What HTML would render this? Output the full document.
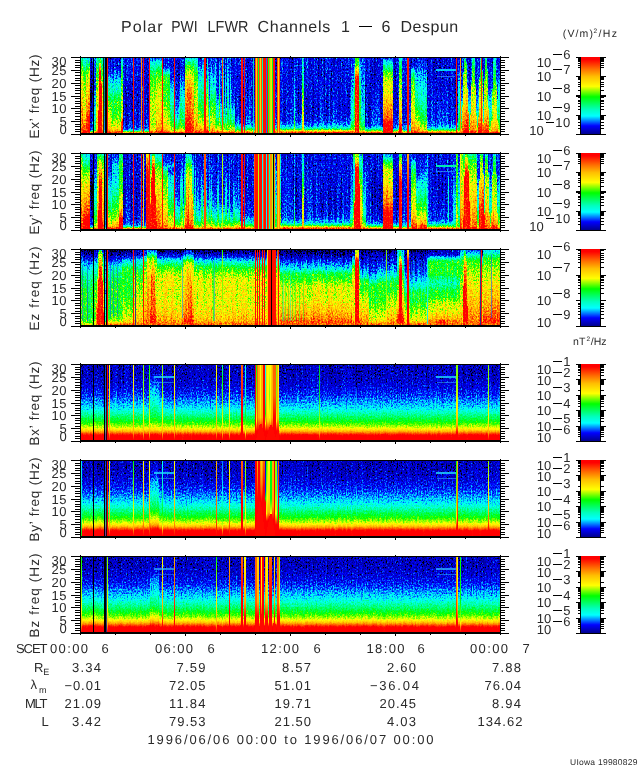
<!DOCTYPE html>
<html><head><meta charset="utf-8"><title>Polar PWI LFWR Channels 1 - 6 Despun</title>
<style>
html,body{margin:0;padding:0;background:#fff;}
body{width:640px;height:768px;overflow:hidden;}
svg{display:block;font-family:"Liberation Sans",sans-serif;}
text{fill:#2a2a2a;}
</style></head><body>
<svg width="640" height="768" viewBox="0 0 640 768" shape-rendering="crispEdges" text-rendering="geometricPrecision">
<defs>
<filter id="cmE" x="0" y="0" width="100%" height="100%" filterUnits="objectBoundingBox" color-interpolation-filters="sRGB">
 <feGaussianBlur in="SourceGraphic" stdDeviation="0.7 0.9" result="v"/>
 <feTurbulence type="fractalNoise" baseFrequency="0.8 0.55" numOctaves="2" seed="7" result="t"/>
 <feColorMatrix in="t" type="matrix" values="1.6 0 0 0 -0.3  1.6 0 0 0 -0.3  1.6 0 0 0 -0.3  0 0 0 0 1" result="n"/>
 <feTurbulence type="fractalNoise" baseFrequency="0.55 0.012" numOctaves="2" seed="11" result="t2"/>
 <feColorMatrix in="t2" type="matrix" values="1.6 0 0 0 -0.3  1.6 0 0 0 -0.3  1.6 0 0 0 -0.3  0 0 0 0 1" result="n2"/>
 <feComposite in="v" in2="n" operator="arithmetic" k1="0.120" k2="0.940" k3="0.2" k4="-0.1" result="s1"/>
 <feComposite in="s1" in2="n2" operator="arithmetic" k1="0" k2="1" k3="0.14" k4="-0.07" result="s"/>
 <feComponentTransfer in="s">
  <feFuncR type="table" tableValues="0.000 0.000 0.000 0.000 0.000 0.000 0.000 0.000 0.000 0.000 0.000 0.000 0.000 0.000 0.000 0.000 0.000 0.000 0.000 0.000 0.000 0.000 0.000 0.000 0.000 0.000 0.000 0.000 0.000 0.000 0.000 0.000 0.000 0.000 0.000 0.000 0.000 0.000 0.000 0.000 0.000 0.000 0.000 0.000 0.000 0.000 0.000 0.000 0.000 0.000 0.000 0.000 0.000 0.000 0.000 0.000 0.000 0.000 0.000 0.000 0.000 0.000 0.000 0.000 0.000 0.000 0.000 0.000 0.000 0.000 0.000 0.000 0.000 0.000 0.000 0.000 0.000 0.000 0.000 0.000 0.000 0.000 0.000 0.011 0.060 0.109 0.159 0.208 0.257 0.306 0.355 0.405 0.454 0.503 0.552 0.601 0.651 0.700 0.749 0.798 0.847 0.897 0.946 0.995 1.000 1.000 1.000 1.000 1.000 1.000 1.000 1.000 1.000 1.000 1.000 1.000 1.000 1.000 1.000 1.000 1.000 1.000 1.000 1.000 1.000 1.000 1.000 1.000 1.000 1.000 1.000 1.000 1.000 1.000 1.000 1.000 1.000 1.000 1.000 1.000 1.000 1.000 1.000 1.000 1.000 1.000 1.000 1.000 1.000 1.000 1.000 1.000 1.000 1.000 1.000 1.000 1.000 1.000 1.000 1.000"/>
  <feFuncG type="table" tableValues="0.000 0.000 0.000 0.000 0.000 0.000 0.000 0.000 0.000 0.000 0.000 0.000 0.000 0.000 0.000 0.000 0.000 0.000 0.000 0.000 0.000 0.000 0.000 0.000 0.000 0.000 0.000 0.000 0.051 0.104 0.157 0.209 0.262 0.315 0.367 0.420 0.473 0.525 0.578 0.631 0.683 0.736 0.789 0.842 0.894 0.947 1.000 1.000 1.000 1.000 1.000 1.000 1.000 1.000 1.000 1.000 1.000 1.000 1.000 1.000 1.000 1.000 1.000 1.000 1.000 1.000 1.000 1.000 1.000 1.000 1.000 1.000 1.000 1.000 1.000 1.000 1.000 1.000 1.000 1.000 1.000 1.000 1.000 1.000 1.000 1.000 1.000 1.000 1.000 1.000 1.000 1.000 1.000 1.000 1.000 1.000 1.000 1.000 1.000 1.000 1.000 1.000 1.000 1.000 0.988 0.975 0.961 0.948 0.934 0.921 0.907 0.894 0.881 0.867 0.854 0.840 0.827 0.813 0.800 0.787 0.773 0.760 0.746 0.725 0.704 0.682 0.660 0.639 0.617 0.595 0.574 0.552 0.531 0.509 0.487 0.466 0.444 0.421 0.397 0.373 0.349 0.325 0.301 0.277 0.253 0.229 0.205 0.181 0.157 0.133 0.109 0.085 0.061 0.036 0.012 0.000 0.000 0.000 0.000 0.000"/>
  <feFuncB type="table" tableValues="0.000 0.000 0.000 0.000 0.000 0.000 0.000 0.000 0.016 0.331 0.515 0.544 0.572 0.601 0.629 0.657 0.686 0.714 0.743 0.771 0.800 0.828 0.857 0.885 0.914 0.942 0.971 0.999 1.000 1.000 1.000 1.000 1.000 1.000 1.000 1.000 1.000 1.000 1.000 1.000 1.000 1.000 1.000 1.000 1.000 1.000 1.000 0.979 0.959 0.938 0.917 0.896 0.875 0.855 0.834 0.813 0.792 0.771 0.751 0.723 0.692 0.662 0.632 0.601 0.571 0.540 0.510 0.480 0.449 0.419 0.388 0.358 0.328 0.297 0.267 0.236 0.206 0.176 0.145 0.115 0.084 0.054 0.024 0.000 0.000 0.000 0.000 0.000 0.000 0.000 0.000 0.000 0.000 0.000 0.000 0.000 0.000 0.000 0.000 0.000 0.000 0.000 0.000 0.000 0.000 0.000 0.000 0.000 0.000 0.000 0.000 0.000 0.000 0.000 0.000 0.000 0.000 0.000 0.000 0.000 0.000 0.000 0.000 0.000 0.000 0.000 0.000 0.000 0.000 0.000 0.000 0.000 0.000 0.000 0.000 0.000 0.000 0.000 0.000 0.000 0.000 0.000 0.000 0.000 0.000 0.000 0.000 0.000 0.000 0.000 0.000 0.000 0.000 0.000 0.000 0.000 0.000 0.000 0.000 0.000"/>
  <feFuncA type="linear" slope="0" intercept="1"/>
 </feComponentTransfer>
</filter>
<filter id="cmB" x="0" y="0" width="100%" height="100%" filterUnits="objectBoundingBox" color-interpolation-filters="sRGB">
 <feGaussianBlur in="SourceGraphic" stdDeviation="0.7 0.9" result="v"/>
 <feTurbulence type="fractalNoise" baseFrequency="0.8 0.55" numOctaves="2" seed="11" result="t"/>
 <feColorMatrix in="t" type="matrix" values="1.6 0 0 0 -0.3  1.6 0 0 0 -0.3  1.6 0 0 0 -0.3  0 0 0 0 1" result="n"/>
 <feTurbulence type="fractalNoise" baseFrequency="0.55 0.012" numOctaves="2" seed="15" result="t2"/>
 <feColorMatrix in="t2" type="matrix" values="1.6 0 0 0 -0.3  1.6 0 0 0 -0.3  1.6 0 0 0 -0.3  0 0 0 0 1" result="n2"/>
 <feComposite in="v" in2="n" operator="arithmetic" k1="-0.176" k2="1.088" k3="0.22" k4="-0.11" result="s1"/>
 <feComposite in="s1" in2="n2" operator="arithmetic" k1="0" k2="1" k3="0.07" k4="-0.035" result="s"/>
 <feComponentTransfer in="s">
  <feFuncR type="table" tableValues="0.000 0.000 0.000 0.000 0.000 0.000 0.000 0.000 0.000 0.000 0.000 0.000 0.000 0.000 0.000 0.000 0.000 0.000 0.000 0.000 0.000 0.000 0.000 0.000 0.000 0.000 0.000 0.000 0.000 0.000 0.000 0.000 0.000 0.000 0.000 0.000 0.000 0.000 0.000 0.000 0.000 0.000 0.000 0.000 0.000 0.000 0.000 0.000 0.000 0.000 0.000 0.000 0.000 0.000 0.000 0.000 0.000 0.000 0.000 0.000 0.000 0.000 0.000 0.000 0.000 0.000 0.000 0.000 0.000 0.000 0.000 0.000 0.000 0.000 0.000 0.000 0.000 0.000 0.000 0.000 0.000 0.000 0.000 0.011 0.060 0.109 0.159 0.208 0.257 0.306 0.355 0.405 0.454 0.503 0.552 0.601 0.651 0.700 0.749 0.798 0.847 0.897 0.946 0.995 1.000 1.000 1.000 1.000 1.000 1.000 1.000 1.000 1.000 1.000 1.000 1.000 1.000 1.000 1.000 1.000 1.000 1.000 1.000 1.000 1.000 1.000 1.000 1.000 1.000 1.000 1.000 1.000 1.000 1.000 1.000 1.000 1.000 1.000 1.000 1.000 1.000 1.000 1.000 1.000 1.000 1.000 1.000 1.000 1.000 1.000 1.000 1.000 1.000 1.000 1.000 1.000 1.000 1.000 1.000 1.000"/>
  <feFuncG type="table" tableValues="0.000 0.000 0.000 0.000 0.000 0.000 0.000 0.000 0.000 0.000 0.000 0.000 0.000 0.000 0.000 0.000 0.000 0.000 0.000 0.000 0.000 0.000 0.000 0.000 0.000 0.000 0.000 0.000 0.051 0.104 0.157 0.209 0.262 0.315 0.367 0.420 0.473 0.525 0.578 0.631 0.683 0.736 0.789 0.842 0.894 0.947 1.000 1.000 1.000 1.000 1.000 1.000 1.000 1.000 1.000 1.000 1.000 1.000 1.000 1.000 1.000 1.000 1.000 1.000 1.000 1.000 1.000 1.000 1.000 1.000 1.000 1.000 1.000 1.000 1.000 1.000 1.000 1.000 1.000 1.000 1.000 1.000 1.000 1.000 1.000 1.000 1.000 1.000 1.000 1.000 1.000 1.000 1.000 1.000 1.000 1.000 1.000 1.000 1.000 1.000 1.000 1.000 1.000 1.000 0.988 0.975 0.961 0.948 0.934 0.921 0.907 0.894 0.881 0.867 0.854 0.840 0.827 0.813 0.800 0.787 0.773 0.760 0.746 0.725 0.704 0.682 0.660 0.639 0.617 0.595 0.574 0.552 0.531 0.509 0.487 0.466 0.444 0.421 0.397 0.373 0.349 0.325 0.301 0.277 0.253 0.229 0.205 0.181 0.157 0.133 0.109 0.085 0.061 0.036 0.012 0.000 0.000 0.000 0.000 0.000"/>
  <feFuncB type="table" tableValues="0.000 0.000 0.000 0.000 0.000 0.000 0.000 0.000 0.016 0.331 0.515 0.544 0.572 0.601 0.629 0.657 0.686 0.714 0.743 0.771 0.800 0.828 0.857 0.885 0.914 0.942 0.971 0.999 1.000 1.000 1.000 1.000 1.000 1.000 1.000 1.000 1.000 1.000 1.000 1.000 1.000 1.000 1.000 1.000 1.000 1.000 1.000 0.979 0.959 0.938 0.917 0.896 0.875 0.855 0.834 0.813 0.792 0.771 0.751 0.723 0.692 0.662 0.632 0.601 0.571 0.540 0.510 0.480 0.449 0.419 0.388 0.358 0.328 0.297 0.267 0.236 0.206 0.176 0.145 0.115 0.084 0.054 0.024 0.000 0.000 0.000 0.000 0.000 0.000 0.000 0.000 0.000 0.000 0.000 0.000 0.000 0.000 0.000 0.000 0.000 0.000 0.000 0.000 0.000 0.000 0.000 0.000 0.000 0.000 0.000 0.000 0.000 0.000 0.000 0.000 0.000 0.000 0.000 0.000 0.000 0.000 0.000 0.000 0.000 0.000 0.000 0.000 0.000 0.000 0.000 0.000 0.000 0.000 0.000 0.000 0.000 0.000 0.000 0.000 0.000 0.000 0.000 0.000 0.000 0.000 0.000 0.000 0.000 0.000 0.000 0.000 0.000 0.000 0.000 0.000 0.000 0.000 0.000 0.000 0.000"/>
  <feFuncA type="linear" slope="0" intercept="1"/>
 </feComponentTransfer>
</filter>
<linearGradient id="g0" gradientUnits="userSpaceOnUse" x1="0" y1="133" x2="0" y2="58"><stop offset="0.000" stop-color="#ffffff"/><stop offset="0.015" stop-color="#dddddd"/><stop offset="0.030" stop-color="#a6a6a6"/><stop offset="0.045" stop-color="#828282"/><stop offset="0.060" stop-color="#5e5e5e"/><stop offset="0.080" stop-color="#4a4a4a"/><stop offset="0.110" stop-color="#3d3d3d"/><stop offset="0.160" stop-color="#2e2e2e"/><stop offset="0.300" stop-color="#272727"/><stop offset="1.000" stop-color="#272727"/></linearGradient>
<linearGradient id="g1" gradientUnits="userSpaceOnUse" x1="0" y1="133" x2="0" y2="58"><stop offset="0.000" stop-color="#dddddd"/><stop offset="0.300" stop-color="#c8c8c8"/><stop offset="0.500" stop-color="#b7b7b7"/><stop offset="0.650" stop-color="#a6a6a6"/><stop offset="0.780" stop-color="#969696"/><stop offset="0.880" stop-color="#828282"/><stop offset="1.000" stop-color="#4a4a4a"/></linearGradient>
<linearGradient id="g2" gradientUnits="userSpaceOnUse" x1="0" y1="133" x2="0" y2="58"><stop offset="0.000" stop-color="#ffffff"/><stop offset="0.080" stop-color="#dddddd"/><stop offset="0.150" stop-color="#c8c8c8"/><stop offset="0.250" stop-color="#b7b7b7"/><stop offset="0.400" stop-color="#a6a6a6"/><stop offset="0.600" stop-color="#969696"/><stop offset="0.780" stop-color="#828282"/><stop offset="0.900" stop-color="#5e5e5e"/><stop offset="1.000" stop-color="#4a4a4a"/></linearGradient>
<linearGradient id="g3" gradientUnits="userSpaceOnUse" x1="0" y1="133" x2="0" y2="58"><stop offset="0.000" stop-color="#ffffff"/><stop offset="0.150" stop-color="#ffffff"/><stop offset="0.300" stop-color="#dddddd"/><stop offset="0.450" stop-color="#c8c8c8"/><stop offset="0.600" stop-color="#b7b7b7"/><stop offset="0.750" stop-color="#a6a6a6"/><stop offset="0.870" stop-color="#828282"/><stop offset="0.940" stop-color="#5e5e5e"/><stop offset="1.000" stop-color="#4a4a4a"/></linearGradient>
<linearGradient id="g4" gradientUnits="userSpaceOnUse" x1="0" y1="133" x2="0" y2="58"><stop offset="0.000" stop-color="#4a4a4a"/><stop offset="0.050" stop-color="#2e2e2e"/><stop offset="0.150" stop-color="#232323"/><stop offset="0.500" stop-color="#0b0b0b"/><stop offset="0.800" stop-color="#232323"/><stop offset="1.000" stop-color="#272727"/></linearGradient>
<linearGradient id="g5" gradientUnits="userSpaceOnUse" x1="0" y1="133" x2="0" y2="58"><stop offset="0.000" stop-color="#828282"/><stop offset="0.200" stop-color="#5e5e5e"/><stop offset="0.450" stop-color="#4a4a4a"/><stop offset="0.600" stop-color="#2e2e2e"/><stop offset="1.000" stop-color="#2e2e2e"/></linearGradient>
<linearGradient id="g6" gradientUnits="userSpaceOnUse" x1="0" y1="133" x2="0" y2="58"><stop offset="0.000" stop-color="#c8c8c8"/><stop offset="0.200" stop-color="#b7b7b7"/><stop offset="0.450" stop-color="#a6a6a6"/><stop offset="0.650" stop-color="#969696"/><stop offset="0.850" stop-color="#828282"/><stop offset="1.000" stop-color="#5e5e5e"/></linearGradient>
<linearGradient id="g7" gradientUnits="userSpaceOnUse" x1="0" y1="133" x2="0" y2="58"><stop offset="0.000" stop-color="#ffffff"/><stop offset="0.800" stop-color="#ffffff"/><stop offset="0.850" stop-color="#dddddd"/><stop offset="0.920" stop-color="#a6a6a6"/><stop offset="1.000" stop-color="#828282"/></linearGradient>
<linearGradient id="g8" gradientUnits="userSpaceOnUse" x1="0" y1="133" x2="0" y2="58"><stop offset="0.000" stop-color="#2e2e2e"/><stop offset="0.100" stop-color="#232323"/><stop offset="0.500" stop-color="#0b0b0b"/><stop offset="1.000" stop-color="#232323"/></linearGradient>
<linearGradient id="g9" gradientUnits="userSpaceOnUse" x1="0" y1="133" x2="0" y2="58"><stop offset="0.000" stop-color="#c8c8c8"/><stop offset="0.040" stop-color="#b7b7b7"/><stop offset="0.100" stop-color="#a6a6a6"/><stop offset="0.160" stop-color="#969696"/><stop offset="0.250" stop-color="#828282"/><stop offset="0.420" stop-color="#828282"/><stop offset="0.550" stop-color="#5e5e5e"/><stop offset="0.680" stop-color="#4a4a4a"/><stop offset="0.750" stop-color="#3d3d3d"/><stop offset="0.850" stop-color="#2e2e2e"/><stop offset="1.000" stop-color="#272727"/></linearGradient>
<linearGradient id="g10" gradientUnits="userSpaceOnUse" x1="0" y1="133" x2="0" y2="58"><stop offset="0.000" stop-color="#c8c8c8"/><stop offset="0.060" stop-color="#b7b7b7"/><stop offset="0.150" stop-color="#a6a6a6"/><stop offset="0.250" stop-color="#969696"/><stop offset="0.400" stop-color="#828282"/><stop offset="0.550" stop-color="#5e5e5e"/><stop offset="0.700" stop-color="#4a4a4a"/><stop offset="0.800" stop-color="#2e2e2e"/><stop offset="1.000" stop-color="#272727"/></linearGradient>
<linearGradient id="g11" gradientUnits="userSpaceOnUse" x1="0" y1="133" x2="0" y2="58"><stop offset="0.000" stop-color="#ffffff"/><stop offset="0.140" stop-color="#ffffff"/><stop offset="0.200" stop-color="#c8c8c8"/><stop offset="0.300" stop-color="#a6a6a6"/><stop offset="0.500" stop-color="#969696"/><stop offset="0.750" stop-color="#828282"/><stop offset="0.900" stop-color="#5e5e5e"/><stop offset="1.000" stop-color="#4a4a4a"/></linearGradient>
<linearGradient id="g12" gradientUnits="userSpaceOnUse" x1="0" y1="133" x2="0" y2="58"><stop offset="0.000" stop-color="#828282"/><stop offset="0.030" stop-color="#4a4a4a"/><stop offset="0.070" stop-color="#2e2e2e"/><stop offset="0.200" stop-color="#272727"/><stop offset="0.500" stop-color="#232323"/><stop offset="0.800" stop-color="#272727"/><stop offset="1.000" stop-color="#272727"/></linearGradient>
<linearGradient id="g13" gradientUnits="userSpaceOnUse" x1="0" y1="133" x2="0" y2="58"><stop offset="0.000" stop-color="#c8c8c8"/><stop offset="0.100" stop-color="#a6a6a6"/><stop offset="0.350" stop-color="#a6a6a6"/><stop offset="0.550" stop-color="#969696"/><stop offset="0.750" stop-color="#828282"/><stop offset="0.880" stop-color="#5e5e5e"/><stop offset="0.950" stop-color="#4a4a4a"/><stop offset="1.000" stop-color="#2e2e2e"/></linearGradient>
<linearGradient id="g14" gradientUnits="userSpaceOnUse" x1="0" y1="133" x2="0" y2="58"><stop offset="0.000" stop-color="#dddddd"/><stop offset="0.080" stop-color="#c8c8c8"/><stop offset="0.200" stop-color="#b7b7b7"/><stop offset="0.500" stop-color="#a6a6a6"/><stop offset="0.660" stop-color="#969696"/><stop offset="0.800" stop-color="#828282"/><stop offset="0.900" stop-color="#5e5e5e"/><stop offset="0.960" stop-color="#4a4a4a"/><stop offset="1.000" stop-color="#2e2e2e"/></linearGradient>
<linearGradient id="g15" gradientUnits="userSpaceOnUse" x1="0" y1="133" x2="0" y2="58"><stop offset="0.000" stop-color="#c8c8c8"/><stop offset="0.100" stop-color="#a6a6a6"/><stop offset="0.250" stop-color="#969696"/><stop offset="0.450" stop-color="#828282"/><stop offset="0.750" stop-color="#828282"/><stop offset="0.800" stop-color="#5e5e5e"/><stop offset="0.870" stop-color="#2e2e2e"/><stop offset="1.000" stop-color="#272727"/></linearGradient>
<linearGradient id="g16" gradientUnits="userSpaceOnUse" x1="0" y1="133" x2="0" y2="58"><stop offset="0.000" stop-color="#a6a6a6"/><stop offset="0.150" stop-color="#828282"/><stop offset="0.400" stop-color="#5e5e5e"/><stop offset="0.600" stop-color="#4a4a4a"/><stop offset="0.720" stop-color="#2e2e2e"/><stop offset="1.000" stop-color="#272727"/></linearGradient>
<linearGradient id="g17" gradientUnits="userSpaceOnUse" x1="0" y1="133" x2="0" y2="58"><stop offset="0.000" stop-color="#a6a6a6"/><stop offset="0.070" stop-color="#828282"/><stop offset="0.250" stop-color="#4a4a4a"/><stop offset="0.450" stop-color="#2e2e2e"/><stop offset="0.800" stop-color="#232323"/><stop offset="1.000" stop-color="#272727"/></linearGradient>
<linearGradient id="g18" gradientUnits="userSpaceOnUse" x1="0" y1="133" x2="0" y2="58"><stop offset="0.000" stop-color="#c8c8c8"/><stop offset="0.100" stop-color="#828282"/><stop offset="0.350" stop-color="#5e5e5e"/><stop offset="0.550" stop-color="#4a4a4a"/><stop offset="0.780" stop-color="#2e2e2e"/><stop offset="1.000" stop-color="#2e2e2e"/></linearGradient>
<linearGradient id="g19" gradientUnits="userSpaceOnUse" x1="0" y1="133" x2="0" y2="58"><stop offset="0.000" stop-color="#ffffff"/><stop offset="0.250" stop-color="#dddddd"/><stop offset="0.500" stop-color="#c8c8c8"/><stop offset="0.620" stop-color="#b7b7b7"/><stop offset="0.750" stop-color="#a6a6a6"/><stop offset="0.880" stop-color="#828282"/><stop offset="1.000" stop-color="#4a4a4a"/></linearGradient>
<linearGradient id="g20" gradientUnits="userSpaceOnUse" x1="0" y1="133" x2="0" y2="58"><stop offset="0.000" stop-color="#ffffff"/><stop offset="0.300" stop-color="#dddddd"/><stop offset="0.500" stop-color="#dddddd"/><stop offset="0.640" stop-color="#c8c8c8"/><stop offset="0.780" stop-color="#a6a6a6"/><stop offset="0.900" stop-color="#828282"/><stop offset="1.000" stop-color="#4a4a4a"/></linearGradient>
<linearGradient id="g21" gradientUnits="userSpaceOnUse" x1="0" y1="133" x2="0" y2="58"><stop offset="0.000" stop-color="#dddddd"/><stop offset="0.100" stop-color="#c8c8c8"/><stop offset="0.300" stop-color="#a6a6a6"/><stop offset="0.600" stop-color="#969696"/><stop offset="0.800" stop-color="#828282"/><stop offset="1.000" stop-color="#4a4a4a"/></linearGradient>
<linearGradient id="g22" gradientUnits="userSpaceOnUse" x1="0" y1="133" x2="0" y2="58"><stop offset="0.000" stop-color="#dddddd"/><stop offset="0.050" stop-color="#c8c8c8"/><stop offset="0.120" stop-color="#a6a6a6"/><stop offset="0.300" stop-color="#828282"/><stop offset="0.600" stop-color="#5e5e5e"/><stop offset="0.800" stop-color="#4a4a4a"/><stop offset="1.000" stop-color="#2e2e2e"/></linearGradient>
<linearGradient id="g23" gradientUnits="userSpaceOnUse" x1="0" y1="133" x2="0" y2="58"><stop offset="0.000" stop-color="#dddddd"/><stop offset="0.050" stop-color="#c8c8c8"/><stop offset="0.120" stop-color="#a6a6a6"/><stop offset="0.250" stop-color="#969696"/><stop offset="0.400" stop-color="#828282"/><stop offset="0.550" stop-color="#5e5e5e"/><stop offset="0.700" stop-color="#4a4a4a"/><stop offset="0.880" stop-color="#2e2e2e"/><stop offset="1.000" stop-color="#272727"/></linearGradient>
<linearGradient id="g24" gradientUnits="userSpaceOnUse" x1="0" y1="133" x2="0" y2="58"><stop offset="0.000" stop-color="#dddddd"/><stop offset="0.100" stop-color="#c8c8c8"/><stop offset="0.300" stop-color="#a6a6a6"/><stop offset="0.500" stop-color="#969696"/><stop offset="0.700" stop-color="#828282"/><stop offset="0.850" stop-color="#5e5e5e"/><stop offset="1.000" stop-color="#4a4a4a"/></linearGradient>
<linearGradient id="g25" gradientUnits="userSpaceOnUse" x1="0" y1="133" x2="0" y2="58"><stop offset="0.000" stop-color="#828282"/><stop offset="0.150" stop-color="#5e5e5e"/><stop offset="0.300" stop-color="#4a4a4a"/><stop offset="0.550" stop-color="#2e2e2e"/><stop offset="1.000" stop-color="#272727"/></linearGradient>
<linearGradient id="g26" gradientUnits="userSpaceOnUse" x1="0" y1="133" x2="0" y2="58"><stop offset="0.000" stop-color="#c8c8c8"/><stop offset="0.050" stop-color="#a6a6a6"/><stop offset="0.100" stop-color="#828282"/><stop offset="0.200" stop-color="#5e5e5e"/><stop offset="0.320" stop-color="#4a4a4a"/><stop offset="0.500" stop-color="#2e2e2e"/><stop offset="1.000" stop-color="#272727"/></linearGradient>
<linearGradient id="g27" gradientUnits="userSpaceOnUse" x1="0" y1="133" x2="0" y2="58"><stop offset="0.000" stop-color="#a6a6a6"/><stop offset="0.150" stop-color="#969696"/><stop offset="0.400" stop-color="#828282"/><stop offset="0.600" stop-color="#5e5e5e"/><stop offset="0.800" stop-color="#4a4a4a"/><stop offset="1.000" stop-color="#2e2e2e"/></linearGradient>
<linearGradient id="g28" gradientUnits="userSpaceOnUse" x1="0" y1="133" x2="0" y2="58"><stop offset="0.000" stop-color="#c8c8c8"/><stop offset="0.040" stop-color="#a6a6a6"/><stop offset="0.090" stop-color="#828282"/><stop offset="0.160" stop-color="#5e5e5e"/><stop offset="0.260" stop-color="#4a4a4a"/><stop offset="0.420" stop-color="#2e2e2e"/><stop offset="0.800" stop-color="#272727"/><stop offset="1.000" stop-color="#272727"/></linearGradient>
<linearGradient id="g29" gradientUnits="userSpaceOnUse" x1="0" y1="133" x2="0" y2="58"><stop offset="0.000" stop-color="#a6a6a6"/><stop offset="0.150" stop-color="#828282"/><stop offset="0.400" stop-color="#5e5e5e"/><stop offset="0.700" stop-color="#4a4a4a"/><stop offset="1.000" stop-color="#2e2e2e"/></linearGradient>
<linearGradient id="g30" gradientUnits="userSpaceOnUse" x1="0" y1="133" x2="0" y2="58"><stop offset="0.000" stop-color="#a6a6a6"/><stop offset="0.040" stop-color="#828282"/><stop offset="0.100" stop-color="#4a4a4a"/><stop offset="0.200" stop-color="#2e2e2e"/><stop offset="0.500" stop-color="#272727"/><stop offset="1.000" stop-color="#272727"/></linearGradient>
<linearGradient id="g31" gradientUnits="userSpaceOnUse" x1="0" y1="133" x2="0" y2="58"><stop offset="0.000" stop-color="#c8c8c8"/><stop offset="0.040" stop-color="#828282"/><stop offset="0.080" stop-color="#4a4a4a"/><stop offset="0.150" stop-color="#2e2e2e"/><stop offset="0.400" stop-color="#272727"/><stop offset="1.000" stop-color="#272727"/></linearGradient>
<linearGradient id="g32" gradientUnits="userSpaceOnUse" x1="0" y1="133" x2="0" y2="58"><stop offset="0.000" stop-color="#a6a6a6"/><stop offset="0.100" stop-color="#828282"/><stop offset="0.300" stop-color="#4a4a4a"/><stop offset="0.600" stop-color="#3d3d3d"/><stop offset="1.000" stop-color="#2e2e2e"/></linearGradient>
<linearGradient id="g33" gradientUnits="userSpaceOnUse" x1="0" y1="133" x2="0" y2="58"><stop offset="0.000" stop-color="#c8c8c8"/><stop offset="0.120" stop-color="#a6a6a6"/><stop offset="0.350" stop-color="#969696"/><stop offset="0.550" stop-color="#828282"/><stop offset="0.750" stop-color="#5e5e5e"/><stop offset="1.000" stop-color="#4a4a4a"/></linearGradient>
<linearGradient id="g34" gradientUnits="userSpaceOnUse" x1="0" y1="133" x2="0" y2="58"><stop offset="0.000" stop-color="#c8c8c8"/><stop offset="0.030" stop-color="#a6a6a6"/><stop offset="0.080" stop-color="#828282"/><stop offset="0.200" stop-color="#5e5e5e"/><stop offset="0.400" stop-color="#4a4a4a"/><stop offset="0.600" stop-color="#3d3d3d"/><stop offset="0.820" stop-color="#2e2e2e"/><stop offset="1.000" stop-color="#272727"/></linearGradient>
<linearGradient id="g35" gradientUnits="userSpaceOnUse" x1="0" y1="133" x2="0" y2="58"><stop offset="0.000" stop-color="#a6a6a6"/><stop offset="0.100" stop-color="#969696"/><stop offset="0.350" stop-color="#828282"/><stop offset="0.500" stop-color="#828282"/><stop offset="0.700" stop-color="#5e5e5e"/><stop offset="0.850" stop-color="#4a4a4a"/><stop offset="0.930" stop-color="#3d3d3d"/><stop offset="1.000" stop-color="#2e2e2e"/></linearGradient>
<linearGradient id="g36" gradientUnits="userSpaceOnUse" x1="0" y1="133" x2="0" y2="58"><stop offset="0.000" stop-color="#ffffff"/><stop offset="0.720" stop-color="#ffffff"/><stop offset="0.800" stop-color="#c8c8c8"/><stop offset="0.860" stop-color="#a6a6a6"/><stop offset="0.920" stop-color="#828282"/><stop offset="1.000" stop-color="#828282"/></linearGradient>
<linearGradient id="g37" gradientUnits="userSpaceOnUse" x1="0" y1="133" x2="0" y2="58"><stop offset="0.000" stop-color="#c8c8c8"/><stop offset="0.030" stop-color="#828282"/><stop offset="0.060" stop-color="#4a4a4a"/><stop offset="0.100" stop-color="#2e2e2e"/><stop offset="0.250" stop-color="#272727"/><stop offset="0.500" stop-color="#232323"/><stop offset="1.000" stop-color="#272727"/></linearGradient>
<linearGradient id="g38" gradientUnits="userSpaceOnUse" x1="0" y1="133" x2="0" y2="58"><stop offset="0.000" stop-color="#ffffff"/><stop offset="0.130" stop-color="#ffffff"/><stop offset="0.200" stop-color="#dddddd"/><stop offset="0.350" stop-color="#c8c8c8"/><stop offset="0.450" stop-color="#b7b7b7"/><stop offset="0.550" stop-color="#a6a6a6"/><stop offset="0.680" stop-color="#a6a6a6"/><stop offset="0.760" stop-color="#969696"/><stop offset="0.820" stop-color="#828282"/><stop offset="0.900" stop-color="#5e5e5e"/><stop offset="0.950" stop-color="#4a4a4a"/><stop offset="1.000" stop-color="#2e2e2e"/></linearGradient>
<linearGradient id="g39" gradientUnits="userSpaceOnUse" x1="0" y1="133" x2="0" y2="58"><stop offset="0.000" stop-color="#c8c8c8"/><stop offset="0.050" stop-color="#4a4a4a"/><stop offset="0.100" stop-color="#2e2e2e"/><stop offset="0.300" stop-color="#272727"/><stop offset="0.600" stop-color="#232323"/><stop offset="1.000" stop-color="#272727"/></linearGradient>
<linearGradient id="g40" gradientUnits="userSpaceOnUse" x1="0" y1="133" x2="0" y2="58"><stop offset="0.000" stop-color="#ffffff"/><stop offset="0.080" stop-color="#ffffff"/><stop offset="0.180" stop-color="#c8c8c8"/><stop offset="0.300" stop-color="#b7b7b7"/><stop offset="0.450" stop-color="#a6a6a6"/><stop offset="0.650" stop-color="#969696"/><stop offset="0.820" stop-color="#828282"/><stop offset="0.950" stop-color="#5e5e5e"/><stop offset="1.000" stop-color="#4a4a4a"/></linearGradient>
<linearGradient id="g41" gradientUnits="userSpaceOnUse" x1="0" y1="133" x2="0" y2="58"><stop offset="0.000" stop-color="#828282"/><stop offset="0.050" stop-color="#4a4a4a"/><stop offset="0.120" stop-color="#2e2e2e"/><stop offset="0.500" stop-color="#272727"/><stop offset="1.000" stop-color="#2e2e2e"/></linearGradient>
<linearGradient id="g42" gradientUnits="userSpaceOnUse" x1="0" y1="133" x2="0" y2="58"><stop offset="0.000" stop-color="#dddddd"/><stop offset="0.100" stop-color="#c8c8c8"/><stop offset="0.250" stop-color="#a6a6a6"/><stop offset="0.500" stop-color="#969696"/><stop offset="0.700" stop-color="#828282"/><stop offset="0.820" stop-color="#5e5e5e"/><stop offset="0.880" stop-color="#2e2e2e"/><stop offset="1.000" stop-color="#272727"/></linearGradient>
<linearGradient id="g43" gradientUnits="userSpaceOnUse" x1="0" y1="133" x2="0" y2="58"><stop offset="0.000" stop-color="#dddddd"/><stop offset="0.080" stop-color="#c8c8c8"/><stop offset="0.140" stop-color="#a6a6a6"/><stop offset="0.300" stop-color="#828282"/><stop offset="0.500" stop-color="#5e5e5e"/><stop offset="0.700" stop-color="#4a4a4a"/><stop offset="0.820" stop-color="#3d3d3d"/><stop offset="0.880" stop-color="#2e2e2e"/><stop offset="1.000" stop-color="#272727"/></linearGradient>
<linearGradient id="g44" gradientUnits="userSpaceOnUse" x1="0" y1="133" x2="0" y2="58"><stop offset="0.000" stop-color="#c8c8c8"/><stop offset="0.050" stop-color="#a6a6a6"/><stop offset="0.150" stop-color="#828282"/><stop offset="0.400" stop-color="#5e5e5e"/><stop offset="0.650" stop-color="#4a4a4a"/><stop offset="0.800" stop-color="#3d3d3d"/><stop offset="0.880" stop-color="#2e2e2e"/><stop offset="1.000" stop-color="#272727"/></linearGradient>
<linearGradient id="g45" gradientUnits="userSpaceOnUse" x1="0" y1="133" x2="0" y2="58"><stop offset="0.000" stop-color="#c8c8c8"/><stop offset="0.015" stop-color="#a6a6a6"/><stop offset="0.035" stop-color="#828282"/><stop offset="0.060" stop-color="#4a4a4a"/><stop offset="0.090" stop-color="#3d3d3d"/><stop offset="0.130" stop-color="#2e2e2e"/><stop offset="0.300" stop-color="#272727"/><stop offset="0.600" stop-color="#232323"/><stop offset="1.000" stop-color="#272727"/></linearGradient>
<linearGradient id="g46" gradientUnits="userSpaceOnUse" x1="0" y1="133" x2="0" y2="58"><stop offset="0.000" stop-color="#828282"/><stop offset="0.300" stop-color="#5e5e5e"/><stop offset="0.600" stop-color="#4a4a4a"/><stop offset="0.900" stop-color="#2e2e2e"/></linearGradient>
<linearGradient id="g47" gradientUnits="userSpaceOnUse" x1="0" y1="133" x2="0" y2="58"><stop offset="0.000" stop-color="#a6a6a6"/><stop offset="0.100" stop-color="#828282"/><stop offset="0.220" stop-color="#5e5e5e"/><stop offset="0.380" stop-color="#4a4a4a"/><stop offset="0.600" stop-color="#2e2e2e"/><stop offset="1.000" stop-color="#272727"/></linearGradient>
<linearGradient id="g48" gradientUnits="userSpaceOnUse" x1="0" y1="133" x2="0" y2="58"><stop offset="0.000" stop-color="#ffffff"/><stop offset="0.120" stop-color="#dddddd"/><stop offset="0.280" stop-color="#c8c8c8"/><stop offset="0.400" stop-color="#b7b7b7"/><stop offset="0.550" stop-color="#a6a6a6"/><stop offset="0.750" stop-color="#969696"/><stop offset="0.900" stop-color="#828282"/><stop offset="1.000" stop-color="#5e5e5e"/></linearGradient>
<linearGradient id="g49" gradientUnits="userSpaceOnUse" x1="0" y1="133" x2="0" y2="58"><stop offset="0.000" stop-color="#dddddd"/><stop offset="0.120" stop-color="#c8c8c8"/><stop offset="0.220" stop-color="#b7b7b7"/><stop offset="0.400" stop-color="#a6a6a6"/><stop offset="0.600" stop-color="#969696"/><stop offset="0.820" stop-color="#828282"/><stop offset="1.000" stop-color="#5e5e5e"/></linearGradient>
<linearGradient id="g50" gradientUnits="userSpaceOnUse" x1="0" y1="133" x2="0" y2="58"><stop offset="0.000" stop-color="#ffffff"/><stop offset="0.150" stop-color="#c8c8c8"/><stop offset="0.400" stop-color="#a6a6a6"/><stop offset="0.650" stop-color="#969696"/><stop offset="0.850" stop-color="#828282"/><stop offset="1.000" stop-color="#5e5e5e"/></linearGradient>
<linearGradient id="g51" gradientUnits="userSpaceOnUse" x1="0" y1="133" x2="0" y2="58"><stop offset="0.000" stop-color="#ffffff"/><stop offset="0.100" stop-color="#dddddd"/><stop offset="0.200" stop-color="#c8c8c8"/><stop offset="0.420" stop-color="#a6a6a6"/><stop offset="0.650" stop-color="#969696"/><stop offset="0.850" stop-color="#828282"/><stop offset="1.000" stop-color="#5e5e5e"/></linearGradient>
<linearGradient id="g52" gradientUnits="userSpaceOnUse" x1="0" y1="133" x2="0" y2="58"><stop offset="0.000" stop-color="#c8c8c8"/><stop offset="0.200" stop-color="#a6a6a6"/><stop offset="0.500" stop-color="#969696"/><stop offset="0.750" stop-color="#828282"/><stop offset="1.000" stop-color="#5e5e5e"/></linearGradient>
<linearGradient id="g53" gradientUnits="userSpaceOnUse" x1="0" y1="133" x2="0" y2="58"><stop offset="0.000" stop-color="#a6a6a6"/><stop offset="0.150" stop-color="#828282"/><stop offset="0.400" stop-color="#5e5e5e"/><stop offset="0.600" stop-color="#4a4a4a"/><stop offset="0.800" stop-color="#2e2e2e"/><stop offset="1.000" stop-color="#272727"/></linearGradient>
<linearGradient id="g54" gradientUnits="userSpaceOnUse" x1="0" y1="229" x2="0" y2="154"><stop offset="0.000" stop-color="#ffffff"/><stop offset="0.015" stop-color="#dddddd"/><stop offset="0.030" stop-color="#a6a6a6"/><stop offset="0.045" stop-color="#828282"/><stop offset="0.060" stop-color="#5e5e5e"/><stop offset="0.080" stop-color="#4a4a4a"/><stop offset="0.110" stop-color="#3d3d3d"/><stop offset="0.160" stop-color="#2e2e2e"/><stop offset="0.300" stop-color="#272727"/><stop offset="1.000" stop-color="#272727"/></linearGradient>
<linearGradient id="g55" gradientUnits="userSpaceOnUse" x1="0" y1="229" x2="0" y2="154"><stop offset="0.000" stop-color="#ffffff"/><stop offset="0.200" stop-color="#dddddd"/><stop offset="0.420" stop-color="#c8c8c8"/><stop offset="0.600" stop-color="#b7b7b7"/><stop offset="0.720" stop-color="#a6a6a6"/><stop offset="0.850" stop-color="#969696"/><stop offset="0.950" stop-color="#828282"/><stop offset="1.000" stop-color="#5e5e5e"/></linearGradient>
<linearGradient id="g56" gradientUnits="userSpaceOnUse" x1="0" y1="229" x2="0" y2="154"><stop offset="0.000" stop-color="#ffffff"/><stop offset="0.120" stop-color="#ffffff"/><stop offset="0.220" stop-color="#dddddd"/><stop offset="0.360" stop-color="#c8c8c8"/><stop offset="0.480" stop-color="#b7b7b7"/><stop offset="0.600" stop-color="#a6a6a6"/><stop offset="0.700" stop-color="#969696"/><stop offset="0.800" stop-color="#828282"/><stop offset="0.900" stop-color="#5e5e5e"/><stop offset="1.000" stop-color="#4a4a4a"/></linearGradient>
<linearGradient id="g57" gradientUnits="userSpaceOnUse" x1="0" y1="229" x2="0" y2="154"><stop offset="0.000" stop-color="#4a4a4a"/><stop offset="0.050" stop-color="#2e2e2e"/><stop offset="0.150" stop-color="#232323"/><stop offset="0.500" stop-color="#0b0b0b"/><stop offset="0.800" stop-color="#232323"/><stop offset="1.000" stop-color="#272727"/></linearGradient>
<linearGradient id="g58" gradientUnits="userSpaceOnUse" x1="0" y1="229" x2="0" y2="154"><stop offset="0.000" stop-color="#a6a6a6"/><stop offset="0.150" stop-color="#828282"/><stop offset="0.350" stop-color="#5e5e5e"/><stop offset="0.600" stop-color="#4a4a4a"/><stop offset="0.850" stop-color="#2e2e2e"/><stop offset="1.000" stop-color="#2e2e2e"/></linearGradient>
<linearGradient id="g59" gradientUnits="userSpaceOnUse" x1="0" y1="229" x2="0" y2="154"><stop offset="0.000" stop-color="#dddddd"/><stop offset="0.200" stop-color="#c8c8c8"/><stop offset="0.400" stop-color="#b7b7b7"/><stop offset="0.600" stop-color="#a6a6a6"/><stop offset="0.800" stop-color="#969696"/><stop offset="0.920" stop-color="#828282"/><stop offset="1.000" stop-color="#5e5e5e"/></linearGradient>
<linearGradient id="g60" gradientUnits="userSpaceOnUse" x1="0" y1="229" x2="0" y2="154"><stop offset="0.000" stop-color="#ffffff"/><stop offset="0.600" stop-color="#ffffff"/><stop offset="0.720" stop-color="#dddddd"/><stop offset="0.800" stop-color="#c8c8c8"/><stop offset="0.900" stop-color="#a6a6a6"/><stop offset="1.000" stop-color="#828282"/></linearGradient>
<linearGradient id="g61" gradientUnits="userSpaceOnUse" x1="0" y1="229" x2="0" y2="154"><stop offset="0.000" stop-color="#2e2e2e"/><stop offset="0.100" stop-color="#232323"/><stop offset="0.500" stop-color="#0b0b0b"/><stop offset="1.000" stop-color="#232323"/></linearGradient>
<linearGradient id="g62" gradientUnits="userSpaceOnUse" x1="0" y1="229" x2="0" y2="154"><stop offset="0.000" stop-color="#c8c8c8"/><stop offset="0.060" stop-color="#a6a6a6"/><stop offset="0.200" stop-color="#828282"/><stop offset="0.400" stop-color="#5e5e5e"/><stop offset="0.600" stop-color="#4a4a4a"/><stop offset="0.800" stop-color="#2e2e2e"/><stop offset="1.000" stop-color="#272727"/></linearGradient>
<linearGradient id="g63" gradientUnits="userSpaceOnUse" x1="0" y1="229" x2="0" y2="154"><stop offset="0.000" stop-color="#dddddd"/><stop offset="0.040" stop-color="#c8c8c8"/><stop offset="0.100" stop-color="#a6a6a6"/><stop offset="0.170" stop-color="#969696"/><stop offset="0.270" stop-color="#828282"/><stop offset="0.400" stop-color="#6f6f6f"/><stop offset="0.500" stop-color="#5e5e5e"/><stop offset="0.650" stop-color="#4a4a4a"/><stop offset="0.850" stop-color="#4a4a4a"/><stop offset="0.950" stop-color="#2e2e2e"/></linearGradient>
<linearGradient id="g64" gradientUnits="userSpaceOnUse" x1="0" y1="229" x2="0" y2="154"><stop offset="0.000" stop-color="#ffffff"/><stop offset="0.130" stop-color="#ffffff"/><stop offset="0.200" stop-color="#c8c8c8"/><stop offset="0.300" stop-color="#a6a6a6"/><stop offset="0.450" stop-color="#969696"/><stop offset="0.600" stop-color="#828282"/><stop offset="0.850" stop-color="#828282"/><stop offset="1.000" stop-color="#5e5e5e"/></linearGradient>
<linearGradient id="g65" gradientUnits="userSpaceOnUse" x1="0" y1="229" x2="0" y2="154"><stop offset="0.000" stop-color="#828282"/><stop offset="0.030" stop-color="#4a4a4a"/><stop offset="0.070" stop-color="#2e2e2e"/><stop offset="0.200" stop-color="#272727"/><stop offset="0.500" stop-color="#232323"/><stop offset="0.800" stop-color="#272727"/><stop offset="1.000" stop-color="#272727"/></linearGradient>
<linearGradient id="g66" gradientUnits="userSpaceOnUse" x1="0" y1="229" x2="0" y2="154"><stop offset="0.000" stop-color="#ffffff"/><stop offset="0.700" stop-color="#ffffff"/><stop offset="0.850" stop-color="#dddddd"/><stop offset="0.940" stop-color="#c8c8c8"/><stop offset="1.000" stop-color="#a6a6a6"/></linearGradient>
<linearGradient id="g67" gradientUnits="userSpaceOnUse" x1="0" y1="229" x2="0" y2="154"><stop offset="0.000" stop-color="#dddddd"/><stop offset="0.200" stop-color="#c8c8c8"/><stop offset="0.400" stop-color="#b7b7b7"/><stop offset="0.600" stop-color="#a6a6a6"/><stop offset="0.750" stop-color="#969696"/><stop offset="0.850" stop-color="#828282"/><stop offset="0.920" stop-color="#5e5e5e"/><stop offset="1.000" stop-color="#4a4a4a"/></linearGradient>
<linearGradient id="g68" gradientUnits="userSpaceOnUse" x1="0" y1="229" x2="0" y2="154"><stop offset="0.000" stop-color="#ffffff"/><stop offset="0.750" stop-color="#ffffff"/><stop offset="0.850" stop-color="#dddddd"/><stop offset="0.900" stop-color="#c8c8c8"/><stop offset="0.950" stop-color="#a6a6a6"/><stop offset="1.000" stop-color="#828282"/></linearGradient>
<linearGradient id="g69" gradientUnits="userSpaceOnUse" x1="0" y1="229" x2="0" y2="154"><stop offset="0.000" stop-color="#dddddd"/><stop offset="0.120" stop-color="#c8c8c8"/><stop offset="0.250" stop-color="#b7b7b7"/><stop offset="0.400" stop-color="#a6a6a6"/><stop offset="0.580" stop-color="#969696"/><stop offset="0.720" stop-color="#828282"/><stop offset="0.780" stop-color="#5e5e5e"/><stop offset="0.830" stop-color="#4a4a4a"/><stop offset="0.890" stop-color="#2e2e2e"/><stop offset="1.000" stop-color="#272727"/></linearGradient>
<linearGradient id="g70" gradientUnits="userSpaceOnUse" x1="0" y1="229" x2="0" y2="154"><stop offset="0.000" stop-color="#c8c8c8"/><stop offset="0.100" stop-color="#a6a6a6"/><stop offset="0.180" stop-color="#969696"/><stop offset="0.300" stop-color="#828282"/><stop offset="0.500" stop-color="#5e5e5e"/><stop offset="0.700" stop-color="#4a4a4a"/><stop offset="0.760" stop-color="#2e2e2e"/><stop offset="0.800" stop-color="#2e2e2e"/><stop offset="0.840" stop-color="#4a4a4a"/><stop offset="0.900" stop-color="#2e2e2e"/><stop offset="1.000" stop-color="#272727"/></linearGradient>
<linearGradient id="g71" gradientUnits="userSpaceOnUse" x1="0" y1="229" x2="0" y2="154"><stop offset="0.000" stop-color="#a6a6a6"/><stop offset="0.070" stop-color="#828282"/><stop offset="0.160" stop-color="#5e5e5e"/><stop offset="0.280" stop-color="#4a4a4a"/><stop offset="0.450" stop-color="#2e2e2e"/><stop offset="0.800" stop-color="#272727"/><stop offset="1.000" stop-color="#272727"/></linearGradient>
<linearGradient id="g72" gradientUnits="userSpaceOnUse" x1="0" y1="229" x2="0" y2="154"><stop offset="0.000" stop-color="#a6a6a6"/><stop offset="0.200" stop-color="#828282"/><stop offset="0.400" stop-color="#5e5e5e"/><stop offset="0.600" stop-color="#4a4a4a"/><stop offset="0.850" stop-color="#2e2e2e"/></linearGradient>
<linearGradient id="g73" gradientUnits="userSpaceOnUse" x1="0" y1="229" x2="0" y2="154"><stop offset="0.000" stop-color="#dddddd"/><stop offset="0.100" stop-color="#a6a6a6"/><stop offset="0.300" stop-color="#828282"/><stop offset="0.550" stop-color="#5e5e5e"/><stop offset="0.780" stop-color="#4a4a4a"/><stop offset="0.950" stop-color="#2e2e2e"/></linearGradient>
<linearGradient id="g74" gradientUnits="userSpaceOnUse" x1="0" y1="229" x2="0" y2="154"><stop offset="0.000" stop-color="#ffffff"/><stop offset="0.080" stop-color="#dddddd"/><stop offset="0.250" stop-color="#c8c8c8"/><stop offset="0.450" stop-color="#b7b7b7"/><stop offset="0.650" stop-color="#a6a6a6"/><stop offset="0.780" stop-color="#969696"/><stop offset="0.860" stop-color="#828282"/><stop offset="0.930" stop-color="#5e5e5e"/><stop offset="1.000" stop-color="#4a4a4a"/></linearGradient>
<linearGradient id="g75" gradientUnits="userSpaceOnUse" x1="0" y1="229" x2="0" y2="154"><stop offset="0.000" stop-color="#ffffff"/><stop offset="0.300" stop-color="#dddddd"/><stop offset="0.550" stop-color="#c8c8c8"/><stop offset="0.700" stop-color="#b7b7b7"/><stop offset="0.780" stop-color="#a6a6a6"/><stop offset="0.880" stop-color="#828282"/><stop offset="1.000" stop-color="#4a4a4a"/></linearGradient>
<linearGradient id="g76" gradientUnits="userSpaceOnUse" x1="0" y1="229" x2="0" y2="154"><stop offset="0.000" stop-color="#a6a6a6"/><stop offset="0.060" stop-color="#828282"/><stop offset="0.130" stop-color="#5e5e5e"/><stop offset="0.240" stop-color="#4a4a4a"/><stop offset="0.360" stop-color="#3d3d3d"/><stop offset="0.500" stop-color="#2e2e2e"/><stop offset="1.000" stop-color="#272727"/></linearGradient>
<linearGradient id="g77" gradientUnits="userSpaceOnUse" x1="0" y1="229" x2="0" y2="154"><stop offset="0.000" stop-color="#a6a6a6"/><stop offset="0.150" stop-color="#828282"/><stop offset="0.350" stop-color="#5e5e5e"/><stop offset="0.550" stop-color="#4a4a4a"/><stop offset="0.700" stop-color="#3d3d3d"/><stop offset="0.850" stop-color="#2e2e2e"/></linearGradient>
<linearGradient id="g78" gradientUnits="userSpaceOnUse" x1="0" y1="229" x2="0" y2="154"><stop offset="0.000" stop-color="#c8c8c8"/><stop offset="0.040" stop-color="#a6a6a6"/><stop offset="0.100" stop-color="#828282"/><stop offset="0.200" stop-color="#5e5e5e"/><stop offset="0.300" stop-color="#4a4a4a"/><stop offset="0.420" stop-color="#3d3d3d"/><stop offset="0.550" stop-color="#2e2e2e"/><stop offset="1.000" stop-color="#272727"/></linearGradient>
<linearGradient id="g79" gradientUnits="userSpaceOnUse" x1="0" y1="229" x2="0" y2="154"><stop offset="0.000" stop-color="#a6a6a6"/><stop offset="0.060" stop-color="#828282"/><stop offset="0.140" stop-color="#5e5e5e"/><stop offset="0.240" stop-color="#4a4a4a"/><stop offset="0.400" stop-color="#2e2e2e"/><stop offset="1.000" stop-color="#272727"/></linearGradient>
<linearGradient id="g80" gradientUnits="userSpaceOnUse" x1="0" y1="229" x2="0" y2="154"><stop offset="0.000" stop-color="#a6a6a6"/><stop offset="0.120" stop-color="#828282"/><stop offset="0.300" stop-color="#5e5e5e"/><stop offset="0.500" stop-color="#4a4a4a"/><stop offset="0.620" stop-color="#3d3d3d"/><stop offset="0.750" stop-color="#2e2e2e"/></linearGradient>
<linearGradient id="g81" gradientUnits="userSpaceOnUse" x1="0" y1="229" x2="0" y2="154"><stop offset="0.000" stop-color="#c8c8c8"/><stop offset="0.030" stop-color="#a6a6a6"/><stop offset="0.080" stop-color="#828282"/><stop offset="0.130" stop-color="#5e5e5e"/><stop offset="0.200" stop-color="#4a4a4a"/><stop offset="0.350" stop-color="#2e2e2e"/><stop offset="0.700" stop-color="#272727"/><stop offset="1.000" stop-color="#272727"/></linearGradient>
<linearGradient id="g82" gradientUnits="userSpaceOnUse" x1="0" y1="229" x2="0" y2="154"><stop offset="0.000" stop-color="#a6a6a6"/><stop offset="0.120" stop-color="#828282"/><stop offset="0.300" stop-color="#5e5e5e"/><stop offset="0.500" stop-color="#4a4a4a"/><stop offset="0.620" stop-color="#3d3d3d"/><stop offset="0.780" stop-color="#2e2e2e"/></linearGradient>
<linearGradient id="g83" gradientUnits="userSpaceOnUse" x1="0" y1="229" x2="0" y2="154"><stop offset="0.000" stop-color="#c8c8c8"/><stop offset="0.040" stop-color="#828282"/><stop offset="0.100" stop-color="#4a4a4a"/><stop offset="0.200" stop-color="#2e2e2e"/><stop offset="0.500" stop-color="#272727"/><stop offset="1.000" stop-color="#272727"/></linearGradient>
<linearGradient id="g84" gradientUnits="userSpaceOnUse" x1="0" y1="229" x2="0" y2="154"><stop offset="0.000" stop-color="#a6a6a6"/><stop offset="0.300" stop-color="#828282"/><stop offset="0.600" stop-color="#5e5e5e"/><stop offset="1.000" stop-color="#4a4a4a"/></linearGradient>
<linearGradient id="g85" gradientUnits="userSpaceOnUse" x1="0" y1="229" x2="0" y2="154"><stop offset="0.000" stop-color="#828282"/><stop offset="0.300" stop-color="#5e5e5e"/><stop offset="0.600" stop-color="#4a4a4a"/><stop offset="1.000" stop-color="#2e2e2e"/></linearGradient>
<linearGradient id="g86" gradientUnits="userSpaceOnUse" x1="0" y1="229" x2="0" y2="154"><stop offset="0.000" stop-color="#a6a6a6"/><stop offset="0.100" stop-color="#828282"/><stop offset="0.300" stop-color="#4a4a4a"/><stop offset="0.500" stop-color="#3d3d3d"/><stop offset="0.700" stop-color="#2e2e2e"/></linearGradient>
<linearGradient id="g87" gradientUnits="userSpaceOnUse" x1="0" y1="229" x2="0" y2="154"><stop offset="0.000" stop-color="#c8c8c8"/><stop offset="0.120" stop-color="#a6a6a6"/><stop offset="0.350" stop-color="#969696"/><stop offset="0.550" stop-color="#828282"/><stop offset="0.750" stop-color="#5e5e5e"/><stop offset="1.000" stop-color="#4a4a4a"/></linearGradient>
<linearGradient id="g88" gradientUnits="userSpaceOnUse" x1="0" y1="229" x2="0" y2="154"><stop offset="0.000" stop-color="#c8c8c8"/><stop offset="0.030" stop-color="#a6a6a6"/><stop offset="0.070" stop-color="#828282"/><stop offset="0.160" stop-color="#5e5e5e"/><stop offset="0.320" stop-color="#4a4a4a"/><stop offset="0.550" stop-color="#3d3d3d"/><stop offset="0.800" stop-color="#2e2e2e"/><stop offset="1.000" stop-color="#272727"/></linearGradient>
<linearGradient id="g89" gradientUnits="userSpaceOnUse" x1="0" y1="229" x2="0" y2="154"><stop offset="0.000" stop-color="#a6a6a6"/><stop offset="0.150" stop-color="#969696"/><stop offset="0.350" stop-color="#828282"/><stop offset="0.600" stop-color="#5e5e5e"/><stop offset="0.800" stop-color="#4a4a4a"/><stop offset="0.900" stop-color="#5e5e5e"/><stop offset="1.000" stop-color="#828282"/></linearGradient>
<linearGradient id="g90" gradientUnits="userSpaceOnUse" x1="0" y1="229" x2="0" y2="154"><stop offset="0.000" stop-color="#c8c8c8"/><stop offset="0.200" stop-color="#b7b7b7"/><stop offset="0.400" stop-color="#a6a6a6"/><stop offset="0.550" stop-color="#969696"/><stop offset="0.700" stop-color="#828282"/><stop offset="0.850" stop-color="#5e5e5e"/><stop offset="1.000" stop-color="#4a4a4a"/></linearGradient>
<linearGradient id="g91" gradientUnits="userSpaceOnUse" x1="0" y1="229" x2="0" y2="154"><stop offset="0.000" stop-color="#ffffff"/><stop offset="0.800" stop-color="#ffffff"/><stop offset="0.850" stop-color="#dddddd"/><stop offset="0.920" stop-color="#a6a6a6"/><stop offset="1.000" stop-color="#969696"/></linearGradient>
<linearGradient id="g92" gradientUnits="userSpaceOnUse" x1="0" y1="229" x2="0" y2="154"><stop offset="0.000" stop-color="#c8c8c8"/><stop offset="0.030" stop-color="#828282"/><stop offset="0.060" stop-color="#4a4a4a"/><stop offset="0.100" stop-color="#2e2e2e"/><stop offset="0.250" stop-color="#272727"/><stop offset="0.500" stop-color="#232323"/><stop offset="1.000" stop-color="#272727"/></linearGradient>
<linearGradient id="g93" gradientUnits="userSpaceOnUse" x1="0" y1="229" x2="0" y2="154"><stop offset="0.000" stop-color="#ffffff"/><stop offset="0.220" stop-color="#ffffff"/><stop offset="0.300" stop-color="#dddddd"/><stop offset="0.450" stop-color="#c8c8c8"/><stop offset="0.550" stop-color="#b7b7b7"/><stop offset="0.650" stop-color="#a6a6a6"/><stop offset="0.760" stop-color="#a6a6a6"/><stop offset="0.820" stop-color="#969696"/><stop offset="0.880" stop-color="#828282"/><stop offset="0.930" stop-color="#5e5e5e"/><stop offset="0.970" stop-color="#4a4a4a"/><stop offset="1.000" stop-color="#2e2e2e"/></linearGradient>
<linearGradient id="g94" gradientUnits="userSpaceOnUse" x1="0" y1="229" x2="0" y2="154"><stop offset="0.000" stop-color="#c8c8c8"/><stop offset="0.050" stop-color="#4a4a4a"/><stop offset="0.100" stop-color="#2e2e2e"/><stop offset="0.300" stop-color="#272727"/><stop offset="0.600" stop-color="#232323"/><stop offset="1.000" stop-color="#272727"/></linearGradient>
<linearGradient id="g95" gradientUnits="userSpaceOnUse" x1="0" y1="229" x2="0" y2="154"><stop offset="0.000" stop-color="#ffffff"/><stop offset="0.600" stop-color="#ffffff"/><stop offset="0.700" stop-color="#dddddd"/><stop offset="0.780" stop-color="#c8c8c8"/><stop offset="0.870" stop-color="#a6a6a6"/><stop offset="0.950" stop-color="#828282"/><stop offset="1.000" stop-color="#5e5e5e"/></linearGradient>
<linearGradient id="g96" gradientUnits="userSpaceOnUse" x1="0" y1="229" x2="0" y2="154"><stop offset="0.000" stop-color="#828282"/><stop offset="0.050" stop-color="#4a4a4a"/><stop offset="0.120" stop-color="#2e2e2e"/><stop offset="0.500" stop-color="#272727"/><stop offset="1.000" stop-color="#2e2e2e"/></linearGradient>
<linearGradient id="g97" gradientUnits="userSpaceOnUse" x1="0" y1="229" x2="0" y2="154"><stop offset="0.000" stop-color="#ffffff"/><stop offset="0.120" stop-color="#c8c8c8"/><stop offset="0.300" stop-color="#a6a6a6"/><stop offset="0.500" stop-color="#969696"/><stop offset="0.700" stop-color="#828282"/><stop offset="0.850" stop-color="#5e5e5e"/><stop offset="0.950" stop-color="#2e2e2e"/></linearGradient>
<linearGradient id="g98" gradientUnits="userSpaceOnUse" x1="0" y1="229" x2="0" y2="154"><stop offset="0.000" stop-color="#dddddd"/><stop offset="0.080" stop-color="#c8c8c8"/><stop offset="0.140" stop-color="#a6a6a6"/><stop offset="0.300" stop-color="#828282"/><stop offset="0.450" stop-color="#5e5e5e"/><stop offset="0.600" stop-color="#4a4a4a"/><stop offset="0.720" stop-color="#2e2e2e"/><stop offset="1.000" stop-color="#272727"/></linearGradient>
<linearGradient id="g99" gradientUnits="userSpaceOnUse" x1="0" y1="229" x2="0" y2="154"><stop offset="0.000" stop-color="#ffffff"/><stop offset="0.080" stop-color="#c8c8c8"/><stop offset="0.160" stop-color="#a6a6a6"/><stop offset="0.300" stop-color="#828282"/><stop offset="0.500" stop-color="#5e5e5e"/><stop offset="0.650" stop-color="#4a4a4a"/><stop offset="0.800" stop-color="#2e2e2e"/><stop offset="1.000" stop-color="#272727"/></linearGradient>
<linearGradient id="g100" gradientUnits="userSpaceOnUse" x1="0" y1="229" x2="0" y2="154"><stop offset="0.000" stop-color="#828282"/><stop offset="0.300" stop-color="#5e5e5e"/><stop offset="0.600" stop-color="#4a4a4a"/><stop offset="0.900" stop-color="#4a4a4a"/><stop offset="1.000" stop-color="#2e2e2e"/></linearGradient>
<linearGradient id="g101" gradientUnits="userSpaceOnUse" x1="0" y1="229" x2="0" y2="154"><stop offset="0.000" stop-color="#c8c8c8"/><stop offset="0.020" stop-color="#a6a6a6"/><stop offset="0.040" stop-color="#828282"/><stop offset="0.065" stop-color="#4a4a4a"/><stop offset="0.090" stop-color="#3d3d3d"/><stop offset="0.130" stop-color="#2e2e2e"/><stop offset="0.300" stop-color="#272727"/><stop offset="0.600" stop-color="#232323"/><stop offset="1.000" stop-color="#272727"/></linearGradient>
<linearGradient id="g102" gradientUnits="userSpaceOnUse" x1="0" y1="229" x2="0" y2="154"><stop offset="0.000" stop-color="#828282"/><stop offset="0.100" stop-color="#4a4a4a"/><stop offset="0.600" stop-color="#4a4a4a"/><stop offset="0.750" stop-color="#2e2e2e"/></linearGradient>
<linearGradient id="g103" gradientUnits="userSpaceOnUse" x1="0" y1="229" x2="0" y2="154"><stop offset="0.000" stop-color="#828282"/><stop offset="0.100" stop-color="#4a4a4a"/><stop offset="0.500" stop-color="#3d3d3d"/><stop offset="0.750" stop-color="#2e2e2e"/></linearGradient>
<linearGradient id="g104" gradientUnits="userSpaceOnUse" x1="0" y1="229" x2="0" y2="154"><stop offset="0.000" stop-color="#a6a6a6"/><stop offset="0.300" stop-color="#969696"/><stop offset="0.600" stop-color="#828282"/><stop offset="1.000" stop-color="#828282"/></linearGradient>
<linearGradient id="g105" gradientUnits="userSpaceOnUse" x1="0" y1="229" x2="0" y2="154"><stop offset="0.000" stop-color="#828282"/><stop offset="0.300" stop-color="#5e5e5e"/><stop offset="0.600" stop-color="#4a4a4a"/><stop offset="0.900" stop-color="#2e2e2e"/></linearGradient>
<linearGradient id="g106" gradientUnits="userSpaceOnUse" x1="0" y1="229" x2="0" y2="154"><stop offset="0.000" stop-color="#c8c8c8"/><stop offset="0.500" stop-color="#a6a6a6"/><stop offset="1.000" stop-color="#969696"/></linearGradient>
<linearGradient id="g107" gradientUnits="userSpaceOnUse" x1="0" y1="229" x2="0" y2="154"><stop offset="0.000" stop-color="#a6a6a6"/><stop offset="0.120" stop-color="#828282"/><stop offset="0.300" stop-color="#5e5e5e"/><stop offset="0.500" stop-color="#4a4a4a"/><stop offset="0.750" stop-color="#2e2e2e"/><stop offset="1.000" stop-color="#2e2e2e"/></linearGradient>
<linearGradient id="g108" gradientUnits="userSpaceOnUse" x1="0" y1="229" x2="0" y2="154"><stop offset="0.000" stop-color="#dddddd"/><stop offset="0.200" stop-color="#c8c8c8"/><stop offset="0.400" stop-color="#b7b7b7"/><stop offset="0.600" stop-color="#a6a6a6"/><stop offset="0.780" stop-color="#969696"/><stop offset="0.900" stop-color="#828282"/><stop offset="1.000" stop-color="#5e5e5e"/></linearGradient>
<linearGradient id="g109" gradientUnits="userSpaceOnUse" x1="0" y1="229" x2="0" y2="154"><stop offset="0.000" stop-color="#ffffff"/><stop offset="0.720" stop-color="#ffffff"/><stop offset="0.800" stop-color="#dddddd"/><stop offset="0.860" stop-color="#c8c8c8"/><stop offset="0.930" stop-color="#a6a6a6"/><stop offset="1.000" stop-color="#828282"/></linearGradient>
<linearGradient id="g110" gradientUnits="userSpaceOnUse" x1="0" y1="229" x2="0" y2="154"><stop offset="0.000" stop-color="#ffffff"/><stop offset="0.250" stop-color="#ffffff"/><stop offset="0.400" stop-color="#dddddd"/><stop offset="0.550" stop-color="#c8c8c8"/><stop offset="0.700" stop-color="#a6a6a6"/><stop offset="0.850" stop-color="#969696"/><stop offset="1.000" stop-color="#828282"/></linearGradient>
<linearGradient id="g111" gradientUnits="userSpaceOnUse" x1="0" y1="229" x2="0" y2="154"><stop offset="0.000" stop-color="#dddddd"/><stop offset="0.200" stop-color="#c8c8c8"/><stop offset="0.450" stop-color="#a6a6a6"/><stop offset="0.700" stop-color="#969696"/><stop offset="0.900" stop-color="#828282"/><stop offset="1.000" stop-color="#5e5e5e"/></linearGradient>
<linearGradient id="g112" gradientUnits="userSpaceOnUse" x1="0" y1="229" x2="0" y2="154"><stop offset="0.000" stop-color="#ffffff"/><stop offset="0.100" stop-color="#c8c8c8"/><stop offset="0.300" stop-color="#a6a6a6"/><stop offset="0.550" stop-color="#969696"/><stop offset="0.800" stop-color="#828282"/><stop offset="1.000" stop-color="#5e5e5e"/></linearGradient>
<linearGradient id="g113" gradientUnits="userSpaceOnUse" x1="0" y1="325" x2="0" y2="250"><stop offset="0.000" stop-color="#dddddd"/><stop offset="0.040" stop-color="#c8c8c8"/><stop offset="0.120" stop-color="#b7b7b7"/><stop offset="0.280" stop-color="#a6a6a6"/><stop offset="0.600" stop-color="#a6a6a6"/><stop offset="0.670" stop-color="#969696"/><stop offset="0.760" stop-color="#828282"/><stop offset="0.820" stop-color="#5e5e5e"/><stop offset="0.860" stop-color="#4a4a4a"/><stop offset="0.900" stop-color="#2e2e2e"/><stop offset="0.950" stop-color="#1d1d1d"/><stop offset="1.000" stop-color="#0b0b0b"/></linearGradient>
<linearGradient id="g114" gradientUnits="userSpaceOnUse" x1="0" y1="325" x2="0" y2="250"><stop offset="0.000" stop-color="#969696"/><stop offset="0.060" stop-color="#828282"/><stop offset="0.450" stop-color="#828282"/><stop offset="0.600" stop-color="#6f6f6f"/><stop offset="0.700" stop-color="#5e5e5e"/><stop offset="0.780" stop-color="#4a4a4a"/><stop offset="0.830" stop-color="#3d3d3d"/><stop offset="0.870" stop-color="#2e2e2e"/><stop offset="0.930" stop-color="#1d1d1d"/><stop offset="1.000" stop-color="#0b0b0b"/></linearGradient>
<linearGradient id="g115" gradientUnits="userSpaceOnUse" x1="0" y1="325" x2="0" y2="250"><stop offset="0.000" stop-color="#a6a6a6"/><stop offset="0.100" stop-color="#828282"/><stop offset="0.500" stop-color="#828282"/><stop offset="0.700" stop-color="#5e5e5e"/><stop offset="0.820" stop-color="#4a4a4a"/><stop offset="0.900" stop-color="#2e2e2e"/><stop offset="1.000" stop-color="#1d1d1d"/></linearGradient>
<linearGradient id="g116" gradientUnits="userSpaceOnUse" x1="0" y1="325" x2="0" y2="250"><stop offset="0.000" stop-color="#a6a6a6"/><stop offset="0.150" stop-color="#969696"/><stop offset="0.400" stop-color="#828282"/><stop offset="0.600" stop-color="#828282"/><stop offset="0.750" stop-color="#5e5e5e"/><stop offset="0.850" stop-color="#4a4a4a"/><stop offset="0.930" stop-color="#2e2e2e"/><stop offset="1.000" stop-color="#1d1d1d"/></linearGradient>
<linearGradient id="g117" gradientUnits="userSpaceOnUse" x1="0" y1="325" x2="0" y2="250"><stop offset="0.000" stop-color="#dddddd"/><stop offset="0.300" stop-color="#c8c8c8"/><stop offset="0.500" stop-color="#b7b7b7"/><stop offset="0.700" stop-color="#a6a6a6"/><stop offset="0.850" stop-color="#969696"/><stop offset="0.930" stop-color="#828282"/><stop offset="1.000" stop-color="#5e5e5e"/></linearGradient>
<linearGradient id="g118" gradientUnits="userSpaceOnUse" x1="0" y1="325" x2="0" y2="250"><stop offset="0.000" stop-color="#ffffff"/><stop offset="0.700" stop-color="#ffffff"/><stop offset="0.800" stop-color="#dddddd"/><stop offset="0.900" stop-color="#a6a6a6"/><stop offset="1.000" stop-color="#969696"/></linearGradient>
<linearGradient id="g119" gradientUnits="userSpaceOnUse" x1="0" y1="325" x2="0" y2="250"><stop offset="0.000" stop-color="#828282"/><stop offset="0.300" stop-color="#5e5e5e"/><stop offset="0.700" stop-color="#4a4a4a"/><stop offset="1.000" stop-color="#2e2e2e"/></linearGradient>
<linearGradient id="g120" gradientUnits="userSpaceOnUse" x1="0" y1="325" x2="0" y2="250"><stop offset="0.000" stop-color="#a6a6a6"/><stop offset="0.060" stop-color="#969696"/><stop offset="0.150" stop-color="#828282"/><stop offset="0.500" stop-color="#828282"/><stop offset="0.650" stop-color="#6f6f6f"/><stop offset="0.740" stop-color="#5e5e5e"/><stop offset="0.800" stop-color="#4a4a4a"/><stop offset="0.860" stop-color="#2e2e2e"/><stop offset="0.920" stop-color="#1d1d1d"/><stop offset="1.000" stop-color="#0b0b0b"/></linearGradient>
<linearGradient id="g121" gradientUnits="userSpaceOnUse" x1="0" y1="325" x2="0" y2="250"><stop offset="0.000" stop-color="#c8c8c8"/><stop offset="0.080" stop-color="#a6a6a6"/><stop offset="0.200" stop-color="#969696"/><stop offset="0.400" stop-color="#828282"/><stop offset="0.750" stop-color="#828282"/><stop offset="0.820" stop-color="#5e5e5e"/><stop offset="0.860" stop-color="#4a4a4a"/><stop offset="0.900" stop-color="#2e2e2e"/><stop offset="0.950" stop-color="#1d1d1d"/><stop offset="1.000" stop-color="#0b0b0b"/></linearGradient>
<linearGradient id="g122" gradientUnits="userSpaceOnUse" x1="0" y1="325" x2="0" y2="250"><stop offset="0.000" stop-color="#c8c8c8"/><stop offset="0.100" stop-color="#b7b7b7"/><stop offset="0.300" stop-color="#a6a6a6"/><stop offset="0.500" stop-color="#969696"/><stop offset="0.700" stop-color="#828282"/><stop offset="0.820" stop-color="#5e5e5e"/><stop offset="0.870" stop-color="#4a4a4a"/><stop offset="0.910" stop-color="#2e2e2e"/><stop offset="0.960" stop-color="#1d1d1d"/></linearGradient>
<linearGradient id="g123" gradientUnits="userSpaceOnUse" x1="0" y1="325" x2="0" y2="250"><stop offset="0.000" stop-color="#dddddd"/><stop offset="0.150" stop-color="#c8c8c8"/><stop offset="0.400" stop-color="#b7b7b7"/><stop offset="0.600" stop-color="#a6a6a6"/><stop offset="0.750" stop-color="#969696"/><stop offset="0.840" stop-color="#828282"/><stop offset="0.900" stop-color="#4a4a4a"/><stop offset="0.950" stop-color="#2e2e2e"/></linearGradient>
<linearGradient id="g124" gradientUnits="userSpaceOnUse" x1="0" y1="325" x2="0" y2="250"><stop offset="0.000" stop-color="#dddddd"/><stop offset="0.200" stop-color="#c8c8c8"/><stop offset="0.450" stop-color="#b7b7b7"/><stop offset="0.700" stop-color="#a6a6a6"/><stop offset="0.820" stop-color="#969696"/><stop offset="0.900" stop-color="#828282"/><stop offset="0.950" stop-color="#4a4a4a"/><stop offset="1.000" stop-color="#2e2e2e"/></linearGradient>
<linearGradient id="g125" gradientUnits="userSpaceOnUse" x1="0" y1="325" x2="0" y2="250"><stop offset="0.000" stop-color="#ffffff"/><stop offset="0.200" stop-color="#dddddd"/><stop offset="0.550" stop-color="#dddddd"/><stop offset="0.700" stop-color="#c8c8c8"/><stop offset="0.800" stop-color="#b7b7b7"/><stop offset="0.860" stop-color="#a6a6a6"/><stop offset="0.920" stop-color="#828282"/><stop offset="0.960" stop-color="#4a4a4a"/><stop offset="1.000" stop-color="#2e2e2e"/></linearGradient>
<linearGradient id="g126" gradientUnits="userSpaceOnUse" x1="0" y1="325" x2="0" y2="250"><stop offset="0.000" stop-color="#dddddd"/><stop offset="0.400" stop-color="#c8c8c8"/><stop offset="0.700" stop-color="#b7b7b7"/><stop offset="0.850" stop-color="#a6a6a6"/><stop offset="0.920" stop-color="#828282"/><stop offset="1.000" stop-color="#2e2e2e"/></linearGradient>
<linearGradient id="g127" gradientUnits="userSpaceOnUse" x1="0" y1="325" x2="0" y2="250"><stop offset="0.000" stop-color="#dddddd"/><stop offset="0.060" stop-color="#c8c8c8"/><stop offset="0.160" stop-color="#b7b7b7"/><stop offset="0.340" stop-color="#a6a6a6"/><stop offset="0.640" stop-color="#a6a6a6"/><stop offset="0.700" stop-color="#969696"/><stop offset="0.780" stop-color="#828282"/><stop offset="0.830" stop-color="#5e5e5e"/><stop offset="0.870" stop-color="#4a4a4a"/><stop offset="0.910" stop-color="#2e2e2e"/><stop offset="0.950" stop-color="#1d1d1d"/><stop offset="1.000" stop-color="#0b0b0b"/></linearGradient>
<linearGradient id="g128" gradientUnits="userSpaceOnUse" x1="0" y1="325" x2="0" y2="250"><stop offset="0.000" stop-color="#dddddd"/><stop offset="0.150" stop-color="#c8c8c8"/><stop offset="0.380" stop-color="#b7b7b7"/><stop offset="0.600" stop-color="#a6a6a6"/><stop offset="0.750" stop-color="#a6a6a6"/><stop offset="0.820" stop-color="#969696"/><stop offset="0.860" stop-color="#828282"/><stop offset="0.900" stop-color="#4a4a4a"/><stop offset="0.940" stop-color="#2e2e2e"/><stop offset="1.000" stop-color="#1d1d1d"/></linearGradient>
<linearGradient id="g129" gradientUnits="userSpaceOnUse" x1="0" y1="325" x2="0" y2="250"><stop offset="0.000" stop-color="#ffffff"/><stop offset="0.150" stop-color="#dddddd"/><stop offset="0.450" stop-color="#c8c8c8"/><stop offset="0.600" stop-color="#c8c8c8"/><stop offset="0.720" stop-color="#b7b7b7"/><stop offset="0.820" stop-color="#a6a6a6"/><stop offset="0.870" stop-color="#828282"/><stop offset="0.920" stop-color="#4a4a4a"/><stop offset="0.960" stop-color="#2e2e2e"/></linearGradient>
<linearGradient id="g130" gradientUnits="userSpaceOnUse" x1="0" y1="325" x2="0" y2="250"><stop offset="0.000" stop-color="#ffffff"/><stop offset="0.060" stop-color="#dddddd"/><stop offset="0.140" stop-color="#c8c8c8"/><stop offset="0.250" stop-color="#b7b7b7"/><stop offset="0.360" stop-color="#a6a6a6"/><stop offset="0.500" stop-color="#a6a6a6"/><stop offset="0.560" stop-color="#969696"/><stop offset="0.620" stop-color="#828282"/><stop offset="0.670" stop-color="#828282"/><stop offset="0.720" stop-color="#5e5e5e"/><stop offset="0.760" stop-color="#4a4a4a"/><stop offset="0.800" stop-color="#3d3d3d"/><stop offset="0.850" stop-color="#2e2e2e"/><stop offset="0.910" stop-color="#1d1d1d"/><stop offset="1.000" stop-color="#0b0b0b"/></linearGradient>
<linearGradient id="g131" gradientUnits="userSpaceOnUse" x1="0" y1="325" x2="0" y2="250"><stop offset="0.000" stop-color="#ffffff"/><stop offset="0.850" stop-color="#ffffff"/><stop offset="0.900" stop-color="#c8c8c8"/><stop offset="0.940" stop-color="#a6a6a6"/><stop offset="1.000" stop-color="#969696"/></linearGradient>
<linearGradient id="g132" gradientUnits="userSpaceOnUse" x1="0" y1="325" x2="0" y2="250"><stop offset="0.000" stop-color="#ffffff"/><stop offset="1.000" stop-color="#ffffff"/></linearGradient>
<linearGradient id="g133" gradientUnits="userSpaceOnUse" x1="0" y1="325" x2="0" y2="250"><stop offset="0.000" stop-color="#dddddd"/><stop offset="0.080" stop-color="#c8c8c8"/><stop offset="0.180" stop-color="#b7b7b7"/><stop offset="0.300" stop-color="#a6a6a6"/><stop offset="0.400" stop-color="#969696"/><stop offset="0.480" stop-color="#828282"/><stop offset="0.580" stop-color="#828282"/><stop offset="0.630" stop-color="#5e5e5e"/><stop offset="0.680" stop-color="#4a4a4a"/><stop offset="0.730" stop-color="#3d3d3d"/><stop offset="0.800" stop-color="#2e2e2e"/><stop offset="0.880" stop-color="#222222"/><stop offset="0.950" stop-color="#1d1d1d"/><stop offset="1.000" stop-color="#0b0b0b"/></linearGradient>
<linearGradient id="g134" gradientUnits="userSpaceOnUse" x1="0" y1="325" x2="0" y2="250"><stop offset="0.000" stop-color="#c8c8c8"/><stop offset="0.080" stop-color="#a6a6a6"/><stop offset="0.200" stop-color="#969696"/><stop offset="0.320" stop-color="#828282"/><stop offset="0.520" stop-color="#828282"/><stop offset="0.580" stop-color="#5e5e5e"/><stop offset="0.630" stop-color="#4a4a4a"/><stop offset="0.670" stop-color="#3d3d3d"/><stop offset="0.750" stop-color="#2e2e2e"/><stop offset="0.870" stop-color="#222222"/><stop offset="0.950" stop-color="#1d1d1d"/><stop offset="1.000" stop-color="#0b0b0b"/></linearGradient>
<linearGradient id="g135" gradientUnits="userSpaceOnUse" x1="0" y1="325" x2="0" y2="250"><stop offset="0.000" stop-color="#c8c8c8"/><stop offset="0.080" stop-color="#a6a6a6"/><stop offset="0.200" stop-color="#969696"/><stop offset="0.320" stop-color="#828282"/><stop offset="0.550" stop-color="#828282"/><stop offset="0.620" stop-color="#5e5e5e"/><stop offset="0.680" stop-color="#4a4a4a"/><stop offset="0.730" stop-color="#3d3d3d"/><stop offset="0.800" stop-color="#2e2e2e"/><stop offset="0.880" stop-color="#222222"/><stop offset="0.950" stop-color="#1d1d1d"/><stop offset="1.000" stop-color="#0b0b0b"/></linearGradient>
<linearGradient id="g136" gradientUnits="userSpaceOnUse" x1="0" y1="325" x2="0" y2="250"><stop offset="0.000" stop-color="#dddddd"/><stop offset="0.060" stop-color="#c8c8c8"/><stop offset="0.140" stop-color="#b7b7b7"/><stop offset="0.250" stop-color="#a6a6a6"/><stop offset="0.380" stop-color="#969696"/><stop offset="0.460" stop-color="#828282"/><stop offset="0.560" stop-color="#828282"/><stop offset="0.640" stop-color="#5e5e5e"/><stop offset="0.700" stop-color="#4a4a4a"/><stop offset="0.750" stop-color="#3d3d3d"/><stop offset="0.820" stop-color="#2e2e2e"/><stop offset="0.900" stop-color="#222222"/><stop offset="0.960" stop-color="#1d1d1d"/><stop offset="1.000" stop-color="#0b0b0b"/></linearGradient>
<linearGradient id="g137" gradientUnits="userSpaceOnUse" x1="0" y1="325" x2="0" y2="250"><stop offset="0.000" stop-color="#ffffff"/><stop offset="0.200" stop-color="#c8c8c8"/><stop offset="0.400" stop-color="#a6a6a6"/><stop offset="0.600" stop-color="#828282"/><stop offset="0.800" stop-color="#5e5e5e"/><stop offset="0.950" stop-color="#4a4a4a"/></linearGradient>
<linearGradient id="g138" gradientUnits="userSpaceOnUse" x1="0" y1="325" x2="0" y2="250"><stop offset="0.000" stop-color="#ffffff"/><stop offset="0.700" stop-color="#ffffff"/><stop offset="0.800" stop-color="#dddddd"/><stop offset="0.880" stop-color="#a6a6a6"/><stop offset="0.940" stop-color="#828282"/><stop offset="1.000" stop-color="#4a4a4a"/></linearGradient>
<linearGradient id="g139" gradientUnits="userSpaceOnUse" x1="0" y1="325" x2="0" y2="250"><stop offset="0.000" stop-color="#c8c8c8"/><stop offset="0.150" stop-color="#a6a6a6"/><stop offset="0.350" stop-color="#828282"/><stop offset="0.500" stop-color="#5e5e5e"/><stop offset="0.620" stop-color="#4a4a4a"/><stop offset="0.750" stop-color="#2e2e2e"/><stop offset="1.000" stop-color="#1d1d1d"/></linearGradient>
<linearGradient id="g140" gradientUnits="userSpaceOnUse" x1="0" y1="325" x2="0" y2="250"><stop offset="0.000" stop-color="#c8c8c8"/><stop offset="0.080" stop-color="#a6a6a6"/><stop offset="0.180" stop-color="#969696"/><stop offset="0.300" stop-color="#828282"/><stop offset="0.420" stop-color="#828282"/><stop offset="0.500" stop-color="#5e5e5e"/><stop offset="0.580" stop-color="#4a4a4a"/><stop offset="0.640" stop-color="#3d3d3d"/><stop offset="0.700" stop-color="#2e2e2e"/><stop offset="0.850" stop-color="#222222"/><stop offset="0.950" stop-color="#1d1d1d"/><stop offset="1.000" stop-color="#0b0b0b"/></linearGradient>
<linearGradient id="g141" gradientUnits="userSpaceOnUse" x1="0" y1="325" x2="0" y2="250"><stop offset="0.000" stop-color="#ffffff"/><stop offset="0.040" stop-color="#dddddd"/><stop offset="0.080" stop-color="#c8c8c8"/><stop offset="0.130" stop-color="#b7b7b7"/><stop offset="0.200" stop-color="#a6a6a6"/><stop offset="0.260" stop-color="#a6a6a6"/><stop offset="0.320" stop-color="#969696"/><stop offset="0.380" stop-color="#828282"/><stop offset="0.440" stop-color="#828282"/><stop offset="0.500" stop-color="#6f6f6f"/><stop offset="0.560" stop-color="#5e5e5e"/><stop offset="0.620" stop-color="#6f6f6f"/><stop offset="0.680" stop-color="#828282"/><stop offset="0.850" stop-color="#828282"/><stop offset="0.880" stop-color="#5e5e5e"/><stop offset="0.900" stop-color="#4a4a4a"/><stop offset="0.930" stop-color="#222222"/><stop offset="1.000" stop-color="#1d1d1d"/></linearGradient>
<linearGradient id="g142" gradientUnits="userSpaceOnUse" x1="0" y1="325" x2="0" y2="250"><stop offset="0.000" stop-color="#c8c8c8"/><stop offset="0.300" stop-color="#a6a6a6"/><stop offset="0.600" stop-color="#969696"/><stop offset="0.850" stop-color="#828282"/><stop offset="0.950" stop-color="#4a4a4a"/></linearGradient>
<linearGradient id="g143" gradientUnits="userSpaceOnUse" x1="0" y1="325" x2="0" y2="250"><stop offset="0.000" stop-color="#dddddd"/><stop offset="0.200" stop-color="#c8c8c8"/><stop offset="0.400" stop-color="#b7b7b7"/><stop offset="0.600" stop-color="#a6a6a6"/><stop offset="0.750" stop-color="#969696"/><stop offset="0.870" stop-color="#828282"/><stop offset="0.950" stop-color="#4a4a4a"/><stop offset="1.000" stop-color="#2e2e2e"/></linearGradient>
<linearGradient id="g144" gradientUnits="userSpaceOnUse" x1="0" y1="325" x2="0" y2="250"><stop offset="0.000" stop-color="#ffffff"/><stop offset="0.450" stop-color="#ffffff"/><stop offset="0.650" stop-color="#dddddd"/><stop offset="0.780" stop-color="#c8c8c8"/><stop offset="0.880" stop-color="#a6a6a6"/><stop offset="0.950" stop-color="#828282"/><stop offset="1.000" stop-color="#4a4a4a"/></linearGradient>
<linearGradient id="g145" gradientUnits="userSpaceOnUse" x1="0" y1="325" x2="0" y2="250"><stop offset="0.000" stop-color="#ffffff"/><stop offset="0.150" stop-color="#dddddd"/><stop offset="0.300" stop-color="#c8c8c8"/><stop offset="0.450" stop-color="#b7b7b7"/><stop offset="0.600" stop-color="#a6a6a6"/><stop offset="0.760" stop-color="#969696"/><stop offset="0.900" stop-color="#828282"/><stop offset="0.970" stop-color="#4a4a4a"/></linearGradient>
<linearGradient id="g146" gradientUnits="userSpaceOnUse" x1="0" y1="440" x2="0" y2="365"><stop offset="0.000" stop-color="#ffffff"/><stop offset="0.068" stop-color="#ffffff"/><stop offset="0.092" stop-color="#dddddd"/><stop offset="0.115" stop-color="#c8c8c8"/><stop offset="0.150" stop-color="#a6a6a6"/><stop offset="0.195" stop-color="#969696"/><stop offset="0.245" stop-color="#828282"/><stop offset="0.310" stop-color="#6f6f6f"/><stop offset="0.360" stop-color="#5e5e5e"/><stop offset="0.420" stop-color="#4a4a4a"/><stop offset="0.510" stop-color="#3d3d3d"/><stop offset="0.610" stop-color="#2e2e2e"/><stop offset="0.750" stop-color="#222222"/><stop offset="0.900" stop-color="#1d1d1d"/><stop offset="1.000" stop-color="#1d1d1d"/></linearGradient>
<linearGradient id="g147" gradientUnits="userSpaceOnUse" x1="0" y1="440" x2="0" y2="365"><stop offset="0.000" stop-color="#ffffff"/><stop offset="0.070" stop-color="#ffffff"/><stop offset="0.110" stop-color="#c8c8c8"/><stop offset="0.160" stop-color="#a6a6a6"/><stop offset="0.210" stop-color="#969696"/><stop offset="0.270" stop-color="#828282"/><stop offset="0.350" stop-color="#6f6f6f"/><stop offset="0.450" stop-color="#5e5e5e"/><stop offset="0.580" stop-color="#4a4a4a"/><stop offset="0.700" stop-color="#3d3d3d"/><stop offset="0.780" stop-color="#2e2e2e"/><stop offset="0.860" stop-color="#222222"/><stop offset="1.000" stop-color="#1d1d1d"/></linearGradient>
<linearGradient id="g148" gradientUnits="userSpaceOnUse" x1="0" y1="440" x2="0" y2="365"><stop offset="0.000" stop-color="#ffffff"/><stop offset="0.070" stop-color="#ffffff"/><stop offset="0.110" stop-color="#c8c8c8"/><stop offset="0.150" stop-color="#a6a6a6"/><stop offset="0.200" stop-color="#969696"/><stop offset="0.250" stop-color="#828282"/><stop offset="0.320" stop-color="#6f6f6f"/><stop offset="0.380" stop-color="#5e5e5e"/><stop offset="0.460" stop-color="#4a4a4a"/><stop offset="0.560" stop-color="#3d3d3d"/><stop offset="0.660" stop-color="#2e2e2e"/><stop offset="0.800" stop-color="#222222"/><stop offset="1.000" stop-color="#1d1d1d"/></linearGradient>
<linearGradient id="g149" gradientUnits="userSpaceOnUse" x1="0" y1="536" x2="0" y2="461"><stop offset="0.000" stop-color="#ffffff"/><stop offset="0.075" stop-color="#ffffff"/><stop offset="0.100" stop-color="#dddddd"/><stop offset="0.122" stop-color="#c8c8c8"/><stop offset="0.160" stop-color="#a6a6a6"/><stop offset="0.205" stop-color="#969696"/><stop offset="0.255" stop-color="#828282"/><stop offset="0.320" stop-color="#6f6f6f"/><stop offset="0.370" stop-color="#5e5e5e"/><stop offset="0.440" stop-color="#4a4a4a"/><stop offset="0.530" stop-color="#3d3d3d"/><stop offset="0.630" stop-color="#2e2e2e"/><stop offset="0.770" stop-color="#222222"/><stop offset="0.900" stop-color="#1d1d1d"/><stop offset="1.000" stop-color="#1d1d1d"/></linearGradient>
<linearGradient id="g150" gradientUnits="userSpaceOnUse" x1="0" y1="536" x2="0" y2="461"><stop offset="0.000" stop-color="#ffffff"/><stop offset="0.090" stop-color="#ffffff"/><stop offset="0.150" stop-color="#c8c8c8"/><stop offset="0.220" stop-color="#a6a6a6"/><stop offset="0.270" stop-color="#969696"/><stop offset="0.330" stop-color="#828282"/><stop offset="0.400" stop-color="#6f6f6f"/><stop offset="0.500" stop-color="#5e5e5e"/><stop offset="0.600" stop-color="#4a4a4a"/><stop offset="0.720" stop-color="#3d3d3d"/><stop offset="0.790" stop-color="#2e2e2e"/><stop offset="0.860" stop-color="#222222"/><stop offset="1.000" stop-color="#1d1d1d"/></linearGradient>
<linearGradient id="g151" gradientUnits="userSpaceOnUse" x1="0" y1="536" x2="0" y2="461"><stop offset="0.000" stop-color="#ffffff"/><stop offset="0.080" stop-color="#ffffff"/><stop offset="0.120" stop-color="#c8c8c8"/><stop offset="0.170" stop-color="#a6a6a6"/><stop offset="0.220" stop-color="#969696"/><stop offset="0.270" stop-color="#828282"/><stop offset="0.330" stop-color="#6f6f6f"/><stop offset="0.400" stop-color="#5e5e5e"/><stop offset="0.480" stop-color="#4a4a4a"/><stop offset="0.580" stop-color="#3d3d3d"/><stop offset="0.680" stop-color="#2e2e2e"/><stop offset="0.800" stop-color="#222222"/><stop offset="1.000" stop-color="#1d1d1d"/></linearGradient>
<linearGradient id="g152" gradientUnits="userSpaceOnUse" x1="0" y1="632" x2="0" y2="557"><stop offset="0.000" stop-color="#ffffff"/><stop offset="0.070" stop-color="#ffffff"/><stop offset="0.097" stop-color="#dddddd"/><stop offset="0.120" stop-color="#c8c8c8"/><stop offset="0.160" stop-color="#a6a6a6"/><stop offset="0.200" stop-color="#969696"/><stop offset="0.260" stop-color="#828282"/><stop offset="0.320" stop-color="#6f6f6f"/><stop offset="0.380" stop-color="#5e5e5e"/><stop offset="0.450" stop-color="#4a4a4a"/><stop offset="0.540" stop-color="#3d3d3d"/><stop offset="0.630" stop-color="#2e2e2e"/><stop offset="0.770" stop-color="#222222"/><stop offset="0.900" stop-color="#1d1d1d"/><stop offset="1.000" stop-color="#1d1d1d"/></linearGradient>
<linearGradient id="g153" gradientUnits="userSpaceOnUse" x1="0" y1="632" x2="0" y2="557"><stop offset="0.000" stop-color="#ffffff"/><stop offset="0.080" stop-color="#ffffff"/><stop offset="0.140" stop-color="#c8c8c8"/><stop offset="0.200" stop-color="#a6a6a6"/><stop offset="0.250" stop-color="#969696"/><stop offset="0.300" stop-color="#828282"/><stop offset="0.370" stop-color="#6f6f6f"/><stop offset="0.450" stop-color="#5e5e5e"/><stop offset="0.550" stop-color="#4a4a4a"/><stop offset="0.680" stop-color="#3d3d3d"/><stop offset="0.760" stop-color="#2e2e2e"/><stop offset="0.850" stop-color="#222222"/><stop offset="1.000" stop-color="#1d1d1d"/></linearGradient>
<linearGradient id="c0" x1="0" y1="1" x2="0" y2="0"><stop offset="0.000" stop-color="rgb(255,0,0)"/><stop offset="0.500" stop-color="rgb(255,0,0)"/><stop offset="0.800" stop-color="rgb(255,100,0)"/><stop offset="1.000" stop-color="rgb(255,175,0)"/></linearGradient>
<linearGradient id="c1" x1="0" y1="1" x2="0" y2="0"><stop offset="0.000" stop-color="rgb(255,0,0)"/><stop offset="0.300" stop-color="rgb(255,175,0)"/><stop offset="0.700" stop-color="rgb(255,217,0)"/><stop offset="1.000" stop-color="rgb(255,252,0)"/></linearGradient>
<linearGradient id="c2" x1="0" y1="1" x2="0" y2="0"><stop offset="0.000" stop-color="rgb(255,175,0)"/><stop offset="0.100" stop-color="rgb(255,252,0)"/><stop offset="0.400" stop-color="rgb(131,255,0)"/><stop offset="0.900" stop-color="rgb(131,255,0)"/><stop offset="1.000" stop-color="rgb(0,255,11)"/></linearGradient>
<linearGradient id="c3" x1="0" y1="1" x2="0" y2="0"><stop offset="0.000" stop-color="rgb(255,175,0)"/><stop offset="0.100" stop-color="rgb(255,252,0)"/><stop offset="0.500" stop-color="rgb(131,255,0)"/><stop offset="1.000" stop-color="rgb(131,255,0)"/></linearGradient>
<linearGradient id="c4" x1="0" y1="1" x2="0" y2="0"><stop offset="0.000" stop-color="rgb(255,0,0)"/><stop offset="0.850" stop-color="rgb(255,0,0)"/><stop offset="0.930" stop-color="rgb(255,175,0)"/><stop offset="1.000" stop-color="rgb(255,252,0)"/></linearGradient>
<linearGradient id="c5" x1="0" y1="1" x2="0" y2="0"><stop offset="0.000" stop-color="rgb(255,0,0)"/><stop offset="1.000" stop-color="rgb(255,0,0)"/></linearGradient>
<linearGradient id="c6" x1="0" y1="1" x2="0" y2="0"><stop offset="0.000" stop-color="rgb(255,0,0)"/><stop offset="0.100" stop-color="rgb(255,175,0)"/><stop offset="0.500" stop-color="rgb(255,217,0)"/><stop offset="1.000" stop-color="rgb(255,252,0)"/></linearGradient>
<linearGradient id="c7" x1="0" y1="1" x2="0" y2="0"><stop offset="0.000" stop-color="rgb(255,0,0)"/><stop offset="0.080" stop-color="rgb(255,175,0)"/><stop offset="0.300" stop-color="rgb(255,252,0)"/><stop offset="0.700" stop-color="rgb(131,255,0)"/><stop offset="1.000" stop-color="rgb(131,255,0)"/></linearGradient>
<linearGradient id="c8" x1="0" y1="1" x2="0" y2="0"><stop offset="0.000" stop-color="rgb(255,0,0)"/><stop offset="0.080" stop-color="rgb(255,175,0)"/><stop offset="0.250" stop-color="rgb(255,252,0)"/><stop offset="0.500" stop-color="rgb(131,255,0)"/><stop offset="1.000" stop-color="rgb(0,255,11)"/></linearGradient>
<linearGradient id="c9" x1="0" y1="1" x2="0" y2="0"><stop offset="0.000" stop-color="rgb(255,0,0)"/><stop offset="0.100" stop-color="rgb(255,175,0)"/><stop offset="0.400" stop-color="rgb(255,217,0)"/><stop offset="1.000" stop-color="rgb(255,252,0)"/></linearGradient>
<linearGradient id="c10" x1="0" y1="1" x2="0" y2="0"><stop offset="0.000" stop-color="rgb(255,0,0)"/><stop offset="0.080" stop-color="rgb(255,175,0)"/><stop offset="0.250" stop-color="rgb(255,252,0)"/><stop offset="0.500" stop-color="rgb(131,255,0)"/><stop offset="0.800" stop-color="rgb(0,255,11)"/><stop offset="1.000" stop-color="rgb(0,255,185)"/></linearGradient>
<linearGradient id="c11" x1="0" y1="1" x2="0" y2="0"><stop offset="0.000" stop-color="rgb(255,0,0)"/><stop offset="0.080" stop-color="rgb(255,175,0)"/><stop offset="0.300" stop-color="rgb(255,252,0)"/><stop offset="1.000" stop-color="rgb(255,252,0)"/></linearGradient>
<linearGradient id="c12" x1="0" y1="1" x2="0" y2="0"><stop offset="0.000" stop-color="rgb(255,0,0)"/><stop offset="0.500" stop-color="rgb(255,0,0)"/><stop offset="1.000" stop-color="rgb(255,100,0)"/></linearGradient>
<linearGradient id="c13" x1="0" y1="1" x2="0" y2="0"><stop offset="0.000" stop-color="rgb(255,0,0)"/><stop offset="0.100" stop-color="rgb(255,252,0)"/><stop offset="0.300" stop-color="rgb(0,255,11)"/><stop offset="0.600" stop-color="rgb(0,255,185)"/><stop offset="1.000" stop-color="rgb(0,255,254)"/></linearGradient>
<linearGradient id="c14" x1="0" y1="1" x2="0" y2="0"><stop offset="0.000" stop-color="rgb(255,0,0)"/><stop offset="0.120" stop-color="rgb(255,0,0)"/><stop offset="0.250" stop-color="rgb(255,252,0)"/><stop offset="0.500" stop-color="rgb(131,255,0)"/><stop offset="1.000" stop-color="rgb(0,255,11)"/></linearGradient>
<linearGradient id="c15" x1="0" y1="1" x2="0" y2="0"><stop offset="0.000" stop-color="rgb(255,0,0)"/><stop offset="0.120" stop-color="rgb(255,0,0)"/><stop offset="0.300" stop-color="rgb(255,100,0)"/><stop offset="1.000" stop-color="rgb(255,100,0)"/></linearGradient>
<linearGradient id="c16" x1="0" y1="1" x2="0" y2="0"><stop offset="0.000" stop-color="rgb(255,0,0)"/><stop offset="0.120" stop-color="rgb(255,0,0)"/><stop offset="0.300" stop-color="rgb(255,175,0)"/><stop offset="1.000" stop-color="rgb(255,175,0)"/></linearGradient>
<linearGradient id="c17" x1="0" y1="1" x2="0" y2="0"><stop offset="0.000" stop-color="rgb(255,0,0)"/><stop offset="0.120" stop-color="rgb(255,0,0)"/><stop offset="0.300" stop-color="rgb(255,217,0)"/><stop offset="0.500" stop-color="rgb(255,252,0)"/><stop offset="1.000" stop-color="rgb(255,252,0)"/></linearGradient>
<linearGradient id="c18" x1="0" y1="1" x2="0" y2="0"><stop offset="0.000" stop-color="rgb(255,0,0)"/><stop offset="0.120" stop-color="rgb(255,0,0)"/><stop offset="0.220" stop-color="rgb(255,252,0)"/><stop offset="0.350" stop-color="rgb(0,255,11)"/><stop offset="0.600" stop-color="rgb(0,255,185)"/><stop offset="1.000" stop-color="rgb(0,255,254)"/></linearGradient>
<linearGradient id="c19" x1="0" y1="1" x2="0" y2="0"><stop offset="0.000" stop-color="rgb(255,0,0)"/><stop offset="0.120" stop-color="rgb(255,0,0)"/><stop offset="0.300" stop-color="rgb(255,175,0)"/><stop offset="1.000" stop-color="rgb(255,217,0)"/></linearGradient>
<linearGradient id="c20" x1="0" y1="1" x2="0" y2="0"><stop offset="0.000" stop-color="rgb(255,0,0)"/><stop offset="0.120" stop-color="rgb(255,0,0)"/><stop offset="0.250" stop-color="rgb(255,217,0)"/><stop offset="0.400" stop-color="rgb(255,252,0)"/><stop offset="1.000" stop-color="rgb(255,252,0)"/></linearGradient>
<linearGradient id="c21" x1="0" y1="1" x2="0" y2="0"><stop offset="0.000" stop-color="rgb(255,0,0)"/><stop offset="0.120" stop-color="rgb(255,0,0)"/><stop offset="0.300" stop-color="rgb(255,252,0)"/><stop offset="0.600" stop-color="rgb(131,255,0)"/><stop offset="1.000" stop-color="rgb(255,252,0)"/></linearGradient>
<linearGradient id="c22" x1="0" y1="1" x2="0" y2="0"><stop offset="0.000" stop-color="rgb(255,0,0)"/><stop offset="0.120" stop-color="rgb(255,0,0)"/><stop offset="0.300" stop-color="rgb(255,0,0)"/><stop offset="0.600" stop-color="rgb(255,100,0)"/><stop offset="1.000" stop-color="rgb(255,100,0)"/></linearGradient>
<linearGradient id="c23" x1="0" y1="1" x2="0" y2="0"><stop offset="0.000" stop-color="rgb(255,0,0)"/><stop offset="0.120" stop-color="rgb(255,0,0)"/><stop offset="0.250" stop-color="rgb(255,252,0)"/><stop offset="0.500" stop-color="rgb(131,255,0)"/><stop offset="1.000" stop-color="rgb(131,255,0)"/></linearGradient>
<linearGradient id="c24" x1="0" y1="1" x2="0" y2="0"><stop offset="0.000" stop-color="rgb(255,0,0)"/><stop offset="0.120" stop-color="rgb(255,0,0)"/><stop offset="0.300" stop-color="rgb(255,217,0)"/><stop offset="1.000" stop-color="rgb(255,252,0)"/></linearGradient>
<linearGradient id="c25" x1="0" y1="1" x2="0" y2="0"><stop offset="0.000" stop-color="rgb(255,0,0)"/><stop offset="0.080" stop-color="rgb(255,175,0)"/><stop offset="0.200" stop-color="rgb(255,252,0)"/><stop offset="0.350" stop-color="rgb(131,255,0)"/><stop offset="0.600" stop-color="rgb(0,255,11)"/><stop offset="1.000" stop-color="rgb(0,255,11)"/></linearGradient>
<linearGradient id="c26" x1="0" y1="1" x2="0" y2="0"><stop offset="0.000" stop-color="rgb(0,255,11)"/><stop offset="0.111" stop-color="rgb(0,255,185)"/><stop offset="0.556" stop-color="rgb(0,255,254)"/><stop offset="0.889" stop-color="rgb(0,146,255)"/><stop offset="1.000" stop-color="rgb(0,26,255)"/></linearGradient>
<linearGradient id="c27" x1="0" y1="1" x2="0" y2="0"><stop offset="0.000" stop-color="rgb(255,0,0)"/><stop offset="0.100" stop-color="rgb(255,0,0)"/><stop offset="0.200" stop-color="rgb(255,175,0)"/><stop offset="0.450" stop-color="rgb(255,252,0)"/><stop offset="0.800" stop-color="rgb(131,255,0)"/><stop offset="1.000" stop-color="rgb(131,255,0)"/></linearGradient>
<linearGradient id="c28" x1="0" y1="1" x2="0" y2="0"><stop offset="0.000" stop-color="rgb(255,0,0)"/><stop offset="0.100" stop-color="rgb(255,175,0)"/><stop offset="0.300" stop-color="rgb(255,252,0)"/><stop offset="0.700" stop-color="rgb(131,255,0)"/><stop offset="1.000" stop-color="rgb(131,255,0)"/></linearGradient>
<linearGradient id="c29" x1="0" y1="1" x2="0" y2="0"><stop offset="0.000" stop-color="rgb(0,255,11)"/><stop offset="0.300" stop-color="rgb(0,255,185)"/><stop offset="1.000" stop-color="rgb(0,255,254)"/></linearGradient>
<linearGradient id="c30" x1="0" y1="1" x2="0" y2="0"><stop offset="0.000" stop-color="rgb(255,0,0)"/><stop offset="0.100" stop-color="rgb(255,175,0)"/><stop offset="0.300" stop-color="rgb(255,252,0)"/><stop offset="0.600" stop-color="rgb(131,255,0)"/><stop offset="1.000" stop-color="rgb(0,255,11)"/></linearGradient>
<linearGradient id="c31" x1="0" y1="1" x2="0" y2="0"><stop offset="0.000" stop-color="rgb(255,0,0)"/><stop offset="0.200" stop-color="rgb(255,175,0)"/><stop offset="0.600" stop-color="rgb(255,217,0)"/><stop offset="1.000" stop-color="rgb(255,252,0)"/></linearGradient>
<linearGradient id="c32" x1="0" y1="1" x2="0" y2="0"><stop offset="0.000" stop-color="rgb(255,0,0)"/><stop offset="0.120" stop-color="rgb(255,252,0)"/><stop offset="0.300" stop-color="rgb(0,255,11)"/><stop offset="0.600" stop-color="rgb(0,255,185)"/><stop offset="1.000" stop-color="rgb(0,255,254)"/></linearGradient>
<linearGradient id="c33" x1="0" y1="1" x2="0" y2="0"><stop offset="0.000" stop-color="rgb(255,0,0)"/><stop offset="0.300" stop-color="rgb(255,100,0)"/><stop offset="1.000" stop-color="rgb(255,175,0)"/></linearGradient>
<linearGradient id="c34" x1="0" y1="1" x2="0" y2="0"><stop offset="0.000" stop-color="rgb(255,0,0)"/><stop offset="0.120" stop-color="rgb(255,252,0)"/><stop offset="0.250" stop-color="rgb(0,255,11)"/><stop offset="0.400" stop-color="rgb(0,255,185)"/><stop offset="0.600" stop-color="rgb(0,255,254)"/><stop offset="1.000" stop-color="rgb(0,146,255)"/></linearGradient>
<linearGradient id="c35" x1="0" y1="1" x2="0" y2="0"><stop offset="0.000" stop-color="rgb(255,0,0)"/><stop offset="0.300" stop-color="rgb(255,175,0)"/><stop offset="0.600" stop-color="rgb(255,217,0)"/><stop offset="1.000" stop-color="rgb(255,252,0)"/></linearGradient>
<linearGradient id="c36" x1="0" y1="1" x2="0" y2="0"><stop offset="0.000" stop-color="rgb(255,0,0)"/><stop offset="0.100" stop-color="rgb(255,175,0)"/><stop offset="0.300" stop-color="rgb(255,252,0)"/><stop offset="0.600" stop-color="rgb(131,255,0)"/><stop offset="1.000" stop-color="rgb(131,255,0)"/></linearGradient>
<linearGradient id="c37" x1="0" y1="1" x2="0" y2="0"><stop offset="0.000" stop-color="rgb(255,0,0)"/><stop offset="0.500" stop-color="rgb(255,0,0)"/><stop offset="0.700" stop-color="rgb(255,100,0)"/><stop offset="1.000" stop-color="rgb(255,175,0)"/></linearGradient>
<linearGradient id="c38" x1="0" y1="1" x2="0" y2="0"><stop offset="0.000" stop-color="rgb(255,0,0)"/><stop offset="0.450" stop-color="rgb(255,0,0)"/><stop offset="0.600" stop-color="rgb(255,100,0)"/><stop offset="0.800" stop-color="rgb(255,175,0)"/><stop offset="1.000" stop-color="rgb(255,217,0)"/></linearGradient>
<linearGradient id="c39" x1="0" y1="1" x2="0" y2="0"><stop offset="0.000" stop-color="rgb(255,0,0)"/><stop offset="0.650" stop-color="rgb(255,0,0)"/><stop offset="1.000" stop-color="rgb(255,100,0)"/></linearGradient>
<linearGradient id="c40" x1="0" y1="1" x2="0" y2="0"><stop offset="0.000" stop-color="rgb(255,0,0)"/><stop offset="0.450" stop-color="rgb(255,0,0)"/><stop offset="0.500" stop-color="rgb(0,255,11)"/><stop offset="0.600" stop-color="rgb(0,26,255)"/><stop offset="1.000" stop-color="rgb(0,0,212)"/></linearGradient>
<linearGradient id="c41" x1="0" y1="1" x2="0" y2="0"><stop offset="0.000" stop-color="rgb(255,0,0)"/><stop offset="0.200" stop-color="rgb(255,0,0)"/><stop offset="0.300" stop-color="rgb(255,252,0)"/><stop offset="0.600" stop-color="rgb(131,255,0)"/><stop offset="1.000" stop-color="rgb(0,255,11)"/></linearGradient>
<linearGradient id="c42" x1="0" y1="1" x2="0" y2="0"><stop offset="0.000" stop-color="rgb(255,0,0)"/><stop offset="0.200" stop-color="rgb(255,0,0)"/><stop offset="0.300" stop-color="rgb(255,175,0)"/><stop offset="0.500" stop-color="rgb(255,252,0)"/><stop offset="1.000" stop-color="rgb(131,255,0)"/></linearGradient>
<linearGradient id="c43" x1="0" y1="1" x2="0" y2="0"><stop offset="0.000" stop-color="rgb(255,0,0)"/><stop offset="0.220" stop-color="rgb(255,0,0)"/><stop offset="0.320" stop-color="rgb(255,175,0)"/><stop offset="0.500" stop-color="rgb(255,217,0)"/><stop offset="1.000" stop-color="rgb(255,252,0)"/></linearGradient>
<linearGradient id="c44" x1="0" y1="1" x2="0" y2="0"><stop offset="0.000" stop-color="rgb(255,0,0)"/><stop offset="0.200" stop-color="rgb(255,0,0)"/><stop offset="0.300" stop-color="rgb(255,252,0)"/><stop offset="0.500" stop-color="rgb(0,255,11)"/><stop offset="1.000" stop-color="rgb(0,255,11)"/></linearGradient>
<linearGradient id="c45" x1="0" y1="1" x2="0" y2="0"><stop offset="0.000" stop-color="rgb(255,0,0)"/><stop offset="0.220" stop-color="rgb(255,0,0)"/><stop offset="0.400" stop-color="rgb(255,175,0)"/><stop offset="1.000" stop-color="rgb(255,175,0)"/></linearGradient>
<linearGradient id="c46" x1="0" y1="1" x2="0" y2="0"><stop offset="0.000" stop-color="rgb(255,0,0)"/><stop offset="0.150" stop-color="rgb(255,0,0)"/><stop offset="0.300" stop-color="rgb(255,252,0)"/><stop offset="0.600" stop-color="rgb(131,255,0)"/><stop offset="1.000" stop-color="rgb(131,255,0)"/></linearGradient>
<linearGradient id="c47" x1="0" y1="1" x2="0" y2="0"><stop offset="0.000" stop-color="rgb(255,0,0)"/><stop offset="0.150" stop-color="rgb(255,0,0)"/><stop offset="0.250" stop-color="rgb(0,255,11)"/><stop offset="0.500" stop-color="rgb(0,255,254)"/><stop offset="1.000" stop-color="rgb(0,26,255)"/></linearGradient>
<linearGradient id="c48" x1="0" y1="1" x2="0" y2="0"><stop offset="0.000" stop-color="rgb(255,0,0)"/><stop offset="0.100" stop-color="rgb(255,0,0)"/><stop offset="0.250" stop-color="rgb(255,252,0)"/><stop offset="0.500" stop-color="rgb(131,255,0)"/><stop offset="1.000" stop-color="rgb(0,255,11)"/></linearGradient>
<linearGradient id="c49" x1="0" y1="1" x2="0" y2="0"><stop offset="0.000" stop-color="rgb(255,0,0)"/><stop offset="0.120" stop-color="rgb(255,0,0)"/><stop offset="0.400" stop-color="rgb(255,100,0)"/><stop offset="1.000" stop-color="rgb(255,175,0)"/></linearGradient>
<linearGradient id="c50" x1="0" y1="1" x2="0" y2="0"><stop offset="0.000" stop-color="rgb(255,0,0)"/><stop offset="0.100" stop-color="rgb(255,0,0)"/><stop offset="0.300" stop-color="rgb(255,175,0)"/><stop offset="0.600" stop-color="rgb(255,252,0)"/><stop offset="1.000" stop-color="rgb(131,255,0)"/></linearGradient>
<linearGradient id="c51" x1="0" y1="1" x2="0" y2="0"><stop offset="0.000" stop-color="rgb(255,0,0)"/><stop offset="0.100" stop-color="rgb(255,0,0)"/><stop offset="0.300" stop-color="rgb(255,175,0)"/><stop offset="0.700" stop-color="rgb(255,217,0)"/><stop offset="1.000" stop-color="rgb(255,252,0)"/></linearGradient>
<linearGradient id="c52" x1="0" y1="1" x2="0" y2="0"><stop offset="0.000" stop-color="rgb(255,0,0)"/><stop offset="0.200" stop-color="rgb(255,0,0)"/><stop offset="0.600" stop-color="rgb(255,100,0)"/><stop offset="1.000" stop-color="rgb(255,175,0)"/></linearGradient>
<linearGradient id="c53" x1="0" y1="1" x2="0" y2="0"><stop offset="0.000" stop-color="rgb(255,0,0)"/><stop offset="0.100" stop-color="rgb(255,175,0)"/><stop offset="0.300" stop-color="rgb(255,217,0)"/><stop offset="0.500" stop-color="rgb(255,252,0)"/><stop offset="0.700" stop-color="rgb(131,255,0)"/><stop offset="1.000" stop-color="rgb(0,255,11)"/></linearGradient>
<linearGradient id="c54" x1="0" y1="1" x2="0" y2="0"><stop offset="0.000" stop-color="rgb(255,0,0)"/><stop offset="0.300" stop-color="rgb(255,0,0)"/><stop offset="0.600" stop-color="rgb(255,100,0)"/><stop offset="1.000" stop-color="rgb(255,175,0)"/></linearGradient>
<linearGradient id="c55" x1="0" y1="1" x2="0" y2="0"><stop offset="0.000" stop-color="rgb(255,0,0)"/><stop offset="0.600" stop-color="rgb(255,0,0)"/><stop offset="1.000" stop-color="rgb(255,100,0)"/></linearGradient>
<linearGradient id="c56" x1="0" y1="1" x2="0" y2="0"><stop offset="0.000" stop-color="rgb(255,0,0)"/><stop offset="0.200" stop-color="rgb(255,0,0)"/><stop offset="0.400" stop-color="rgb(255,175,0)"/><stop offset="0.700" stop-color="rgb(255,217,0)"/><stop offset="1.000" stop-color="rgb(255,252,0)"/></linearGradient>
<linearGradient id="c57" x1="0" y1="1" x2="0" y2="0"><stop offset="0.000" stop-color="rgb(255,0,0)"/><stop offset="0.200" stop-color="rgb(255,0,0)"/><stop offset="0.400" stop-color="rgb(255,100,0)"/><stop offset="1.000" stop-color="rgb(255,100,0)"/></linearGradient>
<linearGradient id="c58" x1="0" y1="1" x2="0" y2="0"><stop offset="0.000" stop-color="rgb(255,0,0)"/><stop offset="0.200" stop-color="rgb(255,0,0)"/><stop offset="0.400" stop-color="rgb(255,175,0)"/><stop offset="1.000" stop-color="rgb(255,217,0)"/></linearGradient>
<linearGradient id="c59" x1="0" y1="1" x2="0" y2="0"><stop offset="0.000" stop-color="rgb(255,0,0)"/><stop offset="0.200" stop-color="rgb(255,0,0)"/><stop offset="0.400" stop-color="rgb(255,217,0)"/><stop offset="1.000" stop-color="rgb(255,252,0)"/></linearGradient>
<linearGradient id="c60" x1="0" y1="1" x2="0" y2="0"><stop offset="0.000" stop-color="rgb(255,0,0)"/><stop offset="0.200" stop-color="rgb(255,0,0)"/><stop offset="0.400" stop-color="rgb(255,175,0)"/><stop offset="1.000" stop-color="rgb(255,175,0)"/></linearGradient>
<linearGradient id="c61" x1="0" y1="1" x2="0" y2="0"><stop offset="0.000" stop-color="rgb(255,0,0)"/><stop offset="0.200" stop-color="rgb(255,0,0)"/><stop offset="0.400" stop-color="rgb(255,252,0)"/><stop offset="1.000" stop-color="rgb(131,255,0)"/></linearGradient>
<linearGradient id="c62" x1="0" y1="1" x2="0" y2="0"><stop offset="0.000" stop-color="rgb(255,0,0)"/><stop offset="0.150" stop-color="rgb(255,0,0)"/><stop offset="0.500" stop-color="rgb(255,100,0)"/><stop offset="1.000" stop-color="rgb(255,175,0)"/></linearGradient>
<linearGradient id="c63" x1="0" y1="1" x2="0" y2="0"><stop offset="0.000" stop-color="rgb(255,0,0)"/><stop offset="0.120" stop-color="rgb(255,0,0)"/><stop offset="0.300" stop-color="rgb(255,175,0)"/><stop offset="0.600" stop-color="rgb(255,252,0)"/><stop offset="1.000" stop-color="rgb(255,252,0)"/></linearGradient>
<linearGradient id="c64" x1="0" y1="1" x2="0" y2="0"><stop offset="0.000" stop-color="rgb(255,0,0)"/><stop offset="0.120" stop-color="rgb(255,252,0)"/><stop offset="0.200" stop-color="rgb(131,255,0)"/><stop offset="0.400" stop-color="rgb(0,255,11)"/><stop offset="1.000" stop-color="rgb(0,255,11)"/></linearGradient>
<clipPath id="pc"><rect x="81" y="58" width="419" height="75"/><rect x="81" y="154" width="419" height="75"/><rect x="81" y="250" width="419" height="75"/><rect x="81" y="365" width="419" height="75"/><rect x="81" y="461" width="419" height="75"/><rect x="81" y="557" width="419" height="75"/></clipPath>
</defs>
<rect width="640" height="768" fill="#fff"/>
<g clip-path="url(#pc)">
<g filter="url(#cmE)">
<rect x="70" y="40" width="440" height="300" fill="#1e1e1e"/>
<rect x="77" y="54" width="427" height="83" fill="url(#g0)"/>
<rect x="77" y="54" width="5.6" height="83" fill="url(#g1)"/>
<rect x="82.6" y="54" width="3.8" height="83" fill="url(#g2)"/>
<rect x="86.4" y="54" width="3.6" height="83" fill="url(#g3)"/>
<rect x="90" y="54" width="4" height="83" fill="url(#g4)"/>
<rect x="94" y="54" width="2" height="83" fill="url(#g5)"/>
<rect x="96" y="54" width="8" height="83" fill="url(#g6)"/>
<polygon points="98.3,137 102.2,137 101.2,58.0 99.6,58.0" fill="url(#g7)"/>
<polygon points="97.6,140.5 102.6,140.5 102.2,110.5 98.4,110.5" fill="#ffffff"/>
<rect x="104" y="54" width="3.3" height="83" fill="url(#g8)"/>
<rect x="108" y="54" width="12.5" height="83" fill="url(#g9)"/>
<rect x="108" y="54" width="4" height="83" fill="url(#g10)"/>
<rect x="120.5" y="54" width="2.3" height="83" fill="url(#g11)"/>
<rect x="122.8" y="54" width="27.2" height="83" fill="url(#g12)"/>
<rect x="150" y="54" width="6" height="83" fill="url(#g13)"/>
<rect x="156" y="54" width="6.5" height="83" fill="url(#g14)"/>
<rect x="163" y="54" width="7" height="83" fill="url(#g15)"/>
<rect x="170" y="54" width="4.3" height="83" fill="url(#g16)"/>
<rect x="175" y="54" width="5" height="83" fill="url(#g17)"/>
<rect x="180" y="54" width="5" height="83" fill="url(#g18)"/>
<rect x="185" y="54" width="9" height="83" fill="url(#g19)"/>
<rect x="187" y="54" width="4.5" height="83" fill="url(#g20)"/>
<rect x="194" y="54" width="4" height="83" fill="url(#g21)"/>
<rect x="198" y="54" width="6" height="83" fill="url(#g22)"/>
<rect x="206" y="54" width="9" height="83" fill="url(#g23)"/>
<rect x="207.4" y="54" width="1.0" height="83" fill="url(#g24)"/>
<rect x="207.4" y="54" width="1.0" height="83" fill="url(#g24)"/>
<rect x="207.4" y="54" width="1.0" height="83" fill="url(#g24)"/>
<rect x="208.6" y="54" width="1.0" height="83" fill="url(#g25)"/>
<rect x="208.7" y="54" width="1.0" height="83" fill="url(#g25)"/>
<rect x="215" y="54" width="7" height="83" fill="url(#g26)"/>
<rect x="215.3" y="54" width="1.0" height="83" fill="url(#g27)"/>
<rect x="218.5" y="54" width="1.0" height="83" fill="url(#g27)"/>
<rect x="218.7" y="54" width="1.0" height="83" fill="url(#g27)"/>
<rect x="223" y="54" width="12" height="83" fill="url(#g28)"/>
<rect x="223.3" y="54" width="1.0" height="83" fill="url(#g29)"/>
<rect x="224.6" y="54" width="1.0" height="83" fill="url(#g29)"/>
<rect x="226.8" y="54" width="1.0" height="83" fill="url(#g29)"/>
<rect x="227.8" y="54" width="1.0" height="83" fill="url(#g29)"/>
<rect x="229.5" y="54" width="1.0" height="83" fill="url(#g29)"/>
<rect x="235" y="54" width="6" height="83" fill="url(#g30)"/>
<rect x="245" y="54" width="10" height="83" fill="url(#g31)"/>
<rect x="294" y="54" width="1.2" height="83" fill="url(#g32)"/>
<rect x="302.2" y="54" width="2.0" height="83" fill="url(#g33)"/>
<rect x="350.5" y="54" width="14.0" height="83" fill="url(#g34)"/>
<rect x="353.6" y="54" width="7.4" height="83" fill="url(#g35)"/>
<rect x="355.2" y="54" width="4.0" height="83" fill="url(#g36)"/>
<rect x="364.5" y="54" width="18.5" height="83" fill="url(#g37)"/>
<rect x="383" y="54" width="9.6" height="83" fill="url(#g38)"/>
<rect x="392.6" y="54" width="5.6" height="83" fill="url(#g39)"/>
<rect x="398.6" y="54" width="3.7" height="83" fill="url(#g40)"/>
<rect x="402.7" y="54" width="8.3" height="83" fill="url(#g41)"/>
<rect x="411" y="54" width="3.5" height="83" fill="url(#g42)"/>
<rect x="414.5" y="54" width="5.5" height="83" fill="url(#g43)"/>
<rect x="420" y="54" width="7" height="83" fill="url(#g44)"/>
<rect x="427" y="54" width="29" height="83" fill="url(#g45)"/>
<rect x="457.5" y="54" width="2.5" height="83" fill="url(#g46)"/>
<rect x="461" y="54" width="43" height="83" fill="url(#g47)"/>
<polygon points="461.5,137 469.5,137 466.3,58.0 464,58.0" fill="url(#g48)"/>
<polygon points="469.8,137 477.3,137 474.6,58.0 472.3,58.0" fill="url(#g49)"/>
<polygon points="478,137 483.6,137 482.3,58.0 480,58.0" fill="url(#g50)"/>
<polygon points="483.2,137 489.3,137 487.2,58.0 485,58.0" fill="url(#g51)"/>
<polygon points="491,137 498,137 495.8,58.0 493.5,58.0" fill="url(#g52)"/>
<rect x="498" y="54" width="6" height="83" fill="url(#g53)"/>
<rect x="77" y="132.1" width="427" height="8.4" fill="#ffffff"/>
<rect x="77" y="150" width="427" height="83" fill="url(#g54)"/>
<rect x="77" y="150" width="5.6" height="83" fill="url(#g55)"/>
<rect x="82.6" y="150" width="7.4" height="83" fill="url(#g56)"/>
<rect x="90" y="150" width="4" height="83" fill="url(#g57)"/>
<rect x="94" y="150" width="2.5" height="83" fill="url(#g58)"/>
<rect x="96.5" y="150" width="7.5" height="83" fill="url(#g59)"/>
<polygon points="98.3,233 102.5,233 101.4,154.0 99.6,154.0" fill="url(#g60)"/>
<polygon points="97.5,236.5 103,236.5 102.2,210.2 98.4,210.2" fill="#ffffff"/>
<rect x="103.6" y="150" width="3.7" height="83" fill="url(#g61)"/>
<rect x="108" y="150" width="4" height="83" fill="url(#g62)"/>
<rect x="112" y="150" width="7" height="83" fill="url(#g63)"/>
<rect x="119" y="150" width="3.6" height="83" fill="url(#g64)"/>
<rect x="122.6" y="150" width="23.4" height="83" fill="url(#g65)"/>
<rect x="146" y="150" width="4" height="83" fill="url(#g66)"/>
<rect x="150" y="150" width="11.6" height="83" fill="url(#g67)"/>
<polygon points="150.3,233 156.5,233 154.5,154.0 152,154.0" fill="url(#g68)"/>
<polygon points="150,236.5 157,236.5 155.6,199.0 150.6,199.0" fill="#ffffff"/>
<rect x="163" y="150" width="5" height="83" fill="url(#g69)"/>
<rect x="168" y="150" width="6.3" height="83" fill="url(#g70)"/>
<rect x="175" y="150" width="10" height="83" fill="url(#g71)"/>
<rect x="180.1" y="150" width="1.0" height="83" fill="url(#g72)"/>
<rect x="180.1" y="150" width="1.0" height="83" fill="url(#g72)"/>
<rect x="180.7" y="150" width="1.0" height="83" fill="url(#g72)"/>
<rect x="181.6" y="150" width="1.0" height="83" fill="url(#g72)"/>
<rect x="183.5" y="150" width="12.5" height="83" fill="url(#g73)"/>
<polygon points="185,233 193.5,233 191.5,154.0 186.5,154.0" fill="url(#g74)"/>
<rect x="188" y="150" width="1.3" height="83" fill="url(#g75)"/>
<rect x="194" y="150" width="10" height="83" fill="url(#g76)"/>
<rect x="194.5" y="150" width="1.0" height="83" fill="url(#g77)"/>
<rect x="200.8" y="150" width="1.0" height="83" fill="url(#g77)"/>
<rect x="201.2" y="150" width="1.0" height="83" fill="url(#g77)"/>
<rect x="201.8" y="150" width="1.0" height="83" fill="url(#g77)"/>
<rect x="206" y="150" width="9" height="83" fill="url(#g78)"/>
<rect x="206.4" y="150" width="1.0" height="83" fill="url(#g77)"/>
<rect x="208.9" y="150" width="1.0" height="83" fill="url(#g77)"/>
<rect x="210.7" y="150" width="1.0" height="83" fill="url(#g77)"/>
<rect x="211.2" y="150" width="1.0" height="83" fill="url(#g77)"/>
<rect x="215" y="150" width="7" height="83" fill="url(#g79)"/>
<rect x="216.7" y="150" width="1.0" height="83" fill="url(#g80)"/>
<rect x="217.7" y="150" width="1.0" height="83" fill="url(#g80)"/>
<rect x="223" y="150" width="17" height="83" fill="url(#g81)"/>
<rect x="224.9" y="150" width="1.0" height="83" fill="url(#g82)"/>
<rect x="225.7" y="150" width="1.0" height="83" fill="url(#g82)"/>
<rect x="228.8" y="150" width="1.0" height="83" fill="url(#g82)"/>
<rect x="232.8" y="150" width="1.0" height="83" fill="url(#g82)"/>
<rect x="233.4" y="150" width="1.0" height="83" fill="url(#g82)"/>
<rect x="233.8" y="150" width="1.0" height="83" fill="url(#g82)"/>
<rect x="245" y="150" width="9.5" height="83" fill="url(#g83)"/>
<rect x="254.5" y="150" width="26.5" height="83" fill="url(#g84)"/>
<rect x="274.3" y="150" width="2.7" height="83" fill="url(#g85)"/>
<rect x="281" y="150" width="69" height="83" fill="url(#g54)"/>
<rect x="294" y="150" width="1.2" height="83" fill="url(#g86)"/>
<rect x="302.2" y="150" width="2.0" height="83" fill="url(#g87)"/>
<rect x="350" y="150" width="16" height="83" fill="url(#g88)"/>
<rect x="353" y="150" width="10" height="83" fill="url(#g89)"/>
<rect x="359.3" y="150" width="2.5" height="83" fill="url(#g90)"/>
<polygon points="354,233 360.7,233 358.8,154.0 355.3,154.0" fill="url(#g91)"/>
<rect x="366" y="150" width="17" height="83" fill="url(#g92)"/>
<rect x="383" y="150" width="9.6" height="83" fill="url(#g93)"/>
<rect x="392.6" y="150" width="5.9" height="83" fill="url(#g94)"/>
<rect x="398.5" y="150" width="3.8" height="83" fill="url(#g95)"/>
<rect x="402.3" y="150" width="8.7" height="83" fill="url(#g96)"/>
<rect x="411" y="150" width="5" height="83" fill="url(#g97)"/>
<rect x="416" y="150" width="5" height="83" fill="url(#g98)"/>
<rect x="421" y="150" width="6.5" height="83" fill="url(#g99)"/>
<rect x="427" y="150" width="1" height="83" fill="url(#g100)"/>
<rect x="428" y="150" width="28" height="83" fill="url(#g101)"/>
<rect x="447.5" y="150" width="1.2" height="83" fill="url(#g102)"/>
<rect x="453" y="150" width="3" height="83" fill="url(#g103)"/>
<rect x="456" y="150" width="2" height="83" fill="url(#g104)"/>
<rect x="458" y="150" width="2" height="83" fill="url(#g105)"/>
<rect x="461.4" y="150" width="1.6" height="83" fill="url(#g106)"/>
<rect x="463" y="150" width="41" height="83" fill="url(#g107)"/>
<rect x="463" y="150" width="14" height="83" fill="url(#g108)"/>
<polygon points="463.2,233 470.5,233 468,154.0 465,154.0" fill="url(#g109)"/>
<polygon points="478.5,233 485,233 483,154.0 480,154.0" fill="url(#g110)"/>
<polygon points="484.5,233 490,233 488,154.0 485.5,154.0" fill="url(#g111)"/>
<polygon points="491,233 498,233 496,154.0 493,154.0" fill="url(#g112)"/>
<rect x="77" y="228.1" width="427" height="8.4" fill="#ffffff"/>
<rect x="77" y="246" width="427" height="83" fill="url(#g113)"/>
<rect x="77" y="246" width="17" height="83" fill="url(#g114)"/>
<rect x="94" y="246" width="3.5" height="83" fill="url(#g115)"/>
<rect x="96.5" y="246" width="7.5" height="83" fill="url(#g116)"/>
<polygon points="95.5,329 105,329 102.4,250.0 98.6,250.0" fill="url(#g117)"/>
<polygon points="96.8,329 104,329 101.6,250.0 99.5,250.0" fill="url(#g118)"/>
<rect x="104" y="246" width="3.3" height="83" fill="url(#g119)"/>
<rect x="108" y="246" width="14" height="83" fill="url(#g120)"/>
<rect x="122" y="246" width="11" height="83" fill="url(#g121)"/>
<rect x="136" y="246" width="7" height="83" fill="url(#g122)"/>
<rect x="144" y="246" width="5" height="83" fill="url(#g123)"/>
<rect x="149" y="246" width="8.5" height="83" fill="url(#g124)"/>
<polygon points="150,329 156.5,329 154,250.0 152.2,250.0" fill="url(#g125)"/>
<rect x="146.7" y="246" width="1.8" height="83" fill="url(#g126)"/>
<rect x="157" y="246" width="26" height="83" fill="url(#g127)"/>
<rect x="183" y="246" width="11" height="83" fill="url(#g128)"/>
<polygon points="184,329 193,329 190.5,250.0 186.5,250.0" fill="url(#g129)"/>
<rect x="280" y="246" width="72" height="83" fill="url(#g130)"/>
<rect x="355" y="246" width="4.3" height="83" fill="url(#g131)"/>
<polygon points="353.5,329 361,329 359,317.5 355.5,317.5" fill="url(#g132)"/>
<polygon points="359,332.5 369,332.5 366,322.0 360,321.2" fill="#ffffff"/>
<rect x="360" y="246" width="9" height="83" fill="url(#g133)"/>
<rect x="369" y="246" width="8" height="83" fill="url(#g134)"/>
<rect x="377" y="246" width="9" height="83" fill="url(#g135)"/>
<rect x="386" y="246" width="12" height="83" fill="url(#g136)"/>
<rect x="397" y="246" width="7" height="83" fill="url(#g137)"/>
<polygon points="398.3,329 402.6,329 401.4,250.0 399.4,250.0" fill="url(#g138)"/>
<polygon points="396.5,332.5 405,332.5 402.3,313.0 398.6,313.0" fill="#ffffff"/>
<rect x="404" y="246" width="5" height="83" fill="url(#g139)"/>
<rect x="409" y="246" width="18" height="83" fill="url(#g140)"/>
<rect x="428" y="246" width="32" height="83" fill="url(#g141)"/>
<polygon points="434,332.5 449,332.5 446,321.6 442,319.8 438,321.6" fill="#ffffff"/>
<rect x="460" y="246" width="3" height="83" fill="url(#g142)"/>
<rect x="463" y="246" width="18" height="83" fill="url(#g143)"/>
<polygon points="462.5,329 468,329 466.3,250.0 464.3,250.0" fill="url(#g144)"/>
<rect x="482.5" y="246" width="21.5" height="83" fill="url(#g145)"/>
<rect x="77" y="323.1" width="427" height="9.4" fill="#dddddd"/>
<rect x="77" y="322.8" width="19" height="9.8" fill="#a6a6a6"/>
</g>
<g filter="url(#cmB)">
<rect x="70" y="350" width="440" height="300" fill="#1e1e1e"/>
<rect x="77" y="361" width="427" height="83" fill="url(#g146)"/>
<rect x="150" y="361" width="8.5" height="83" fill="url(#g147)"/>
<rect x="158.5" y="361" width="3.5" height="83" fill="url(#g148)"/>
<rect x="77" y="457" width="427" height="83" fill="url(#g149)"/>
<rect x="150" y="457" width="9" height="83" fill="url(#g150)"/>
<rect x="159" y="457" width="4" height="83" fill="url(#g151)"/>
<rect x="77" y="553" width="427" height="83" fill="url(#g152)"/>
<rect x="150" y="553" width="9" height="83" fill="url(#g153)"/>
</g>
<rect x="93" y="58.0" width="1" height="75.0" fill="#000000"/>
<rect x="102.8" y="58.0" width="1" height="75.0" fill="#000000" opacity="0.8"/>
<rect x="104.2" y="58.0" width="1" height="75.0" fill="#00f0ff" opacity="0.55"/>
<rect x="105.3" y="58.0" width="1.3" height="75.0" fill="#000000"/>
<rect x="107" y="58.0" width="1" height="75.0" fill="#ff1000"/>
<rect x="133" y="58.0" width="1" height="75.0" fill="#ff1000"/>
<rect x="141" y="58.0" width="1" height="75.0" fill="#ff8c00"/>
<rect x="143" y="58.0" width="1" height="75.0" fill="#ff1000"/>
<rect x="149" y="58.0" width="1" height="75.0" fill="#ff1000"/>
<rect x="162" y="58.0" width="1" height="75.0" fill="#ff1000"/>
<rect x="174" y="58.0" width="1" height="75.0" fill="#ff1000"/>
<rect x="204" y="58.0" width="1.6" height="75.0" fill="#ff1000"/>
<rect x="222" y="58.0" width="1" height="75.0" fill="#ff5000"/>
<rect x="241" y="58.0" width="2" height="75.0" fill="#ff1000"/>
<rect x="244" y="58.0" width="1" height="75.0" fill="#ff1000"/>
<rect x="253" y="58.0" width="1" height="75.0" fill="#00ffb0" opacity="0.8"/>
<rect x="255" y="58.0" width="1" height="75.0" fill="#ff5000"/>
<rect x="256" y="58.0" width="1" height="75.0" fill="#ffd800"/>
<rect x="257" y="58.0" width="1" height="75.0" fill="#ff5000"/>
<rect x="258" y="58.0" width="1" height="75.0" fill="#00ff20"/>
<rect x="259" y="58.0" width="1" height="75.0" fill="#ff5000"/>
<rect x="260" y="58.0" width="1" height="75.0" fill="#ffd800"/>
<rect x="261" y="58.0" width="1" height="75.0" fill="#ff5000"/>
<rect x="262" y="58.0" width="1" height="75.0" fill="#00ffb0"/>
<rect x="263" y="58.0" width="1" height="75.0" fill="#ff1000"/>
<rect x="264" y="58.0" width="1" height="75.0" fill="#ff1000"/>
<rect x="265" y="58.0" width="1" height="75.0" fill="#ff1000"/>
<rect x="266" y="58.0" width="1" height="75.0" fill="#2060ff"/>
<rect x="267" y="58.0" width="1" height="75.0" fill="#ff1000"/>
<rect x="268" y="58.0" width="1" height="75.0" fill="#00ff20"/>
<rect x="269" y="58.0" width="1" height="75.0" fill="#ff8c00"/>
<rect x="270" y="58.0" width="1" height="75.0" fill="#b0ff00"/>
<rect x="271" y="58.0" width="1" height="75.0" fill="#ffd800"/>
<rect x="272" y="58.0" width="1" height="75.0" fill="#00ff20"/>
<rect x="273" y="58.0" width="1" height="75.0" fill="#ff1000"/>
<rect x="274" y="58.0" width="1" height="75.0" fill="#ff1000"/>
<rect x="277" y="58.0" width="1" height="75.0" fill="#ff5000"/>
<rect x="278" y="58.0" width="1" height="75.0" fill="#ffd800"/>
<rect x="279" y="58.0" width="1" height="75.0" fill="#ff5000"/>
<rect x="407" y="58.0" width="1.7" height="75.0" fill="#ff1000"/>
<rect x="436" y="69.2" width="19.5" height="2" fill="#00f0ff" opacity="0.85"/>
<rect x="437" y="75.6" width="18" height="1.3" fill="#3090ff" opacity="0.7"/>
<rect x="456" y="58.0" width="1.3" height="75.0" fill="#ff1000"/>
<rect x="460" y="58.0" width="1" height="75.0" fill="#ff8c00"/>
<rect x="481" y="58.0" width="1" height="75.0" fill="#ff1000" opacity="0.85"/>
<rect x="93" y="154.0" width="1" height="75.0" fill="#000000"/>
<rect x="104.3" y="154.0" width="1" height="75.0" fill="#000000"/>
<rect x="105.3" y="154.0" width="1" height="75.0" fill="#00f0ff" opacity="0.45"/>
<rect x="106" y="154.0" width="1" height="75.0" fill="#000000"/>
<rect x="107" y="154.0" width="1" height="75.0" fill="#ff1000"/>
<rect x="133" y="154.0" width="1" height="75.0" fill="#ff1000"/>
<rect x="141" y="154.0" width="1" height="75.0" fill="#ff1000"/>
<rect x="143" y="154.0" width="1" height="75.0" fill="#ffd800"/>
<rect x="147.5" y="154.0" width="0.9" height="75.0" fill="YO" opacity="0.8"/>
<rect x="149" y="154.0" width="1" height="75.0" fill="#ff1000"/>
<rect x="162" y="154.0" width="1" height="75.0" fill="#ff1000"/>
<rect x="174" y="154.0" width="1" height="75.0" fill="#ff1000"/>
<rect x="204" y="154.0" width="1.6" height="75.0" fill="#ff5000"/>
<rect x="222" y="154.0" width="1" height="75.0" fill="#b0ff00"/>
<rect x="241" y="154.0" width="2" height="75.0" fill="#ff1000"/>
<rect x="244" y="154.0" width="1" height="75.0" fill="#ff1000"/>
<rect x="254" y="154.0" width="1" height="75.0" fill="#ff5000"/>
<rect x="255" y="154.0" width="1" height="75.0" fill="#ff1000"/>
<rect x="256" y="154.0" width="1" height="75.0" fill="#ff1000"/>
<rect x="257" y="154.0" width="1" height="75.0" fill="#ff1000"/>
<rect x="258" y="154.0" width="1" height="75.0" fill="#b0ff00"/>
<rect x="259" y="154.0" width="1" height="75.0" fill="#ff1000"/>
<rect x="260" y="154.0" width="1" height="75.0" fill="#ff1000"/>
<rect x="261" y="154.0" width="1" height="75.0" fill="#ff1000"/>
<rect x="262" y="154.0" width="1" height="75.0" fill="#00f0ff"/>
<rect x="263" y="154.0" width="1" height="75.0" fill="#ff5000"/>
<rect x="264" y="154.0" width="1" height="75.0" fill="#ff1000"/>
<rect x="265" y="154.0" width="1" height="75.0" fill="#ff1000"/>
<rect x="266" y="154.0" width="1" height="75.0" fill="#00f0ff"/>
<rect x="267" y="154.0" width="1" height="75.0" fill="#ff1000"/>
<rect x="268" y="154.0" width="1" height="75.0" fill="#ff5000"/>
<rect x="269" y="154.0" width="1" height="75.0" fill="#00ffb0"/>
<rect x="270" y="154.0" width="1" height="75.0" fill="#ff8c00"/>
<rect x="271" y="154.0" width="1" height="75.0" fill="#ff8c00"/>
<rect x="272" y="154.0" width="1" height="75.0" fill="#b0ff00"/>
<rect x="273" y="154.0" width="1" height="75.0" fill="YO"/>
<rect x="274" y="154.0" width="1" height="75.0" fill="#ff8c00"/>
<rect x="277" y="154.0" width="1" height="75.0" fill="#ff8c00"/>
<rect x="278" y="154.0" width="1" height="75.0" fill="#ffd800"/>
<rect x="279" y="154.0" width="1" height="75.0" fill="#ff8c00"/>
<rect x="407" y="154.0" width="1.7" height="75.0" fill="url(#c0)"/>
<rect x="436" y="164.9" width="20" height="2.3" fill="#00ffb0" opacity="0.9"/>
<rect x="437" y="170.9" width="18" height="1.3" fill="#30a0ff" opacity="0.7"/>
<rect x="460" y="154.0" width="1.4" height="75.0" fill="url(#c1)"/>
<rect x="82" y="265.0" width="1" height="56.2" fill="#1040ff" opacity="0.55"/>
<rect x="86.5" y="265.0" width="1" height="56.2" fill="#1040ff" opacity="0.55"/>
<rect x="93" y="250.0" width="1" height="75.0" fill="#000000"/>
<rect x="104.2" y="250.0" width="1" height="75.0" fill="#000000"/>
<rect x="106" y="250.0" width="1" height="75.0" fill="#000000"/>
<rect x="107" y="250.0" width="1" height="75.0" fill="#ff1000"/>
<rect x="109.5" y="261.2" width="1" height="56.2" fill="#1050ff" opacity="0.5"/>
<rect x="113" y="261.2" width="1" height="56.2" fill="#1050ff" opacity="0.5"/>
<rect x="117" y="261.2" width="1" height="56.2" fill="#1050ff" opacity="0.5"/>
<rect x="133" y="250.0" width="1" height="75.0" fill="#ff1000"/>
<rect x="135" y="250.0" width="1" height="75.0" fill="#0818a0" opacity="0.8"/>
<rect x="143" y="250.0" width="1" height="75.0" fill="#ff1000"/>
<rect x="182" y="257.5" width="1" height="60.0" fill="#10a0ff" opacity="0.6"/>
<rect x="212.6" y="261.2" width="1" height="60.0" fill="#00ff20" opacity="0.7"/>
<rect x="214" y="261.2" width="1" height="60.0" fill="#10a0ff" opacity="0.55"/>
<rect x="222" y="250.0" width="1" height="75.0" fill="url(#c2)"/>
<rect x="255" y="250.0" width="1.1" height="75.0" fill="#ff1000"/>
<rect x="257.2" y="250.0" width="1.1" height="75.0" fill="#ff1000"/>
<rect x="259.3" y="250.0" width="1.1" height="75.0" fill="#ff1000"/>
<rect x="261.5" y="250.0" width="1.1" height="75.0" fill="#ff1000"/>
<rect x="263.6" y="250.0" width="1.1" height="75.0" fill="#ff1000"/>
<rect x="266.8" y="250.0" width="1.2" height="75.0" fill="#ffd800"/>
<rect x="268" y="250.0" width="3.3" height="75.0" fill="#ff1000"/>
<rect x="271.3" y="250.0" width="1" height="75.0" fill="YO"/>
<rect x="272.3" y="250.0" width="4" height="75.0" fill="#ff1000"/>
<rect x="276.5" y="250.0" width="1.5" height="75.0" fill="#ffd800" opacity="0.6"/>
<rect x="278" y="250.0" width="1.4" height="75.0" fill="#ff1000"/>
<rect x="281.5" y="272.5" width="1" height="48.8" fill="#00ff20" opacity="0.45"/>
<rect x="284.5" y="272.5" width="1" height="48.8" fill="#00ff20" opacity="0.45"/>
<rect x="288" y="272.5" width="1" height="48.8" fill="#00ff20" opacity="0.45"/>
<rect x="291.5" y="272.5" width="1" height="48.8" fill="#00ff20" opacity="0.45"/>
<rect x="295" y="272.5" width="1" height="48.8" fill="#00ff20" opacity="0.45"/>
<rect x="299" y="272.5" width="1" height="48.8" fill="#00ff20" opacity="0.45"/>
<rect x="303" y="272.5" width="1" height="48.8" fill="#00ff20" opacity="0.45"/>
<rect x="283" y="265.0" width="1" height="56.2" fill="#00f0ff" opacity="0.4"/>
<rect x="290" y="265.0" width="1" height="56.2" fill="#00f0ff" opacity="0.4"/>
<rect x="386" y="250.0" width="1" height="75.0" fill="url(#c3)" opacity="0.9"/>
<rect x="406.6" y="250.0" width="2" height="75.0" fill="url(#c4)"/>
<rect x="411" y="261.2" width="1" height="41.2" fill="#00f0ff" opacity="0.35"/>
<rect x="414" y="261.2" width="1" height="41.2" fill="#00f0ff" opacity="0.35"/>
<rect x="417.5" y="261.2" width="1" height="41.2" fill="#00f0ff" opacity="0.35"/>
<rect x="421" y="261.2" width="1" height="41.2" fill="#00f0ff" opacity="0.35"/>
<rect x="424" y="261.2" width="1" height="41.2" fill="#00f0ff" opacity="0.35"/>
<rect x="427" y="257.5" width="1" height="66.0" fill="#00f0ff" opacity="0.9"/>
<rect x="480" y="250.0" width="1" height="75.0" fill="#0820a0" opacity="0.8"/>
<rect x="481.2" y="250.0" width="1.2" height="75.0" fill="#ff1000"/>
<rect x="491" y="253.8" width="1" height="63.8" fill="#1060ff" opacity="0.6"/>
<rect x="93" y="365.0" width="1" height="75.0" fill="#000000"/>
<rect x="104.2" y="365.0" width="1" height="75.0" fill="#000000"/>
<rect x="105.3" y="365.0" width="1" height="75.0" fill="#1060ff" opacity="0.6"/>
<rect x="106.2" y="365.0" width="1" height="75.0" fill="#000000" opacity="0.8"/>
<rect x="107" y="365.0" width="1" height="75.0" fill="url(#c5)"/>
<rect x="109" y="365.0" width="1" height="75.0" fill="url(#c6)"/>
<rect x="133" y="365.0" width="1" height="75.0" fill="url(#c6)"/>
<rect x="143" y="365.0" width="1" height="75.0" fill="url(#c7)"/>
<rect x="149" y="365.0" width="1" height="75.0" fill="url(#c8)"/>
<rect x="162" y="365.0" width="1" height="75.0" fill="url(#c7)"/>
<rect x="174" y="365.0" width="1" height="75.0" fill="url(#c9)"/>
<rect x="153.5" y="376.2" width="20.5" height="1.4" fill="#20d8ff" opacity="0.8"/>
<rect x="154.5" y="381.9" width="19.5" height="1.1" fill="#2ea0ff" opacity="0.6"/>
<rect x="216" y="365.0" width="1" height="75.0" fill="url(#c6)"/>
<rect x="222" y="365.0" width="1" height="75.0" fill="url(#c10)"/>
<rect x="229" y="365.0" width="1" height="75.0" fill="url(#c11)"/>
<rect x="241" y="365.0" width="2.2" height="75.0" fill="url(#c12)"/>
<rect x="245" y="365.0" width="1" height="75.0" fill="url(#c13)"/>
<rect x="255" y="365.0" width="1" height="75.0" fill="url(#c5)"/>
<rect x="256" y="365.0" width="1" height="75.0" fill="url(#c14)"/>
<rect x="257" y="365.0" width="1" height="75.0" fill="url(#c15)"/>
<rect x="258" y="365.0" width="2" height="75.0" fill="url(#c16)"/>
<rect x="260" y="365.0" width="1" height="75.0" fill="url(#c17)"/>
<rect x="261" y="365.0" width="2" height="75.0" fill="url(#c16)"/>
<rect x="263" y="365.0" width="2" height="75.0" fill="url(#c5)"/>
<rect x="265" y="365.0" width="1" height="75.0" fill="url(#c18)"/>
<rect x="266" y="365.0" width="1" height="75.0" fill="url(#c19)"/>
<rect x="267" y="365.0" width="2" height="75.0" fill="url(#c20)"/>
<rect x="269" y="365.0" width="1" height="75.0" fill="url(#c21)"/>
<rect x="270" y="365.0" width="1" height="75.0" fill="url(#c20)"/>
<rect x="271" y="365.0" width="1" height="75.0" fill="url(#c19)"/>
<rect x="272" y="365.0" width="1" height="75.0" fill="url(#c16)"/>
<rect x="273" y="365.0" width="3" height="75.0" fill="url(#c22)"/>
<rect x="276" y="365.0" width="1" height="75.0" fill="url(#c23)"/>
<rect x="277" y="365.0" width="1" height="75.0" fill="url(#c16)"/>
<rect x="278" y="365.0" width="1" height="75.0" fill="url(#c24)"/>
<polygon points="256.0,440.0 265.5,440.0 261.55,423.5 259.95,423.5" fill="#ff0800"/>
<polygon points="265.5,440.0 276.5,440.0 271.8,425.0 270.2,425.0" fill="#ff0800"/>
<polygon points="276.0,440.0 279.5,440.0 278.55,429.5 276.95,429.5" fill="#ff0800"/>
<rect x="319" y="365.0" width="1" height="75.0" fill="url(#c25)" opacity="0.8"/>
<rect x="355.6" y="387.5" width="1" height="33.8" fill="url(#c26)" opacity="0.7"/>
<rect x="436" y="376.2" width="20.5" height="1.4" fill="#20d8ff" opacity="0.8"/>
<rect x="437" y="381.9" width="19.5" height="1.1" fill="#2ea0ff" opacity="0.6"/>
<rect x="456.3" y="365.0" width="1.8" height="75.0" fill="url(#c27)"/>
<rect x="488" y="365.0" width="1" height="75.0" fill="url(#c28)"/>
<rect x="81" y="461.0" width="1" height="75.0" fill="url(#c29)" opacity="0.9"/>
<rect x="93" y="461.0" width="1" height="75.0" fill="#000000"/>
<rect x="104.2" y="461.0" width="1" height="75.0" fill="#000000"/>
<rect x="105.3" y="461.0" width="1" height="75.0" fill="#1060ff" opacity="0.6"/>
<rect x="106.2" y="461.0" width="1" height="75.0" fill="#000000" opacity="0.8"/>
<rect x="107" y="461.0" width="1" height="75.0" fill="url(#c5)"/>
<rect x="109" y="461.0" width="1" height="75.0" fill="url(#c6)"/>
<rect x="133" y="461.0" width="1" height="75.0" fill="url(#c30)"/>
<rect x="143" y="461.0" width="1" height="75.0" fill="url(#c31)"/>
<rect x="149" y="461.0" width="1" height="75.0" fill="url(#c31)"/>
<rect x="162" y="461.0" width="1" height="75.0" fill="url(#c32)"/>
<rect x="174" y="461.0" width="1" height="75.0" fill="url(#c31)"/>
<rect x="153.5" y="472.2" width="20.5" height="1.4" fill="#20d8ff" opacity="0.8"/>
<rect x="154.5" y="477.9" width="19.5" height="1.1" fill="#2ea0ff" opacity="0.6"/>
<rect x="216" y="461.0" width="1" height="75.0" fill="url(#c33)"/>
<rect x="222" y="461.0" width="1" height="75.0" fill="url(#c34)" opacity="0.9"/>
<rect x="229" y="461.0" width="1" height="75.0" fill="url(#c35)"/>
<rect x="241" y="461.0" width="2.2" height="75.0" fill="url(#c12)"/>
<rect x="245" y="461.0" width="1" height="75.0" fill="url(#c36)"/>
<rect x="255" y="461.0" width="2" height="75.0" fill="url(#c5)"/>
<rect x="257" y="461.0" width="1" height="75.0" fill="url(#c37)"/>
<rect x="258" y="461.0" width="2" height="75.0" fill="url(#c5)"/>
<rect x="260" y="461.0" width="1" height="75.0" fill="url(#c37)"/>
<rect x="261" y="461.0" width="1" height="75.0" fill="url(#c38)"/>
<rect x="262" y="461.0" width="1" height="75.0" fill="url(#c37)"/>
<rect x="263" y="461.0" width="2" height="75.0" fill="url(#c39)"/>
<rect x="265" y="461.0" width="1" height="75.0" fill="url(#c40)"/>
<rect x="266" y="461.0" width="1" height="75.0" fill="url(#c41)"/>
<rect x="267" y="461.0" width="1" height="75.0" fill="url(#c42)"/>
<rect x="268" y="461.0" width="2" height="75.0" fill="url(#c43)"/>
<rect x="270" y="461.0" width="2" height="75.0" fill="url(#c44)"/>
<rect x="272" y="461.0" width="2" height="75.0" fill="url(#c45)"/>
<rect x="274" y="461.0" width="1" height="75.0" fill="url(#c5)"/>
<rect x="275" y="461.0" width="2" height="75.0" fill="url(#c46)"/>
<rect x="277" y="461.0" width="1" height="75.0" fill="url(#c47)"/>
<rect x="278" y="461.0" width="1" height="75.0" fill="url(#c12)"/>
<polygon points="254.5,536.0 265.5,536.0 260.8,502.2 259.2,502.2" fill="#ff0800"/>
<polygon points="266.0,536.0 275.5,536.0 271.55,513.5 269.95,513.5" fill="#ff0800"/>
<rect x="355.6" y="483.5" width="1" height="33.8" fill="url(#c26)" opacity="0.7"/>
<rect x="436" y="472.2" width="20.5" height="1.4" fill="#20d8ff" opacity="0.8"/>
<rect x="437" y="477.9" width="19.5" height="1.1" fill="#2ea0ff" opacity="0.6"/>
<rect x="456.3" y="461.0" width="1" height="75.0" fill="url(#c48)"/>
<rect x="457.3" y="461.0" width="1" height="75.0" fill="url(#c49)"/>
<rect x="488" y="461.0" width="1" height="75.0" fill="url(#c50)"/>
<rect x="81" y="557.0" width="1.2" height="75.0" fill="url(#c30)"/>
<rect x="93" y="557.0" width="1" height="75.0" fill="#000000"/>
<rect x="104" y="557.0" width="1.6" height="75.0" fill="#000000"/>
<rect x="105.8" y="557.0" width="1" height="75.0" fill="#0828a0" opacity="0.8"/>
<rect x="107" y="557.0" width="1" height="75.0" fill="url(#c28)"/>
<rect x="162" y="557.0" width="1" height="75.0" fill="url(#c51)"/>
<rect x="174" y="557.0" width="1" height="75.0" fill="url(#c52)"/>
<rect x="153.5" y="568.2" width="20.5" height="1.4" fill="#30b8ff" opacity="0.7"/>
<rect x="154.5" y="573.9" width="19.5" height="1.1" fill="#2890ff" opacity="0.5"/>
<rect x="216" y="557.0" width="1" height="75.0" fill="url(#c53)"/>
<rect x="229" y="557.0" width="1" height="75.0" fill="url(#c54)"/>
<rect x="241" y="557.0" width="2.2" height="75.0" fill="url(#c55)"/>
<rect x="244.4" y="557.0" width="1.8" height="75.0" fill="url(#c56)"/>
<rect x="255" y="557.0" width="2" height="75.0" fill="url(#c57)"/>
<rect x="257" y="557.0" width="2" height="75.0" fill="url(#c58)"/>
<rect x="260" y="557.0" width="1" height="75.0" fill="url(#c5)"/>
<rect x="261" y="557.0" width="1" height="75.0" fill="url(#c59)"/>
<rect x="262" y="557.0" width="2" height="75.0" fill="url(#c5)"/>
<rect x="265" y="557.0" width="1" height="75.0" fill="url(#c60)"/>
<rect x="266" y="557.0" width="2" height="75.0" fill="url(#c59)"/>
<rect x="269" y="557.0" width="3" height="75.0" fill="url(#c12)"/>
<rect x="274" y="557.0" width="1" height="75.0" fill="url(#c58)"/>
<rect x="277" y="557.0" width="2" height="75.0" fill="url(#c57)"/>
<rect x="279" y="557.0" width="1" height="75.0" fill="url(#c61)"/>
<polygon points="254.5,632.0 259.5,632.0 257.8,615.5 256.2,615.5" fill="#ff0800"/>
<polygon points="259.5,632.0 264.5,632.0 262.8,614.0 261.2,614.0" fill="#ff0800"/>
<polygon points="264.5,632.0 268.5,632.0 267.3,617.0 265.7,617.0" fill="#ff0800"/>
<polygon points="268.5,632.0 272.5,632.0 271.3,615.5 269.7,615.5" fill="#ff0800"/>
<polygon points="273.0,632.0 276.0,632.0 275.3,620.0 273.7,620.0" fill="#ff0800"/>
<polygon points="276.5,632.0 280.5,632.0 279.3,617.0 277.7,617.0" fill="#ff0800"/>
<rect x="355.6" y="579.5" width="1" height="33.8" fill="url(#c26)" opacity="0.7"/>
<rect x="436" y="568.2" width="20.5" height="1.4" fill="#30b8ff" opacity="0.75"/>
<rect x="437" y="573.9" width="19.5" height="1.1" fill="#20a0ff" opacity="0.6"/>
<rect x="456.3" y="557.0" width="1" height="75.0" fill="url(#c62)"/>
<rect x="457.3" y="557.0" width="1" height="75.0" fill="url(#c63)"/>
<rect x="460" y="557.0" width="1" height="75.0" fill="url(#c64)"/>
</g>
<g opacity="0.999">
<text x="121" y="31.7" font-size="16" text-anchor="start" textLength="41.5" lengthAdjust="spacing">Polar</text>
<text x="171.3" y="31.7" font-size="16" text-anchor="start" textLength="26.4" lengthAdjust="spacingAndGlyphs">PWI</text>
<text x="207.6" y="31.7" font-size="16" text-anchor="start" textLength="40.8" lengthAdjust="spacingAndGlyphs">LFWR</text>
<text x="257.6" y="31.7" font-size="16" text-anchor="start" textLength="72.6" lengthAdjust="spacing">Channels</text>
<text x="341.0" y="31.7" font-size="16" text-anchor="start">1</text>
<rect x="359" y="25.6" width="12.5" height="1.1"/>
<text x="381.4" y="31.7" font-size="16" text-anchor="start" textLength="8.6" lengthAdjust="spacing">6</text>
<text x="400.5" y="31.7" font-size="16" text-anchor="start" textLength="57.7" lengthAdjust="spacing">Despun</text>
<rect x="80" y="57" width="421" height="1"/>
<rect x="80" y="133" width="421" height="2"/>
<rect x="80" y="56" width="1" height="80"/>
<rect x="500" y="56" width="1" height="80"/>
<rect x="71" y="134" width="9" height="1"/>
<rect x="501" y="134" width="8" height="1"/>
<rect x="75" y="131" width="5" height="1"/>
<rect x="501" y="131" width="4" height="1"/>
<rect x="75" y="129" width="5" height="1"/>
<rect x="501" y="129" width="4" height="1"/>
<rect x="75" y="126" width="5" height="1"/>
<rect x="501" y="126" width="4" height="1"/>
<rect x="75" y="124" width="5" height="1"/>
<rect x="501" y="124" width="4" height="1"/>
<rect x="71" y="121" width="9" height="1"/>
<rect x="501" y="121" width="8" height="1"/>
<rect x="75" y="119" width="5" height="1"/>
<rect x="501" y="119" width="4" height="1"/>
<rect x="75" y="116" width="5" height="1"/>
<rect x="501" y="116" width="4" height="1"/>
<rect x="75" y="113" width="5" height="1"/>
<rect x="501" y="113" width="4" height="1"/>
<rect x="75" y="111" width="5" height="1"/>
<rect x="501" y="111" width="4" height="1"/>
<rect x="71" y="108" width="9" height="1"/>
<rect x="501" y="108" width="8" height="1"/>
<rect x="75" y="106" width="5" height="1"/>
<rect x="501" y="106" width="4" height="1"/>
<rect x="75" y="103" width="5" height="1"/>
<rect x="501" y="103" width="4" height="1"/>
<rect x="75" y="101" width="5" height="1"/>
<rect x="501" y="101" width="4" height="1"/>
<rect x="75" y="98" width="5" height="1"/>
<rect x="501" y="98" width="4" height="1"/>
<rect x="71" y="96" width="9" height="1"/>
<rect x="501" y="96" width="8" height="1"/>
<rect x="75" y="93" width="5" height="1"/>
<rect x="501" y="93" width="4" height="1"/>
<rect x="75" y="90" width="5" height="1"/>
<rect x="501" y="90" width="4" height="1"/>
<rect x="75" y="88" width="5" height="1"/>
<rect x="501" y="88" width="4" height="1"/>
<rect x="75" y="85" width="5" height="1"/>
<rect x="501" y="85" width="4" height="1"/>
<rect x="71" y="83" width="9" height="1"/>
<rect x="501" y="83" width="8" height="1"/>
<rect x="75" y="80" width="5" height="1"/>
<rect x="501" y="80" width="4" height="1"/>
<rect x="75" y="78" width="5" height="1"/>
<rect x="501" y="78" width="4" height="1"/>
<rect x="75" y="75" width="5" height="1"/>
<rect x="501" y="75" width="4" height="1"/>
<rect x="75" y="72" width="5" height="1"/>
<rect x="501" y="72" width="4" height="1"/>
<rect x="71" y="70" width="9" height="1"/>
<rect x="501" y="70" width="8" height="1"/>
<rect x="75" y="67" width="5" height="1"/>
<rect x="501" y="67" width="4" height="1"/>
<rect x="75" y="65" width="5" height="1"/>
<rect x="501" y="65" width="4" height="1"/>
<rect x="75" y="62" width="5" height="1"/>
<rect x="501" y="62" width="4" height="1"/>
<rect x="75" y="60" width="5" height="1"/>
<rect x="501" y="60" width="4" height="1"/>
<rect x="71" y="57" width="9" height="1"/>
<rect x="501" y="57" width="8" height="1"/>
<text x="59.5" y="133.9" font-size="13" text-anchor="start">0</text>
<text x="59.5" y="126.2" font-size="13" text-anchor="start">5</text>
<text x="51.5" y="113.2" font-size="13" text-anchor="start" textLength="15" lengthAdjust="spacing">10</text>
<text x="51.5" y="101.2" font-size="13" text-anchor="start" textLength="15" lengthAdjust="spacing">15</text>
<text x="51.5" y="88.2" font-size="13" text-anchor="start" textLength="15" lengthAdjust="spacing">20</text>
<text x="51.5" y="75.2" font-size="13" text-anchor="start" textLength="15" lengthAdjust="spacing">25</text>
<text x="51.5" y="66.0" font-size="13" text-anchor="start" textLength="15" lengthAdjust="spacing">30</text>
<rect x="115" y="135" width="1" height="1"/>
<rect x="150" y="135" width="1" height="1"/>
<rect x="185" y="135" width="1" height="2"/>
<rect x="185" y="56" width="1" height="1"/>
<rect x="220" y="135" width="1" height="1"/>
<rect x="255" y="135" width="1" height="1"/>
<rect x="290" y="135" width="1" height="2"/>
<rect x="290" y="56" width="1" height="1"/>
<rect x="325" y="135" width="1" height="1"/>
<rect x="360" y="135" width="1" height="1"/>
<rect x="395" y="135" width="1" height="2"/>
<rect x="395" y="56" width="1" height="1"/>
<rect x="430" y="135" width="1" height="1"/>
<rect x="465" y="135" width="1" height="1"/>
<text transform="translate(39,138.5) rotate(-90)" font-size="13.5" textLength="84" lengthAdjust="spacing">Ex’ freq (Hz)</text>
<rect x="80" y="153" width="421" height="1"/>
<rect x="80" y="229" width="421" height="2"/>
<rect x="80" y="152" width="1" height="80"/>
<rect x="500" y="152" width="1" height="80"/>
<rect x="71" y="230" width="9" height="1"/>
<rect x="501" y="230" width="8" height="1"/>
<rect x="75" y="227" width="5" height="1"/>
<rect x="501" y="227" width="4" height="1"/>
<rect x="75" y="225" width="5" height="1"/>
<rect x="501" y="225" width="4" height="1"/>
<rect x="75" y="222" width="5" height="1"/>
<rect x="501" y="222" width="4" height="1"/>
<rect x="75" y="220" width="5" height="1"/>
<rect x="501" y="220" width="4" height="1"/>
<rect x="71" y="217" width="9" height="1"/>
<rect x="501" y="217" width="8" height="1"/>
<rect x="75" y="215" width="5" height="1"/>
<rect x="501" y="215" width="4" height="1"/>
<rect x="75" y="212" width="5" height="1"/>
<rect x="501" y="212" width="4" height="1"/>
<rect x="75" y="209" width="5" height="1"/>
<rect x="501" y="209" width="4" height="1"/>
<rect x="75" y="207" width="5" height="1"/>
<rect x="501" y="207" width="4" height="1"/>
<rect x="71" y="204" width="9" height="1"/>
<rect x="501" y="204" width="8" height="1"/>
<rect x="75" y="202" width="5" height="1"/>
<rect x="501" y="202" width="4" height="1"/>
<rect x="75" y="199" width="5" height="1"/>
<rect x="501" y="199" width="4" height="1"/>
<rect x="75" y="197" width="5" height="1"/>
<rect x="501" y="197" width="4" height="1"/>
<rect x="75" y="194" width="5" height="1"/>
<rect x="501" y="194" width="4" height="1"/>
<rect x="71" y="192" width="9" height="1"/>
<rect x="501" y="192" width="8" height="1"/>
<rect x="75" y="189" width="5" height="1"/>
<rect x="501" y="189" width="4" height="1"/>
<rect x="75" y="186" width="5" height="1"/>
<rect x="501" y="186" width="4" height="1"/>
<rect x="75" y="184" width="5" height="1"/>
<rect x="501" y="184" width="4" height="1"/>
<rect x="75" y="181" width="5" height="1"/>
<rect x="501" y="181" width="4" height="1"/>
<rect x="71" y="179" width="9" height="1"/>
<rect x="501" y="179" width="8" height="1"/>
<rect x="75" y="176" width="5" height="1"/>
<rect x="501" y="176" width="4" height="1"/>
<rect x="75" y="174" width="5" height="1"/>
<rect x="501" y="174" width="4" height="1"/>
<rect x="75" y="171" width="5" height="1"/>
<rect x="501" y="171" width="4" height="1"/>
<rect x="75" y="168" width="5" height="1"/>
<rect x="501" y="168" width="4" height="1"/>
<rect x="71" y="166" width="9" height="1"/>
<rect x="501" y="166" width="8" height="1"/>
<rect x="75" y="163" width="5" height="1"/>
<rect x="501" y="163" width="4" height="1"/>
<rect x="75" y="161" width="5" height="1"/>
<rect x="501" y="161" width="4" height="1"/>
<rect x="75" y="158" width="5" height="1"/>
<rect x="501" y="158" width="4" height="1"/>
<rect x="75" y="156" width="5" height="1"/>
<rect x="501" y="156" width="4" height="1"/>
<rect x="71" y="153" width="9" height="1"/>
<rect x="501" y="153" width="8" height="1"/>
<text x="59.5" y="229.9" font-size="13" text-anchor="start">0</text>
<text x="59.5" y="222.2" font-size="13" text-anchor="start">5</text>
<text x="51.5" y="209.2" font-size="13" text-anchor="start" textLength="15" lengthAdjust="spacing">10</text>
<text x="51.5" y="197.2" font-size="13" text-anchor="start" textLength="15" lengthAdjust="spacing">15</text>
<text x="51.5" y="184.2" font-size="13" text-anchor="start" textLength="15" lengthAdjust="spacing">20</text>
<text x="51.5" y="171.2" font-size="13" text-anchor="start" textLength="15" lengthAdjust="spacing">25</text>
<text x="51.5" y="162.0" font-size="13" text-anchor="start" textLength="15" lengthAdjust="spacing">30</text>
<rect x="115" y="231" width="1" height="1"/>
<rect x="150" y="231" width="1" height="1"/>
<rect x="185" y="231" width="1" height="2"/>
<rect x="185" y="152" width="1" height="1"/>
<rect x="220" y="231" width="1" height="1"/>
<rect x="255" y="231" width="1" height="1"/>
<rect x="290" y="231" width="1" height="2"/>
<rect x="290" y="152" width="1" height="1"/>
<rect x="325" y="231" width="1" height="1"/>
<rect x="360" y="231" width="1" height="1"/>
<rect x="395" y="231" width="1" height="2"/>
<rect x="395" y="152" width="1" height="1"/>
<rect x="430" y="231" width="1" height="1"/>
<rect x="465" y="231" width="1" height="1"/>
<text transform="translate(39,234.5) rotate(-90)" font-size="13.5" textLength="84" lengthAdjust="spacing">Ey’ freq (Hz)</text>
<rect x="80" y="249" width="421" height="1"/>
<rect x="80" y="325" width="421" height="2"/>
<rect x="80" y="248" width="1" height="80"/>
<rect x="500" y="248" width="1" height="80"/>
<rect x="71" y="326" width="9" height="1"/>
<rect x="501" y="326" width="8" height="1"/>
<rect x="75" y="323" width="5" height="1"/>
<rect x="501" y="323" width="4" height="1"/>
<rect x="75" y="321" width="5" height="1"/>
<rect x="501" y="321" width="4" height="1"/>
<rect x="75" y="318" width="5" height="1"/>
<rect x="501" y="318" width="4" height="1"/>
<rect x="75" y="316" width="5" height="1"/>
<rect x="501" y="316" width="4" height="1"/>
<rect x="71" y="313" width="9" height="1"/>
<rect x="501" y="313" width="8" height="1"/>
<rect x="75" y="311" width="5" height="1"/>
<rect x="501" y="311" width="4" height="1"/>
<rect x="75" y="308" width="5" height="1"/>
<rect x="501" y="308" width="4" height="1"/>
<rect x="75" y="305" width="5" height="1"/>
<rect x="501" y="305" width="4" height="1"/>
<rect x="75" y="303" width="5" height="1"/>
<rect x="501" y="303" width="4" height="1"/>
<rect x="71" y="300" width="9" height="1"/>
<rect x="501" y="300" width="8" height="1"/>
<rect x="75" y="298" width="5" height="1"/>
<rect x="501" y="298" width="4" height="1"/>
<rect x="75" y="295" width="5" height="1"/>
<rect x="501" y="295" width="4" height="1"/>
<rect x="75" y="293" width="5" height="1"/>
<rect x="501" y="293" width="4" height="1"/>
<rect x="75" y="290" width="5" height="1"/>
<rect x="501" y="290" width="4" height="1"/>
<rect x="71" y="288" width="9" height="1"/>
<rect x="501" y="288" width="8" height="1"/>
<rect x="75" y="285" width="5" height="1"/>
<rect x="501" y="285" width="4" height="1"/>
<rect x="75" y="282" width="5" height="1"/>
<rect x="501" y="282" width="4" height="1"/>
<rect x="75" y="280" width="5" height="1"/>
<rect x="501" y="280" width="4" height="1"/>
<rect x="75" y="277" width="5" height="1"/>
<rect x="501" y="277" width="4" height="1"/>
<rect x="71" y="275" width="9" height="1"/>
<rect x="501" y="275" width="8" height="1"/>
<rect x="75" y="272" width="5" height="1"/>
<rect x="501" y="272" width="4" height="1"/>
<rect x="75" y="270" width="5" height="1"/>
<rect x="501" y="270" width="4" height="1"/>
<rect x="75" y="267" width="5" height="1"/>
<rect x="501" y="267" width="4" height="1"/>
<rect x="75" y="264" width="5" height="1"/>
<rect x="501" y="264" width="4" height="1"/>
<rect x="71" y="262" width="9" height="1"/>
<rect x="501" y="262" width="8" height="1"/>
<rect x="75" y="259" width="5" height="1"/>
<rect x="501" y="259" width="4" height="1"/>
<rect x="75" y="257" width="5" height="1"/>
<rect x="501" y="257" width="4" height="1"/>
<rect x="75" y="254" width="5" height="1"/>
<rect x="501" y="254" width="4" height="1"/>
<rect x="75" y="252" width="5" height="1"/>
<rect x="501" y="252" width="4" height="1"/>
<rect x="71" y="249" width="9" height="1"/>
<rect x="501" y="249" width="8" height="1"/>
<text x="59.5" y="325.9" font-size="13" text-anchor="start">0</text>
<text x="59.5" y="318.2" font-size="13" text-anchor="start">5</text>
<text x="51.5" y="305.2" font-size="13" text-anchor="start" textLength="15" lengthAdjust="spacing">10</text>
<text x="51.5" y="293.2" font-size="13" text-anchor="start" textLength="15" lengthAdjust="spacing">15</text>
<text x="51.5" y="280.2" font-size="13" text-anchor="start" textLength="15" lengthAdjust="spacing">20</text>
<text x="51.5" y="267.2" font-size="13" text-anchor="start" textLength="15" lengthAdjust="spacing">25</text>
<text x="51.5" y="258.0" font-size="13" text-anchor="start" textLength="15" lengthAdjust="spacing">30</text>
<rect x="115" y="327" width="1" height="1"/>
<rect x="150" y="327" width="1" height="1"/>
<rect x="185" y="327" width="1" height="2"/>
<rect x="185" y="248" width="1" height="1"/>
<rect x="220" y="327" width="1" height="1"/>
<rect x="255" y="327" width="1" height="1"/>
<rect x="290" y="327" width="1" height="2"/>
<rect x="290" y="248" width="1" height="1"/>
<rect x="325" y="327" width="1" height="1"/>
<rect x="360" y="327" width="1" height="1"/>
<rect x="395" y="327" width="1" height="2"/>
<rect x="395" y="248" width="1" height="1"/>
<rect x="430" y="327" width="1" height="1"/>
<rect x="465" y="327" width="1" height="1"/>
<text transform="translate(39,330.5) rotate(-90)" font-size="13.5" textLength="84" lengthAdjust="spacing">Ez freq (Hz)</text>
<rect x="80" y="364" width="421" height="1"/>
<rect x="80" y="440" width="421" height="2"/>
<rect x="80" y="363" width="1" height="80"/>
<rect x="500" y="363" width="1" height="80"/>
<rect x="71" y="441" width="9" height="1"/>
<rect x="501" y="441" width="8" height="1"/>
<rect x="75" y="438" width="5" height="1"/>
<rect x="501" y="438" width="4" height="1"/>
<rect x="75" y="436" width="5" height="1"/>
<rect x="501" y="436" width="4" height="1"/>
<rect x="75" y="433" width="5" height="1"/>
<rect x="501" y="433" width="4" height="1"/>
<rect x="75" y="431" width="5" height="1"/>
<rect x="501" y="431" width="4" height="1"/>
<rect x="71" y="428" width="9" height="1"/>
<rect x="501" y="428" width="8" height="1"/>
<rect x="75" y="426" width="5" height="1"/>
<rect x="501" y="426" width="4" height="1"/>
<rect x="75" y="423" width="5" height="1"/>
<rect x="501" y="423" width="4" height="1"/>
<rect x="75" y="420" width="5" height="1"/>
<rect x="501" y="420" width="4" height="1"/>
<rect x="75" y="418" width="5" height="1"/>
<rect x="501" y="418" width="4" height="1"/>
<rect x="71" y="415" width="9" height="1"/>
<rect x="501" y="415" width="8" height="1"/>
<rect x="75" y="413" width="5" height="1"/>
<rect x="501" y="413" width="4" height="1"/>
<rect x="75" y="410" width="5" height="1"/>
<rect x="501" y="410" width="4" height="1"/>
<rect x="75" y="408" width="5" height="1"/>
<rect x="501" y="408" width="4" height="1"/>
<rect x="75" y="405" width="5" height="1"/>
<rect x="501" y="405" width="4" height="1"/>
<rect x="71" y="403" width="9" height="1"/>
<rect x="501" y="403" width="8" height="1"/>
<rect x="75" y="400" width="5" height="1"/>
<rect x="501" y="400" width="4" height="1"/>
<rect x="75" y="397" width="5" height="1"/>
<rect x="501" y="397" width="4" height="1"/>
<rect x="75" y="395" width="5" height="1"/>
<rect x="501" y="395" width="4" height="1"/>
<rect x="75" y="392" width="5" height="1"/>
<rect x="501" y="392" width="4" height="1"/>
<rect x="71" y="390" width="9" height="1"/>
<rect x="501" y="390" width="8" height="1"/>
<rect x="75" y="387" width="5" height="1"/>
<rect x="501" y="387" width="4" height="1"/>
<rect x="75" y="385" width="5" height="1"/>
<rect x="501" y="385" width="4" height="1"/>
<rect x="75" y="382" width="5" height="1"/>
<rect x="501" y="382" width="4" height="1"/>
<rect x="75" y="379" width="5" height="1"/>
<rect x="501" y="379" width="4" height="1"/>
<rect x="71" y="377" width="9" height="1"/>
<rect x="501" y="377" width="8" height="1"/>
<rect x="75" y="374" width="5" height="1"/>
<rect x="501" y="374" width="4" height="1"/>
<rect x="75" y="372" width="5" height="1"/>
<rect x="501" y="372" width="4" height="1"/>
<rect x="75" y="369" width="5" height="1"/>
<rect x="501" y="369" width="4" height="1"/>
<rect x="75" y="367" width="5" height="1"/>
<rect x="501" y="367" width="4" height="1"/>
<rect x="71" y="364" width="9" height="1"/>
<rect x="501" y="364" width="8" height="1"/>
<text x="59.5" y="440.9" font-size="13" text-anchor="start">0</text>
<text x="59.5" y="433.2" font-size="13" text-anchor="start">5</text>
<text x="51.5" y="420.2" font-size="13" text-anchor="start" textLength="15" lengthAdjust="spacing">10</text>
<text x="51.5" y="408.2" font-size="13" text-anchor="start" textLength="15" lengthAdjust="spacing">15</text>
<text x="51.5" y="395.2" font-size="13" text-anchor="start" textLength="15" lengthAdjust="spacing">20</text>
<text x="51.5" y="382.2" font-size="13" text-anchor="start" textLength="15" lengthAdjust="spacing">25</text>
<text x="51.5" y="373.0" font-size="13" text-anchor="start" textLength="15" lengthAdjust="spacing">30</text>
<rect x="115" y="442" width="1" height="1"/>
<rect x="150" y="442" width="1" height="1"/>
<rect x="185" y="442" width="1" height="2"/>
<rect x="185" y="363" width="1" height="1"/>
<rect x="220" y="442" width="1" height="1"/>
<rect x="255" y="442" width="1" height="1"/>
<rect x="290" y="442" width="1" height="2"/>
<rect x="290" y="363" width="1" height="1"/>
<rect x="325" y="442" width="1" height="1"/>
<rect x="360" y="442" width="1" height="1"/>
<rect x="395" y="442" width="1" height="2"/>
<rect x="395" y="363" width="1" height="1"/>
<rect x="430" y="442" width="1" height="1"/>
<rect x="465" y="442" width="1" height="1"/>
<text transform="translate(39,445.5) rotate(-90)" font-size="13.5" textLength="84" lengthAdjust="spacing">Bx’ freq (Hz)</text>
<rect x="80" y="460" width="421" height="1"/>
<rect x="80" y="536" width="421" height="2"/>
<rect x="80" y="459" width="1" height="80"/>
<rect x="500" y="459" width="1" height="80"/>
<rect x="71" y="537" width="9" height="1"/>
<rect x="501" y="537" width="8" height="1"/>
<rect x="75" y="534" width="5" height="1"/>
<rect x="501" y="534" width="4" height="1"/>
<rect x="75" y="532" width="5" height="1"/>
<rect x="501" y="532" width="4" height="1"/>
<rect x="75" y="529" width="5" height="1"/>
<rect x="501" y="529" width="4" height="1"/>
<rect x="75" y="527" width="5" height="1"/>
<rect x="501" y="527" width="4" height="1"/>
<rect x="71" y="524" width="9" height="1"/>
<rect x="501" y="524" width="8" height="1"/>
<rect x="75" y="522" width="5" height="1"/>
<rect x="501" y="522" width="4" height="1"/>
<rect x="75" y="519" width="5" height="1"/>
<rect x="501" y="519" width="4" height="1"/>
<rect x="75" y="516" width="5" height="1"/>
<rect x="501" y="516" width="4" height="1"/>
<rect x="75" y="514" width="5" height="1"/>
<rect x="501" y="514" width="4" height="1"/>
<rect x="71" y="511" width="9" height="1"/>
<rect x="501" y="511" width="8" height="1"/>
<rect x="75" y="509" width="5" height="1"/>
<rect x="501" y="509" width="4" height="1"/>
<rect x="75" y="506" width="5" height="1"/>
<rect x="501" y="506" width="4" height="1"/>
<rect x="75" y="504" width="5" height="1"/>
<rect x="501" y="504" width="4" height="1"/>
<rect x="75" y="501" width="5" height="1"/>
<rect x="501" y="501" width="4" height="1"/>
<rect x="71" y="499" width="9" height="1"/>
<rect x="501" y="499" width="8" height="1"/>
<rect x="75" y="496" width="5" height="1"/>
<rect x="501" y="496" width="4" height="1"/>
<rect x="75" y="493" width="5" height="1"/>
<rect x="501" y="493" width="4" height="1"/>
<rect x="75" y="491" width="5" height="1"/>
<rect x="501" y="491" width="4" height="1"/>
<rect x="75" y="488" width="5" height="1"/>
<rect x="501" y="488" width="4" height="1"/>
<rect x="71" y="486" width="9" height="1"/>
<rect x="501" y="486" width="8" height="1"/>
<rect x="75" y="483" width="5" height="1"/>
<rect x="501" y="483" width="4" height="1"/>
<rect x="75" y="481" width="5" height="1"/>
<rect x="501" y="481" width="4" height="1"/>
<rect x="75" y="478" width="5" height="1"/>
<rect x="501" y="478" width="4" height="1"/>
<rect x="75" y="475" width="5" height="1"/>
<rect x="501" y="475" width="4" height="1"/>
<rect x="71" y="473" width="9" height="1"/>
<rect x="501" y="473" width="8" height="1"/>
<rect x="75" y="470" width="5" height="1"/>
<rect x="501" y="470" width="4" height="1"/>
<rect x="75" y="468" width="5" height="1"/>
<rect x="501" y="468" width="4" height="1"/>
<rect x="75" y="465" width="5" height="1"/>
<rect x="501" y="465" width="4" height="1"/>
<rect x="75" y="463" width="5" height="1"/>
<rect x="501" y="463" width="4" height="1"/>
<rect x="71" y="460" width="9" height="1"/>
<rect x="501" y="460" width="8" height="1"/>
<text x="59.5" y="536.9" font-size="13" text-anchor="start">0</text>
<text x="59.5" y="529.2" font-size="13" text-anchor="start">5</text>
<text x="51.5" y="516.2" font-size="13" text-anchor="start" textLength="15" lengthAdjust="spacing">10</text>
<text x="51.5" y="504.2" font-size="13" text-anchor="start" textLength="15" lengthAdjust="spacing">15</text>
<text x="51.5" y="491.2" font-size="13" text-anchor="start" textLength="15" lengthAdjust="spacing">20</text>
<text x="51.5" y="478.2" font-size="13" text-anchor="start" textLength="15" lengthAdjust="spacing">25</text>
<text x="51.5" y="469.0" font-size="13" text-anchor="start" textLength="15" lengthAdjust="spacing">30</text>
<rect x="115" y="538" width="1" height="1"/>
<rect x="150" y="538" width="1" height="1"/>
<rect x="185" y="538" width="1" height="2"/>
<rect x="185" y="459" width="1" height="1"/>
<rect x="220" y="538" width="1" height="1"/>
<rect x="255" y="538" width="1" height="1"/>
<rect x="290" y="538" width="1" height="2"/>
<rect x="290" y="459" width="1" height="1"/>
<rect x="325" y="538" width="1" height="1"/>
<rect x="360" y="538" width="1" height="1"/>
<rect x="395" y="538" width="1" height="2"/>
<rect x="395" y="459" width="1" height="1"/>
<rect x="430" y="538" width="1" height="1"/>
<rect x="465" y="538" width="1" height="1"/>
<text transform="translate(39,541.5) rotate(-90)" font-size="13.5" textLength="84" lengthAdjust="spacing">By’ freq (Hz)</text>
<rect x="80" y="556" width="421" height="1"/>
<rect x="80" y="632" width="421" height="2"/>
<rect x="80" y="555" width="1" height="80"/>
<rect x="500" y="555" width="1" height="80"/>
<rect x="71" y="633" width="9" height="1"/>
<rect x="501" y="633" width="8" height="1"/>
<rect x="75" y="630" width="5" height="1"/>
<rect x="501" y="630" width="4" height="1"/>
<rect x="75" y="628" width="5" height="1"/>
<rect x="501" y="628" width="4" height="1"/>
<rect x="75" y="625" width="5" height="1"/>
<rect x="501" y="625" width="4" height="1"/>
<rect x="75" y="623" width="5" height="1"/>
<rect x="501" y="623" width="4" height="1"/>
<rect x="71" y="620" width="9" height="1"/>
<rect x="501" y="620" width="8" height="1"/>
<rect x="75" y="618" width="5" height="1"/>
<rect x="501" y="618" width="4" height="1"/>
<rect x="75" y="615" width="5" height="1"/>
<rect x="501" y="615" width="4" height="1"/>
<rect x="75" y="612" width="5" height="1"/>
<rect x="501" y="612" width="4" height="1"/>
<rect x="75" y="610" width="5" height="1"/>
<rect x="501" y="610" width="4" height="1"/>
<rect x="71" y="607" width="9" height="1"/>
<rect x="501" y="607" width="8" height="1"/>
<rect x="75" y="605" width="5" height="1"/>
<rect x="501" y="605" width="4" height="1"/>
<rect x="75" y="602" width="5" height="1"/>
<rect x="501" y="602" width="4" height="1"/>
<rect x="75" y="600" width="5" height="1"/>
<rect x="501" y="600" width="4" height="1"/>
<rect x="75" y="597" width="5" height="1"/>
<rect x="501" y="597" width="4" height="1"/>
<rect x="71" y="595" width="9" height="1"/>
<rect x="501" y="595" width="8" height="1"/>
<rect x="75" y="592" width="5" height="1"/>
<rect x="501" y="592" width="4" height="1"/>
<rect x="75" y="589" width="5" height="1"/>
<rect x="501" y="589" width="4" height="1"/>
<rect x="75" y="587" width="5" height="1"/>
<rect x="501" y="587" width="4" height="1"/>
<rect x="75" y="584" width="5" height="1"/>
<rect x="501" y="584" width="4" height="1"/>
<rect x="71" y="582" width="9" height="1"/>
<rect x="501" y="582" width="8" height="1"/>
<rect x="75" y="579" width="5" height="1"/>
<rect x="501" y="579" width="4" height="1"/>
<rect x="75" y="577" width="5" height="1"/>
<rect x="501" y="577" width="4" height="1"/>
<rect x="75" y="574" width="5" height="1"/>
<rect x="501" y="574" width="4" height="1"/>
<rect x="75" y="571" width="5" height="1"/>
<rect x="501" y="571" width="4" height="1"/>
<rect x="71" y="569" width="9" height="1"/>
<rect x="501" y="569" width="8" height="1"/>
<rect x="75" y="566" width="5" height="1"/>
<rect x="501" y="566" width="4" height="1"/>
<rect x="75" y="564" width="5" height="1"/>
<rect x="501" y="564" width="4" height="1"/>
<rect x="75" y="561" width="5" height="1"/>
<rect x="501" y="561" width="4" height="1"/>
<rect x="75" y="559" width="5" height="1"/>
<rect x="501" y="559" width="4" height="1"/>
<rect x="71" y="556" width="9" height="1"/>
<rect x="501" y="556" width="8" height="1"/>
<text x="59.5" y="632.9" font-size="13" text-anchor="start">0</text>
<text x="59.5" y="625.2" font-size="13" text-anchor="start">5</text>
<text x="51.5" y="612.2" font-size="13" text-anchor="start" textLength="15" lengthAdjust="spacing">10</text>
<text x="51.5" y="600.2" font-size="13" text-anchor="start" textLength="15" lengthAdjust="spacing">15</text>
<text x="51.5" y="587.2" font-size="13" text-anchor="start" textLength="15" lengthAdjust="spacing">20</text>
<text x="51.5" y="574.2" font-size="13" text-anchor="start" textLength="15" lengthAdjust="spacing">25</text>
<text x="51.5" y="565.0" font-size="13" text-anchor="start" textLength="15" lengthAdjust="spacing">30</text>
<rect x="115" y="634" width="1" height="1"/>
<rect x="150" y="634" width="1" height="1"/>
<rect x="185" y="634" width="1" height="2"/>
<rect x="185" y="555" width="1" height="1"/>
<rect x="220" y="634" width="1" height="1"/>
<rect x="255" y="634" width="1" height="1"/>
<rect x="290" y="634" width="1" height="2"/>
<rect x="290" y="555" width="1" height="1"/>
<rect x="325" y="634" width="1" height="1"/>
<rect x="360" y="634" width="1" height="1"/>
<rect x="395" y="634" width="1" height="2"/>
<rect x="395" y="555" width="1" height="1"/>
<rect x="430" y="634" width="1" height="1"/>
<rect x="465" y="634" width="1" height="1"/>
<text transform="translate(39,637.5) rotate(-90)" font-size="13.5" textLength="84" lengthAdjust="spacing">Bz freq (Hz)</text>
<linearGradient id="cbg" x1="0" y1="1" x2="0" y2="0"><stop offset="0.0" stop-color="rgb(0,0,128)"/><stop offset="0.117" stop-color="rgb(0,0,255)"/><stop offset="0.244" stop-color="rgb(0,255,255)"/><stop offset="0.326" stop-color="rgb(0,255,190)"/><stop offset="0.49" stop-color="rgb(0,255,0)"/><stop offset="0.626" stop-color="rgb(255,255,0)"/><stop offset="0.753" stop-color="rgb(255,190,0)"/><stop offset="0.85" stop-color="rgb(255,110,0)"/><stop offset="0.97" stop-color="rgb(255,0,0)"/><stop offset="1.0" stop-color="rgb(255,0,0)"/></linearGradient>
<rect x="581" y="57.3" width="19.5" height="77.7" fill="url(#cbg)"/>
<rect x="580" y="57" width="1.2" height="78"/>
<rect x="600" y="57" width="1.2" height="78"/>
<rect x="576" y="56.95" width="5" height="1.1"/><rect x="600" y="56.95" width="5.5" height="1.1"/>
<rect x="578.2" y="70.51" width="2.5" height="0.9"/><rect x="601" y="70.51" width="2.5" height="0.9"/>
<rect x="578.2" y="67.12" width="2.5" height="0.9"/><rect x="601" y="67.12" width="2.5" height="0.9"/>
<rect x="578.2" y="64.71" width="2.5" height="0.9"/><rect x="601" y="64.71" width="2.5" height="0.9"/>
<rect x="578.2" y="62.84" width="2.5" height="0.9"/><rect x="601" y="62.84" width="2.5" height="0.9"/>
<rect x="578.2" y="61.32" width="2.5" height="0.9"/><rect x="601" y="61.32" width="2.5" height="0.9"/>
<rect x="578.2" y="60.03" width="2.5" height="0.9"/><rect x="601" y="60.03" width="2.5" height="0.9"/>
<rect x="578.2" y="58.92" width="2.5" height="0.9"/><rect x="601" y="58.92" width="2.5" height="0.9"/>
<rect x="578.2" y="57.93" width="2.5" height="0.9"/><rect x="601" y="57.93" width="2.5" height="0.9"/>
<text x="536.8" y="66.6" font-size="13" text-anchor="start" textLength="14.4" lengthAdjust="spacing">10</text>
<rect x="553.4" y="54.0" width="8.6" height="1.1"/>
<text x="563.2" y="59.0" font-size="13" text-anchor="start">6</text>
<rect x="576" y="76.20" width="5" height="1.1"/><rect x="600" y="76.20" width="5.5" height="1.1"/>
<rect x="578.2" y="89.76" width="2.5" height="0.9"/><rect x="601" y="89.76" width="2.5" height="0.9"/>
<rect x="578.2" y="86.37" width="2.5" height="0.9"/><rect x="601" y="86.37" width="2.5" height="0.9"/>
<rect x="578.2" y="83.96" width="2.5" height="0.9"/><rect x="601" y="83.96" width="2.5" height="0.9"/>
<rect x="578.2" y="82.09" width="2.5" height="0.9"/><rect x="601" y="82.09" width="2.5" height="0.9"/>
<rect x="578.2" y="80.57" width="2.5" height="0.9"/><rect x="601" y="80.57" width="2.5" height="0.9"/>
<rect x="578.2" y="79.28" width="2.5" height="0.9"/><rect x="601" y="79.28" width="2.5" height="0.9"/>
<rect x="578.2" y="78.17" width="2.5" height="0.9"/><rect x="601" y="78.17" width="2.5" height="0.9"/>
<rect x="578.2" y="77.18" width="2.5" height="0.9"/><rect x="601" y="77.18" width="2.5" height="0.9"/>
<text x="536.8" y="81.3" font-size="13" text-anchor="start" textLength="14.4" lengthAdjust="spacing">10</text>
<rect x="553.4" y="68.8" width="8.6" height="1.1"/>
<text x="563.2" y="73.8" font-size="13" text-anchor="start">7</text>
<rect x="576" y="95.45" width="5" height="1.1"/><rect x="600" y="95.45" width="5.5" height="1.1"/>
<rect x="578.2" y="109.01" width="2.5" height="0.9"/><rect x="601" y="109.01" width="2.5" height="0.9"/>
<rect x="578.2" y="105.62" width="2.5" height="0.9"/><rect x="601" y="105.62" width="2.5" height="0.9"/>
<rect x="578.2" y="103.21" width="2.5" height="0.9"/><rect x="601" y="103.21" width="2.5" height="0.9"/>
<rect x="578.2" y="101.34" width="2.5" height="0.9"/><rect x="601" y="101.34" width="2.5" height="0.9"/>
<rect x="578.2" y="99.82" width="2.5" height="0.9"/><rect x="601" y="99.82" width="2.5" height="0.9"/>
<rect x="578.2" y="98.53" width="2.5" height="0.9"/><rect x="601" y="98.53" width="2.5" height="0.9"/>
<rect x="578.2" y="97.42" width="2.5" height="0.9"/><rect x="601" y="97.42" width="2.5" height="0.9"/>
<rect x="578.2" y="96.43" width="2.5" height="0.9"/><rect x="601" y="96.43" width="2.5" height="0.9"/>
<text x="536.8" y="100.6" font-size="13" text-anchor="start" textLength="14.4" lengthAdjust="spacing">10</text>
<rect x="553.4" y="88.0" width="8.6" height="1.1"/>
<text x="563.2" y="93.0" font-size="13" text-anchor="start">8</text>
<rect x="576" y="114.70" width="5" height="1.1"/><rect x="600" y="114.70" width="5.5" height="1.1"/>
<rect x="578.2" y="128.26" width="2.5" height="0.9"/><rect x="601" y="128.26" width="2.5" height="0.9"/>
<rect x="578.2" y="124.87" width="2.5" height="0.9"/><rect x="601" y="124.87" width="2.5" height="0.9"/>
<rect x="578.2" y="122.46" width="2.5" height="0.9"/><rect x="601" y="122.46" width="2.5" height="0.9"/>
<rect x="578.2" y="120.59" width="2.5" height="0.9"/><rect x="601" y="120.59" width="2.5" height="0.9"/>
<rect x="578.2" y="119.07" width="2.5" height="0.9"/><rect x="601" y="119.07" width="2.5" height="0.9"/>
<rect x="578.2" y="117.78" width="2.5" height="0.9"/><rect x="601" y="117.78" width="2.5" height="0.9"/>
<rect x="578.2" y="116.67" width="2.5" height="0.9"/><rect x="601" y="116.67" width="2.5" height="0.9"/>
<rect x="578.2" y="115.68" width="2.5" height="0.9"/><rect x="601" y="115.68" width="2.5" height="0.9"/>
<text x="536.8" y="119.8" font-size="13" text-anchor="start" textLength="14.4" lengthAdjust="spacing">10</text>
<rect x="553.4" y="107.2" width="8.6" height="1.1"/>
<text x="563.2" y="112.2" font-size="13" text-anchor="start">9</text>
<rect x="576" y="133.95" width="29.5" height="1.1"/>
<text x="529.3" y="134.8" font-size="13" text-anchor="start" textLength="14.4" lengthAdjust="spacing">10</text>
<rect x="545.8" y="122.2" width="8.6" height="1.1"/>
<text x="555.2" y="127.2" font-size="13" text-anchor="start" textLength="15" lengthAdjust="spacing">10</text>
<rect x="581" y="153.3" width="19.5" height="77.69999999999999" fill="url(#cbg)"/>
<rect x="580" y="153" width="1.2" height="78"/>
<rect x="600" y="153" width="1.2" height="78"/>
<rect x="576" y="152.95" width="5" height="1.1"/><rect x="600" y="152.95" width="5.5" height="1.1"/>
<rect x="578.2" y="166.51" width="2.5" height="0.9"/><rect x="601" y="166.51" width="2.5" height="0.9"/>
<rect x="578.2" y="163.12" width="2.5" height="0.9"/><rect x="601" y="163.12" width="2.5" height="0.9"/>
<rect x="578.2" y="160.71" width="2.5" height="0.9"/><rect x="601" y="160.71" width="2.5" height="0.9"/>
<rect x="578.2" y="158.84" width="2.5" height="0.9"/><rect x="601" y="158.84" width="2.5" height="0.9"/>
<rect x="578.2" y="157.32" width="2.5" height="0.9"/><rect x="601" y="157.32" width="2.5" height="0.9"/>
<rect x="578.2" y="156.03" width="2.5" height="0.9"/><rect x="601" y="156.03" width="2.5" height="0.9"/>
<rect x="578.2" y="154.92" width="2.5" height="0.9"/><rect x="601" y="154.92" width="2.5" height="0.9"/>
<rect x="578.2" y="153.93" width="2.5" height="0.9"/><rect x="601" y="153.93" width="2.5" height="0.9"/>
<text x="536.8" y="162.6" font-size="13" text-anchor="start" textLength="14.4" lengthAdjust="spacing">10</text>
<rect x="553.4" y="150.0" width="8.6" height="1.1"/>
<text x="563.2" y="155.0" font-size="13" text-anchor="start">6</text>
<rect x="576" y="172.20" width="5" height="1.1"/><rect x="600" y="172.20" width="5.5" height="1.1"/>
<rect x="578.2" y="185.76" width="2.5" height="0.9"/><rect x="601" y="185.76" width="2.5" height="0.9"/>
<rect x="578.2" y="182.37" width="2.5" height="0.9"/><rect x="601" y="182.37" width="2.5" height="0.9"/>
<rect x="578.2" y="179.96" width="2.5" height="0.9"/><rect x="601" y="179.96" width="2.5" height="0.9"/>
<rect x="578.2" y="178.09" width="2.5" height="0.9"/><rect x="601" y="178.09" width="2.5" height="0.9"/>
<rect x="578.2" y="176.57" width="2.5" height="0.9"/><rect x="601" y="176.57" width="2.5" height="0.9"/>
<rect x="578.2" y="175.28" width="2.5" height="0.9"/><rect x="601" y="175.28" width="2.5" height="0.9"/>
<rect x="578.2" y="174.17" width="2.5" height="0.9"/><rect x="601" y="174.17" width="2.5" height="0.9"/>
<rect x="578.2" y="173.18" width="2.5" height="0.9"/><rect x="601" y="173.18" width="2.5" height="0.9"/>
<text x="536.8" y="177.3" font-size="13" text-anchor="start" textLength="14.4" lengthAdjust="spacing">10</text>
<rect x="553.4" y="164.8" width="8.6" height="1.1"/>
<text x="563.2" y="169.8" font-size="13" text-anchor="start">7</text>
<rect x="576" y="191.45" width="5" height="1.1"/><rect x="600" y="191.45" width="5.5" height="1.1"/>
<rect x="578.2" y="205.01" width="2.5" height="0.9"/><rect x="601" y="205.01" width="2.5" height="0.9"/>
<rect x="578.2" y="201.62" width="2.5" height="0.9"/><rect x="601" y="201.62" width="2.5" height="0.9"/>
<rect x="578.2" y="199.21" width="2.5" height="0.9"/><rect x="601" y="199.21" width="2.5" height="0.9"/>
<rect x="578.2" y="197.34" width="2.5" height="0.9"/><rect x="601" y="197.34" width="2.5" height="0.9"/>
<rect x="578.2" y="195.82" width="2.5" height="0.9"/><rect x="601" y="195.82" width="2.5" height="0.9"/>
<rect x="578.2" y="194.53" width="2.5" height="0.9"/><rect x="601" y="194.53" width="2.5" height="0.9"/>
<rect x="578.2" y="193.42" width="2.5" height="0.9"/><rect x="601" y="193.42" width="2.5" height="0.9"/>
<rect x="578.2" y="192.43" width="2.5" height="0.9"/><rect x="601" y="192.43" width="2.5" height="0.9"/>
<text x="536.8" y="196.6" font-size="13" text-anchor="start" textLength="14.4" lengthAdjust="spacing">10</text>
<rect x="553.4" y="184.0" width="8.6" height="1.1"/>
<text x="563.2" y="189.0" font-size="13" text-anchor="start">8</text>
<rect x="576" y="210.70" width="5" height="1.1"/><rect x="600" y="210.70" width="5.5" height="1.1"/>
<rect x="578.2" y="224.26" width="2.5" height="0.9"/><rect x="601" y="224.26" width="2.5" height="0.9"/>
<rect x="578.2" y="220.87" width="2.5" height="0.9"/><rect x="601" y="220.87" width="2.5" height="0.9"/>
<rect x="578.2" y="218.46" width="2.5" height="0.9"/><rect x="601" y="218.46" width="2.5" height="0.9"/>
<rect x="578.2" y="216.59" width="2.5" height="0.9"/><rect x="601" y="216.59" width="2.5" height="0.9"/>
<rect x="578.2" y="215.07" width="2.5" height="0.9"/><rect x="601" y="215.07" width="2.5" height="0.9"/>
<rect x="578.2" y="213.78" width="2.5" height="0.9"/><rect x="601" y="213.78" width="2.5" height="0.9"/>
<rect x="578.2" y="212.67" width="2.5" height="0.9"/><rect x="601" y="212.67" width="2.5" height="0.9"/>
<rect x="578.2" y="211.68" width="2.5" height="0.9"/><rect x="601" y="211.68" width="2.5" height="0.9"/>
<text x="536.8" y="215.8" font-size="13" text-anchor="start" textLength="14.4" lengthAdjust="spacing">10</text>
<rect x="553.4" y="203.2" width="8.6" height="1.1"/>
<text x="563.2" y="208.2" font-size="13" text-anchor="start">9</text>
<rect x="576" y="229.95" width="29.5" height="1.1"/>
<text x="529.3" y="230.8" font-size="13" text-anchor="start" textLength="14.4" lengthAdjust="spacing">10</text>
<rect x="545.8" y="218.2" width="8.6" height="1.1"/>
<text x="555.2" y="223.2" font-size="13" text-anchor="start" textLength="15" lengthAdjust="spacing">10</text>
<rect x="581" y="249.3" width="19.5" height="77.69999999999999" fill="url(#cbg)"/>
<rect x="580" y="249" width="1.2" height="78"/>
<rect x="600" y="249" width="1.2" height="78"/>
<rect x="576" y="248.95" width="5" height="1.1"/><rect x="600" y="248.95" width="5.5" height="1.1"/>
<rect x="578.2" y="266.99" width="2.5" height="0.9"/><rect x="601" y="266.99" width="2.5" height="0.9"/>
<rect x="578.2" y="262.47" width="2.5" height="0.9"/><rect x="601" y="262.47" width="2.5" height="0.9"/>
<rect x="578.2" y="259.26" width="2.5" height="0.9"/><rect x="601" y="259.26" width="2.5" height="0.9"/>
<rect x="578.2" y="256.78" width="2.5" height="0.9"/><rect x="601" y="256.78" width="2.5" height="0.9"/>
<rect x="578.2" y="254.74" width="2.5" height="0.9"/><rect x="601" y="254.74" width="2.5" height="0.9"/>
<rect x="578.2" y="253.03" width="2.5" height="0.9"/><rect x="601" y="253.03" width="2.5" height="0.9"/>
<rect x="578.2" y="251.54" width="2.5" height="0.9"/><rect x="601" y="251.54" width="2.5" height="0.9"/>
<rect x="578.2" y="250.22" width="2.5" height="0.9"/><rect x="601" y="250.22" width="2.5" height="0.9"/>
<text x="536.8" y="258.6" font-size="13" text-anchor="start" textLength="14.4" lengthAdjust="spacing">10</text>
<rect x="553.4" y="246.0" width="8.6" height="1.1"/>
<text x="563.2" y="251.0" font-size="13" text-anchor="start">6</text>
<rect x="576" y="274.62" width="5" height="1.1"/><rect x="600" y="274.62" width="5.5" height="1.1"/>
<rect x="578.2" y="292.66" width="2.5" height="0.9"/><rect x="601" y="292.66" width="2.5" height="0.9"/>
<rect x="578.2" y="288.14" width="2.5" height="0.9"/><rect x="601" y="288.14" width="2.5" height="0.9"/>
<rect x="578.2" y="284.93" width="2.5" height="0.9"/><rect x="601" y="284.93" width="2.5" height="0.9"/>
<rect x="578.2" y="282.44" width="2.5" height="0.9"/><rect x="601" y="282.44" width="2.5" height="0.9"/>
<rect x="578.2" y="280.41" width="2.5" height="0.9"/><rect x="601" y="280.41" width="2.5" height="0.9"/>
<rect x="578.2" y="278.69" width="2.5" height="0.9"/><rect x="601" y="278.69" width="2.5" height="0.9"/>
<rect x="578.2" y="277.20" width="2.5" height="0.9"/><rect x="601" y="277.20" width="2.5" height="0.9"/>
<rect x="578.2" y="275.89" width="2.5" height="0.9"/><rect x="601" y="275.89" width="2.5" height="0.9"/>
<text x="536.8" y="279.8" font-size="13" text-anchor="start" textLength="14.4" lengthAdjust="spacing">10</text>
<rect x="553.4" y="267.2" width="8.6" height="1.1"/>
<text x="563.2" y="272.2" font-size="13" text-anchor="start">7</text>
<rect x="576" y="300.28" width="5" height="1.1"/><rect x="600" y="300.28" width="5.5" height="1.1"/>
<rect x="578.2" y="318.32" width="2.5" height="0.9"/><rect x="601" y="318.32" width="2.5" height="0.9"/>
<rect x="578.2" y="313.80" width="2.5" height="0.9"/><rect x="601" y="313.80" width="2.5" height="0.9"/>
<rect x="578.2" y="310.60" width="2.5" height="0.9"/><rect x="601" y="310.60" width="2.5" height="0.9"/>
<rect x="578.2" y="308.11" width="2.5" height="0.9"/><rect x="601" y="308.11" width="2.5" height="0.9"/>
<rect x="578.2" y="306.08" width="2.5" height="0.9"/><rect x="601" y="306.08" width="2.5" height="0.9"/>
<rect x="578.2" y="304.36" width="2.5" height="0.9"/><rect x="601" y="304.36" width="2.5" height="0.9"/>
<rect x="578.2" y="302.87" width="2.5" height="0.9"/><rect x="601" y="302.87" width="2.5" height="0.9"/>
<rect x="578.2" y="301.56" width="2.5" height="0.9"/><rect x="601" y="301.56" width="2.5" height="0.9"/>
<text x="536.8" y="305.4" font-size="13" text-anchor="start" textLength="14.4" lengthAdjust="spacing">10</text>
<rect x="553.4" y="292.8" width="8.6" height="1.1"/>
<text x="563.2" y="297.8" font-size="13" text-anchor="start">8</text>
<rect x="576" y="325.95" width="29.5" height="1.1"/>
<text x="536.8" y="326.8" font-size="13" text-anchor="start" textLength="14.4" lengthAdjust="spacing">10</text>
<rect x="553.4" y="314.2" width="8.6" height="1.1"/>
<text x="563.2" y="319.2" font-size="13" text-anchor="start">9</text>
<rect x="581" y="364.3" width="19.5" height="77.69999999999999" fill="url(#cbg)"/>
<rect x="580" y="364" width="1.2" height="78"/>
<rect x="600" y="364" width="1.2" height="78"/>
<rect x="576" y="363.95" width="5" height="1.1"/><rect x="600" y="363.95" width="5.5" height="1.1"/>
<rect x="578.2" y="374.81" width="2.5" height="0.9"/><rect x="601" y="374.81" width="2.5" height="0.9"/>
<rect x="578.2" y="372.10" width="2.5" height="0.9"/><rect x="601" y="372.10" width="2.5" height="0.9"/>
<rect x="578.2" y="370.18" width="2.5" height="0.9"/><rect x="601" y="370.18" width="2.5" height="0.9"/>
<rect x="578.2" y="368.69" width="2.5" height="0.9"/><rect x="601" y="368.69" width="2.5" height="0.9"/>
<rect x="578.2" y="367.47" width="2.5" height="0.9"/><rect x="601" y="367.47" width="2.5" height="0.9"/>
<rect x="578.2" y="366.44" width="2.5" height="0.9"/><rect x="601" y="366.44" width="2.5" height="0.9"/>
<rect x="578.2" y="365.54" width="2.5" height="0.9"/><rect x="601" y="365.54" width="2.5" height="0.9"/>
<rect x="578.2" y="364.75" width="2.5" height="0.9"/><rect x="601" y="364.75" width="2.5" height="0.9"/>
<text x="536.8" y="373.6" font-size="13" text-anchor="start" textLength="14.4" lengthAdjust="spacing">10</text>
<rect x="553.4" y="361.0" width="8.6" height="1.1"/>
<text x="563.2" y="366.0" font-size="13" text-anchor="start">1</text>
<rect x="576" y="379.35" width="5" height="1.1"/><rect x="600" y="379.35" width="5.5" height="1.1"/>
<rect x="578.2" y="390.21" width="2.5" height="0.9"/><rect x="601" y="390.21" width="2.5" height="0.9"/>
<rect x="578.2" y="387.50" width="2.5" height="0.9"/><rect x="601" y="387.50" width="2.5" height="0.9"/>
<rect x="578.2" y="385.58" width="2.5" height="0.9"/><rect x="601" y="385.58" width="2.5" height="0.9"/>
<rect x="578.2" y="384.09" width="2.5" height="0.9"/><rect x="601" y="384.09" width="2.5" height="0.9"/>
<rect x="578.2" y="382.87" width="2.5" height="0.9"/><rect x="601" y="382.87" width="2.5" height="0.9"/>
<rect x="578.2" y="381.84" width="2.5" height="0.9"/><rect x="601" y="381.84" width="2.5" height="0.9"/>
<rect x="578.2" y="380.94" width="2.5" height="0.9"/><rect x="601" y="380.94" width="2.5" height="0.9"/>
<rect x="578.2" y="380.15" width="2.5" height="0.9"/><rect x="601" y="380.15" width="2.5" height="0.9"/>
<text x="536.8" y="384.5" font-size="13" text-anchor="start" textLength="14.4" lengthAdjust="spacing">10</text>
<rect x="553.4" y="371.9" width="8.6" height="1.1"/>
<text x="563.2" y="376.9" font-size="13" text-anchor="start">2</text>
<rect x="576" y="394.75" width="5" height="1.1"/><rect x="600" y="394.75" width="5.5" height="1.1"/>
<rect x="578.2" y="405.61" width="2.5" height="0.9"/><rect x="601" y="405.61" width="2.5" height="0.9"/>
<rect x="578.2" y="402.90" width="2.5" height="0.9"/><rect x="601" y="402.90" width="2.5" height="0.9"/>
<rect x="578.2" y="400.98" width="2.5" height="0.9"/><rect x="601" y="400.98" width="2.5" height="0.9"/>
<rect x="578.2" y="399.49" width="2.5" height="0.9"/><rect x="601" y="399.49" width="2.5" height="0.9"/>
<rect x="578.2" y="398.27" width="2.5" height="0.9"/><rect x="601" y="398.27" width="2.5" height="0.9"/>
<rect x="578.2" y="397.24" width="2.5" height="0.9"/><rect x="601" y="397.24" width="2.5" height="0.9"/>
<rect x="578.2" y="396.34" width="2.5" height="0.9"/><rect x="601" y="396.34" width="2.5" height="0.9"/>
<rect x="578.2" y="395.55" width="2.5" height="0.9"/><rect x="601" y="395.55" width="2.5" height="0.9"/>
<text x="536.8" y="399.9" font-size="13" text-anchor="start" textLength="14.4" lengthAdjust="spacing">10</text>
<rect x="553.4" y="387.3" width="8.6" height="1.1"/>
<text x="563.2" y="392.3" font-size="13" text-anchor="start">3</text>
<rect x="576" y="410.15" width="5" height="1.1"/><rect x="600" y="410.15" width="5.5" height="1.1"/>
<rect x="578.2" y="421.01" width="2.5" height="0.9"/><rect x="601" y="421.01" width="2.5" height="0.9"/>
<rect x="578.2" y="418.30" width="2.5" height="0.9"/><rect x="601" y="418.30" width="2.5" height="0.9"/>
<rect x="578.2" y="416.38" width="2.5" height="0.9"/><rect x="601" y="416.38" width="2.5" height="0.9"/>
<rect x="578.2" y="414.89" width="2.5" height="0.9"/><rect x="601" y="414.89" width="2.5" height="0.9"/>
<rect x="578.2" y="413.67" width="2.5" height="0.9"/><rect x="601" y="413.67" width="2.5" height="0.9"/>
<rect x="578.2" y="412.64" width="2.5" height="0.9"/><rect x="601" y="412.64" width="2.5" height="0.9"/>
<rect x="578.2" y="411.74" width="2.5" height="0.9"/><rect x="601" y="411.74" width="2.5" height="0.9"/>
<rect x="578.2" y="410.95" width="2.5" height="0.9"/><rect x="601" y="410.95" width="2.5" height="0.9"/>
<text x="536.8" y="415.3" font-size="13" text-anchor="start" textLength="14.4" lengthAdjust="spacing">10</text>
<rect x="553.4" y="402.7" width="8.6" height="1.1"/>
<text x="563.2" y="407.7" font-size="13" text-anchor="start">4</text>
<rect x="576" y="425.55" width="5" height="1.1"/><rect x="600" y="425.55" width="5.5" height="1.1"/>
<rect x="578.2" y="436.41" width="2.5" height="0.9"/><rect x="601" y="436.41" width="2.5" height="0.9"/>
<rect x="578.2" y="433.70" width="2.5" height="0.9"/><rect x="601" y="433.70" width="2.5" height="0.9"/>
<rect x="578.2" y="431.78" width="2.5" height="0.9"/><rect x="601" y="431.78" width="2.5" height="0.9"/>
<rect x="578.2" y="430.29" width="2.5" height="0.9"/><rect x="601" y="430.29" width="2.5" height="0.9"/>
<rect x="578.2" y="429.07" width="2.5" height="0.9"/><rect x="601" y="429.07" width="2.5" height="0.9"/>
<rect x="578.2" y="428.04" width="2.5" height="0.9"/><rect x="601" y="428.04" width="2.5" height="0.9"/>
<rect x="578.2" y="427.14" width="2.5" height="0.9"/><rect x="601" y="427.14" width="2.5" height="0.9"/>
<rect x="578.2" y="426.35" width="2.5" height="0.9"/><rect x="601" y="426.35" width="2.5" height="0.9"/>
<text x="536.8" y="430.7" font-size="13" text-anchor="start" textLength="14.4" lengthAdjust="spacing">10</text>
<rect x="553.4" y="418.1" width="8.6" height="1.1"/>
<text x="563.2" y="423.1" font-size="13" text-anchor="start">5</text>
<rect x="576" y="440.95" width="29.5" height="1.1"/>
<text x="536.8" y="441.8" font-size="13" text-anchor="start" textLength="14.4" lengthAdjust="spacing">10</text>
<rect x="553.4" y="429.2" width="8.6" height="1.1"/>
<text x="563.2" y="434.2" font-size="13" text-anchor="start">6</text>
<rect x="581" y="460.3" width="19.5" height="77.69999999999999" fill="url(#cbg)"/>
<rect x="580" y="460" width="1.2" height="78"/>
<rect x="600" y="460" width="1.2" height="78"/>
<rect x="576" y="459.95" width="5" height="1.1"/><rect x="600" y="459.95" width="5.5" height="1.1"/>
<rect x="578.2" y="470.81" width="2.5" height="0.9"/><rect x="601" y="470.81" width="2.5" height="0.9"/>
<rect x="578.2" y="468.10" width="2.5" height="0.9"/><rect x="601" y="468.10" width="2.5" height="0.9"/>
<rect x="578.2" y="466.18" width="2.5" height="0.9"/><rect x="601" y="466.18" width="2.5" height="0.9"/>
<rect x="578.2" y="464.69" width="2.5" height="0.9"/><rect x="601" y="464.69" width="2.5" height="0.9"/>
<rect x="578.2" y="463.47" width="2.5" height="0.9"/><rect x="601" y="463.47" width="2.5" height="0.9"/>
<rect x="578.2" y="462.44" width="2.5" height="0.9"/><rect x="601" y="462.44" width="2.5" height="0.9"/>
<rect x="578.2" y="461.54" width="2.5" height="0.9"/><rect x="601" y="461.54" width="2.5" height="0.9"/>
<rect x="578.2" y="460.75" width="2.5" height="0.9"/><rect x="601" y="460.75" width="2.5" height="0.9"/>
<text x="536.8" y="469.6" font-size="13" text-anchor="start" textLength="14.4" lengthAdjust="spacing">10</text>
<rect x="553.4" y="457.0" width="8.6" height="1.1"/>
<text x="563.2" y="462.0" font-size="13" text-anchor="start">1</text>
<rect x="576" y="475.35" width="5" height="1.1"/><rect x="600" y="475.35" width="5.5" height="1.1"/>
<rect x="578.2" y="486.21" width="2.5" height="0.9"/><rect x="601" y="486.21" width="2.5" height="0.9"/>
<rect x="578.2" y="483.50" width="2.5" height="0.9"/><rect x="601" y="483.50" width="2.5" height="0.9"/>
<rect x="578.2" y="481.58" width="2.5" height="0.9"/><rect x="601" y="481.58" width="2.5" height="0.9"/>
<rect x="578.2" y="480.09" width="2.5" height="0.9"/><rect x="601" y="480.09" width="2.5" height="0.9"/>
<rect x="578.2" y="478.87" width="2.5" height="0.9"/><rect x="601" y="478.87" width="2.5" height="0.9"/>
<rect x="578.2" y="477.84" width="2.5" height="0.9"/><rect x="601" y="477.84" width="2.5" height="0.9"/>
<rect x="578.2" y="476.94" width="2.5" height="0.9"/><rect x="601" y="476.94" width="2.5" height="0.9"/>
<rect x="578.2" y="476.15" width="2.5" height="0.9"/><rect x="601" y="476.15" width="2.5" height="0.9"/>
<text x="536.8" y="480.5" font-size="13" text-anchor="start" textLength="14.4" lengthAdjust="spacing">10</text>
<rect x="553.4" y="467.9" width="8.6" height="1.1"/>
<text x="563.2" y="472.9" font-size="13" text-anchor="start">2</text>
<rect x="576" y="490.75" width="5" height="1.1"/><rect x="600" y="490.75" width="5.5" height="1.1"/>
<rect x="578.2" y="501.61" width="2.5" height="0.9"/><rect x="601" y="501.61" width="2.5" height="0.9"/>
<rect x="578.2" y="498.90" width="2.5" height="0.9"/><rect x="601" y="498.90" width="2.5" height="0.9"/>
<rect x="578.2" y="496.98" width="2.5" height="0.9"/><rect x="601" y="496.98" width="2.5" height="0.9"/>
<rect x="578.2" y="495.49" width="2.5" height="0.9"/><rect x="601" y="495.49" width="2.5" height="0.9"/>
<rect x="578.2" y="494.27" width="2.5" height="0.9"/><rect x="601" y="494.27" width="2.5" height="0.9"/>
<rect x="578.2" y="493.24" width="2.5" height="0.9"/><rect x="601" y="493.24" width="2.5" height="0.9"/>
<rect x="578.2" y="492.34" width="2.5" height="0.9"/><rect x="601" y="492.34" width="2.5" height="0.9"/>
<rect x="578.2" y="491.55" width="2.5" height="0.9"/><rect x="601" y="491.55" width="2.5" height="0.9"/>
<text x="536.8" y="495.9" font-size="13" text-anchor="start" textLength="14.4" lengthAdjust="spacing">10</text>
<rect x="553.4" y="483.3" width="8.6" height="1.1"/>
<text x="563.2" y="488.3" font-size="13" text-anchor="start">3</text>
<rect x="576" y="506.15" width="5" height="1.1"/><rect x="600" y="506.15" width="5.5" height="1.1"/>
<rect x="578.2" y="517.01" width="2.5" height="0.9"/><rect x="601" y="517.01" width="2.5" height="0.9"/>
<rect x="578.2" y="514.30" width="2.5" height="0.9"/><rect x="601" y="514.30" width="2.5" height="0.9"/>
<rect x="578.2" y="512.38" width="2.5" height="0.9"/><rect x="601" y="512.38" width="2.5" height="0.9"/>
<rect x="578.2" y="510.89" width="2.5" height="0.9"/><rect x="601" y="510.89" width="2.5" height="0.9"/>
<rect x="578.2" y="509.67" width="2.5" height="0.9"/><rect x="601" y="509.67" width="2.5" height="0.9"/>
<rect x="578.2" y="508.64" width="2.5" height="0.9"/><rect x="601" y="508.64" width="2.5" height="0.9"/>
<rect x="578.2" y="507.74" width="2.5" height="0.9"/><rect x="601" y="507.74" width="2.5" height="0.9"/>
<rect x="578.2" y="506.95" width="2.5" height="0.9"/><rect x="601" y="506.95" width="2.5" height="0.9"/>
<text x="536.8" y="511.3" font-size="13" text-anchor="start" textLength="14.4" lengthAdjust="spacing">10</text>
<rect x="553.4" y="498.7" width="8.6" height="1.1"/>
<text x="563.2" y="503.7" font-size="13" text-anchor="start">4</text>
<rect x="576" y="521.55" width="5" height="1.1"/><rect x="600" y="521.55" width="5.5" height="1.1"/>
<rect x="578.2" y="532.41" width="2.5" height="0.9"/><rect x="601" y="532.41" width="2.5" height="0.9"/>
<rect x="578.2" y="529.70" width="2.5" height="0.9"/><rect x="601" y="529.70" width="2.5" height="0.9"/>
<rect x="578.2" y="527.78" width="2.5" height="0.9"/><rect x="601" y="527.78" width="2.5" height="0.9"/>
<rect x="578.2" y="526.29" width="2.5" height="0.9"/><rect x="601" y="526.29" width="2.5" height="0.9"/>
<rect x="578.2" y="525.07" width="2.5" height="0.9"/><rect x="601" y="525.07" width="2.5" height="0.9"/>
<rect x="578.2" y="524.04" width="2.5" height="0.9"/><rect x="601" y="524.04" width="2.5" height="0.9"/>
<rect x="578.2" y="523.14" width="2.5" height="0.9"/><rect x="601" y="523.14" width="2.5" height="0.9"/>
<rect x="578.2" y="522.35" width="2.5" height="0.9"/><rect x="601" y="522.35" width="2.5" height="0.9"/>
<text x="536.8" y="526.7" font-size="13" text-anchor="start" textLength="14.4" lengthAdjust="spacing">10</text>
<rect x="553.4" y="514.1" width="8.6" height="1.1"/>
<text x="563.2" y="519.1" font-size="13" text-anchor="start">5</text>
<rect x="576" y="536.95" width="29.5" height="1.1"/>
<text x="536.8" y="537.8" font-size="13" text-anchor="start" textLength="14.4" lengthAdjust="spacing">10</text>
<rect x="553.4" y="525.2" width="8.6" height="1.1"/>
<text x="563.2" y="530.2" font-size="13" text-anchor="start">6</text>
<rect x="581" y="556.3" width="19.5" height="77.70000000000005" fill="url(#cbg)"/>
<rect x="580" y="556" width="1.2" height="78"/>
<rect x="600" y="556" width="1.2" height="78"/>
<rect x="576" y="555.95" width="5" height="1.1"/><rect x="600" y="555.95" width="5.5" height="1.1"/>
<rect x="578.2" y="566.81" width="2.5" height="0.9"/><rect x="601" y="566.81" width="2.5" height="0.9"/>
<rect x="578.2" y="564.10" width="2.5" height="0.9"/><rect x="601" y="564.10" width="2.5" height="0.9"/>
<rect x="578.2" y="562.18" width="2.5" height="0.9"/><rect x="601" y="562.18" width="2.5" height="0.9"/>
<rect x="578.2" y="560.69" width="2.5" height="0.9"/><rect x="601" y="560.69" width="2.5" height="0.9"/>
<rect x="578.2" y="559.47" width="2.5" height="0.9"/><rect x="601" y="559.47" width="2.5" height="0.9"/>
<rect x="578.2" y="558.44" width="2.5" height="0.9"/><rect x="601" y="558.44" width="2.5" height="0.9"/>
<rect x="578.2" y="557.54" width="2.5" height="0.9"/><rect x="601" y="557.54" width="2.5" height="0.9"/>
<rect x="578.2" y="556.75" width="2.5" height="0.9"/><rect x="601" y="556.75" width="2.5" height="0.9"/>
<text x="536.8" y="565.6" font-size="13" text-anchor="start" textLength="14.4" lengthAdjust="spacing">10</text>
<rect x="553.4" y="553.0" width="8.6" height="1.1"/>
<text x="563.2" y="558.0" font-size="13" text-anchor="start">1</text>
<rect x="576" y="571.35" width="5" height="1.1"/><rect x="600" y="571.35" width="5.5" height="1.1"/>
<rect x="578.2" y="582.21" width="2.5" height="0.9"/><rect x="601" y="582.21" width="2.5" height="0.9"/>
<rect x="578.2" y="579.50" width="2.5" height="0.9"/><rect x="601" y="579.50" width="2.5" height="0.9"/>
<rect x="578.2" y="577.58" width="2.5" height="0.9"/><rect x="601" y="577.58" width="2.5" height="0.9"/>
<rect x="578.2" y="576.09" width="2.5" height="0.9"/><rect x="601" y="576.09" width="2.5" height="0.9"/>
<rect x="578.2" y="574.87" width="2.5" height="0.9"/><rect x="601" y="574.87" width="2.5" height="0.9"/>
<rect x="578.2" y="573.84" width="2.5" height="0.9"/><rect x="601" y="573.84" width="2.5" height="0.9"/>
<rect x="578.2" y="572.94" width="2.5" height="0.9"/><rect x="601" y="572.94" width="2.5" height="0.9"/>
<rect x="578.2" y="572.15" width="2.5" height="0.9"/><rect x="601" y="572.15" width="2.5" height="0.9"/>
<text x="536.8" y="576.5" font-size="13" text-anchor="start" textLength="14.4" lengthAdjust="spacing">10</text>
<rect x="553.4" y="563.9" width="8.6" height="1.1"/>
<text x="563.2" y="568.9" font-size="13" text-anchor="start">2</text>
<rect x="576" y="586.75" width="5" height="1.1"/><rect x="600" y="586.75" width="5.5" height="1.1"/>
<rect x="578.2" y="597.61" width="2.5" height="0.9"/><rect x="601" y="597.61" width="2.5" height="0.9"/>
<rect x="578.2" y="594.90" width="2.5" height="0.9"/><rect x="601" y="594.90" width="2.5" height="0.9"/>
<rect x="578.2" y="592.98" width="2.5" height="0.9"/><rect x="601" y="592.98" width="2.5" height="0.9"/>
<rect x="578.2" y="591.49" width="2.5" height="0.9"/><rect x="601" y="591.49" width="2.5" height="0.9"/>
<rect x="578.2" y="590.27" width="2.5" height="0.9"/><rect x="601" y="590.27" width="2.5" height="0.9"/>
<rect x="578.2" y="589.24" width="2.5" height="0.9"/><rect x="601" y="589.24" width="2.5" height="0.9"/>
<rect x="578.2" y="588.34" width="2.5" height="0.9"/><rect x="601" y="588.34" width="2.5" height="0.9"/>
<rect x="578.2" y="587.55" width="2.5" height="0.9"/><rect x="601" y="587.55" width="2.5" height="0.9"/>
<text x="536.8" y="591.9" font-size="13" text-anchor="start" textLength="14.4" lengthAdjust="spacing">10</text>
<rect x="553.4" y="579.3" width="8.6" height="1.1"/>
<text x="563.2" y="584.3" font-size="13" text-anchor="start">3</text>
<rect x="576" y="602.15" width="5" height="1.1"/><rect x="600" y="602.15" width="5.5" height="1.1"/>
<rect x="578.2" y="613.01" width="2.5" height="0.9"/><rect x="601" y="613.01" width="2.5" height="0.9"/>
<rect x="578.2" y="610.30" width="2.5" height="0.9"/><rect x="601" y="610.30" width="2.5" height="0.9"/>
<rect x="578.2" y="608.38" width="2.5" height="0.9"/><rect x="601" y="608.38" width="2.5" height="0.9"/>
<rect x="578.2" y="606.89" width="2.5" height="0.9"/><rect x="601" y="606.89" width="2.5" height="0.9"/>
<rect x="578.2" y="605.67" width="2.5" height="0.9"/><rect x="601" y="605.67" width="2.5" height="0.9"/>
<rect x="578.2" y="604.64" width="2.5" height="0.9"/><rect x="601" y="604.64" width="2.5" height="0.9"/>
<rect x="578.2" y="603.74" width="2.5" height="0.9"/><rect x="601" y="603.74" width="2.5" height="0.9"/>
<rect x="578.2" y="602.95" width="2.5" height="0.9"/><rect x="601" y="602.95" width="2.5" height="0.9"/>
<text x="536.8" y="607.3" font-size="13" text-anchor="start" textLength="14.4" lengthAdjust="spacing">10</text>
<rect x="553.4" y="594.7" width="8.6" height="1.1"/>
<text x="563.2" y="599.7" font-size="13" text-anchor="start">4</text>
<rect x="576" y="617.55" width="5" height="1.1"/><rect x="600" y="617.55" width="5.5" height="1.1"/>
<rect x="578.2" y="628.41" width="2.5" height="0.9"/><rect x="601" y="628.41" width="2.5" height="0.9"/>
<rect x="578.2" y="625.70" width="2.5" height="0.9"/><rect x="601" y="625.70" width="2.5" height="0.9"/>
<rect x="578.2" y="623.78" width="2.5" height="0.9"/><rect x="601" y="623.78" width="2.5" height="0.9"/>
<rect x="578.2" y="622.29" width="2.5" height="0.9"/><rect x="601" y="622.29" width="2.5" height="0.9"/>
<rect x="578.2" y="621.07" width="2.5" height="0.9"/><rect x="601" y="621.07" width="2.5" height="0.9"/>
<rect x="578.2" y="620.04" width="2.5" height="0.9"/><rect x="601" y="620.04" width="2.5" height="0.9"/>
<rect x="578.2" y="619.14" width="2.5" height="0.9"/><rect x="601" y="619.14" width="2.5" height="0.9"/>
<rect x="578.2" y="618.35" width="2.5" height="0.9"/><rect x="601" y="618.35" width="2.5" height="0.9"/>
<text x="536.8" y="622.7" font-size="13" text-anchor="start" textLength="14.4" lengthAdjust="spacing">10</text>
<rect x="553.4" y="610.1" width="8.6" height="1.1"/>
<text x="563.2" y="615.1" font-size="13" text-anchor="start">5</text>
<rect x="576" y="632.95" width="29.5" height="1.1"/>
<text x="536.8" y="633.8" font-size="13" text-anchor="start" textLength="14.4" lengthAdjust="spacing">10</text>
<rect x="553.4" y="621.2" width="8.6" height="1.1"/>
<text x="563.2" y="626.2" font-size="13" text-anchor="start">6</text>
<text x="562.8" y="37.3" font-size="10.5" text-anchor="start" textLength="30.2" lengthAdjust="spacing">(V/m)</text>
<text x="593.6" y="33.2" font-size="6.5" text-anchor="start">2</text>
<text x="598.4" y="37.3" font-size="10.5" text-anchor="start" textLength="18.6" lengthAdjust="spacing">/Hz</text>
<text x="573" y="345.3" font-size="10.5" text-anchor="start" textLength="12.5" lengthAdjust="spacing">nT</text>
<text x="586.6" y="341.2" font-size="6.5" text-anchor="start">2</text>
<text x="590.8" y="345.3" font-size="10.5" text-anchor="start" textLength="15.6" lengthAdjust="spacing">/Hz</text>
<g transform="translate(0,-0.9)"><text x="16" y="654" font-size="13" text-anchor="start" textLength="31.5" lengthAdjust="spacing">SCET</text>
<text x="50" y="654" font-size="13" text-anchor="start" textLength="38" lengthAdjust="spacing">00:00</text>
<text x="101.5" y="654" font-size="13" text-anchor="start">6</text>
<text x="155" y="654" font-size="13" text-anchor="start" textLength="38" lengthAdjust="spacing">06:00</text>
<text x="207.5" y="654" font-size="13" text-anchor="start">6</text>
<text x="261" y="654" font-size="13" text-anchor="start" textLength="38" lengthAdjust="spacing">12:00</text>
<text x="313.5" y="654" font-size="13" text-anchor="start">6</text>
<text x="366.5" y="654" font-size="13" text-anchor="start" textLength="38" lengthAdjust="spacing">18:00</text>
<text x="417.5" y="654" font-size="13" text-anchor="start">6</text>
<text x="470" y="654" font-size="13" text-anchor="start" textLength="38" lengthAdjust="spacing">00:00</text>
<text x="522.5" y="654" font-size="13" text-anchor="start">7</text>
<text x="34" y="672.5" font-size="13" text-anchor="start">R</text>
<text x="43.3" y="676" font-size="9" text-anchor="start">E</text>
<text x="30.5" y="690" font-size="13" text-anchor="start">λ</text>
<text x="39" y="693.5" font-size="9" text-anchor="start" textLength="9" lengthAdjust="spacing">m</text>
<text x="25" y="708.5" font-size="13" text-anchor="start" textLength="22.5" lengthAdjust="spacing">MLT</text>
<text x="41.5" y="726.5" font-size="13" text-anchor="start">L</text>
<text x="72" y="672.5" font-size="13" text-anchor="start" textLength="29" lengthAdjust="spacing">3.34</text>
<text x="176.5" y="672.5" font-size="13" text-anchor="start" textLength="29" lengthAdjust="spacing">7.59</text>
<text x="282" y="672.5" font-size="13" text-anchor="start" textLength="29" lengthAdjust="spacing">8.57</text>
<text x="387" y="672.5" font-size="13" text-anchor="start" textLength="29" lengthAdjust="spacing">2.60</text>
<text x="492" y="672.5" font-size="13" text-anchor="start" textLength="29" lengthAdjust="spacing">7.88</text>
<text x="64.5" y="690.5" font-size="13" text-anchor="start" textLength="36.5" lengthAdjust="spacing">−0.01</text>
<text x="169.0" y="690.5" font-size="13" text-anchor="start" textLength="36.5" lengthAdjust="spacing">72.05</text>
<text x="274.5" y="690.5" font-size="13" text-anchor="start" textLength="36.5" lengthAdjust="spacing">51.01</text>
<text x="370" y="690.5" font-size="13" text-anchor="start" textLength="49" lengthAdjust="spacing">−36.04</text>
<text x="484.5" y="690.5" font-size="13" text-anchor="start" textLength="36.5" lengthAdjust="spacing">76.04</text>
<text x="64.5" y="708.5" font-size="13" text-anchor="start" textLength="36.5" lengthAdjust="spacing">21.09</text>
<text x="169.0" y="708.5" font-size="13" text-anchor="start" textLength="36.5" lengthAdjust="spacing">11.84</text>
<text x="274.5" y="708.5" font-size="13" text-anchor="start" textLength="36.5" lengthAdjust="spacing">19.71</text>
<text x="379.5" y="708.5" font-size="13" text-anchor="start" textLength="36.5" lengthAdjust="spacing">20.45</text>
<text x="492" y="708.5" font-size="13" text-anchor="start" textLength="29" lengthAdjust="spacing">8.94</text>
<text x="72" y="726.5" font-size="13" text-anchor="start" textLength="29" lengthAdjust="spacing">3.42</text>
<text x="169.0" y="726.5" font-size="13" text-anchor="start" textLength="36.5" lengthAdjust="spacing">79.53</text>
<text x="274.5" y="726.5" font-size="13" text-anchor="start" textLength="36.5" lengthAdjust="spacing">21.50</text>
<text x="387" y="726.5" font-size="13" text-anchor="start" textLength="29" lengthAdjust="spacing">4.03</text>
<text x="477.5" y="726.5" font-size="13" text-anchor="start" textLength="45" lengthAdjust="spacing">134.62</text>
<text x="147.5" y="744.5" font-size="13" text-anchor="start" textLength="286" lengthAdjust="spacing">1996/06/06 00:00 to 1996/06/07 00:00</text>
<text x="570" y="766" font-size="8.5" text-anchor="start" textLength="67.5" lengthAdjust="spacing">UIowa 19980829</text></g>
</g>
</svg>
</body></html>
